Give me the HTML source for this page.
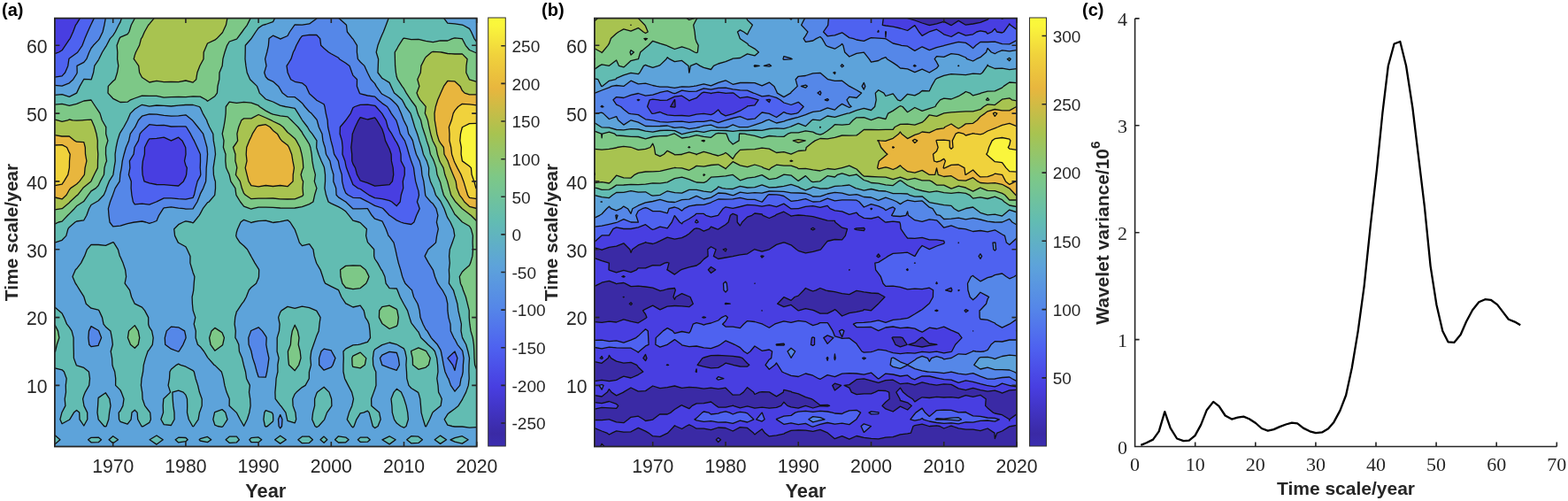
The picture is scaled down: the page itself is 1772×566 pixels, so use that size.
<!DOCTYPE html>
<html><head><meta charset="utf-8"><title>Wavelet analysis</title><style>
html,body{margin:0;padding:0;background:#fff;width:1772px;height:566px;overflow:hidden;}
svg{display:block;}
</style></head><body>
<svg width="1772" height="566" viewBox="0 0 1772 566">
<defs><linearGradient id="par" x1="0" y1="0" x2="0" y2="1"><stop offset="0.000" stop-color="#fafa3a"/><stop offset="0.020" stop-color="#faf53c"/><stop offset="0.087" stop-color="#f0d23c"/><stop offset="0.165" stop-color="#e8b63e"/><stop offset="0.270" stop-color="#a8c350"/><stop offset="0.372" stop-color="#7dc887"/><stop offset="0.475" stop-color="#62bcb2"/><stop offset="0.579" stop-color="#5da3da"/><stop offset="0.676" stop-color="#5587e8"/><stop offset="0.769" stop-color="#4e62f0"/><stop offset="0.862" stop-color="#483ee1"/><stop offset="0.971" stop-color="#3a2aa5"/><stop offset="1.000" stop-color="#3b2db0"/></linearGradient><clipPath id="ca"><rect x="61.9" y="20.6" width="476.8" height="483.9"/></clipPath><clipPath id="cb"><rect x="671.9" y="20.6" width="477.1" height="483.9"/></clipPath></defs>
<rect width="1772" height="566" fill="#fff"/>
<g clip-path="url(#ca)"><rect x="61.9" y="20.6" width="476.8" height="483.9" fill="#3a2aa5"/>
<path fill="#483ee1" fill-rule="evenodd" d="M61.9,20.6 70.1,20.6 78.3,20.6 86.6,20.6 94.8,20.6 103.0,20.6 111.2,20.6 119.4,20.6 127.7,20.6 135.9,20.6 144.1,20.6 152.3,20.6 160.5,20.6 168.8,20.6 177.0,20.6 185.2,20.6 193.4,20.6 201.7,20.6 209.9,20.6 218.1,20.6 226.3,20.6 234.5,20.6 242.8,20.6 251.0,20.6 259.2,20.6 267.4,20.6 275.6,20.6 283.9,20.6 292.1,20.6 300.3,20.6 308.5,20.6 316.7,20.6 325.0,20.6 333.2,20.6 341.4,20.6 349.6,20.6 357.8,20.6 366.1,20.6 374.3,20.6 382.5,20.6 390.7,20.6 398.9,20.6 407.2,20.6 415.4,20.6 423.6,20.6 431.8,20.6 440.1,20.6 448.3,20.6 456.5,20.6 464.7,20.6 472.9,20.6 481.2,20.6 489.4,20.6 497.6,20.6 505.8,20.6 514.0,20.6 522.3,20.6 530.5,20.6 538.7,20.6 538.7,28.3 538.7,36.0 538.7,43.6 538.7,51.3 538.7,59.0 538.7,66.7 538.7,74.4 538.7,82.0 538.7,89.7 538.7,97.4 538.7,105.1 538.7,112.8 538.7,120.5 538.7,128.1 538.7,135.8 538.7,143.5 538.7,151.2 538.7,158.9 538.7,166.5 538.7,174.2 538.7,181.9 538.7,189.6 538.7,197.3 538.7,204.9 538.7,212.6 538.7,220.3 538.7,228.0 538.7,235.7 538.7,243.3 538.7,251.0 538.7,258.7 538.7,266.4 538.7,274.1 538.7,281.8 538.7,289.4 538.7,297.1 538.7,304.8 538.7,312.5 538.7,320.2 538.7,327.8 538.7,335.5 538.7,343.2 538.7,350.9 538.7,358.6 538.7,366.2 538.7,373.9 538.7,381.6 538.7,389.3 538.7,397.0 538.7,404.6 538.7,412.3 538.7,420.0 538.7,427.7 538.7,435.4 538.7,443.1 538.7,450.7 538.7,458.4 538.7,466.1 538.7,473.8 538.7,481.5 538.7,489.1 538.7,496.8 538.7,504.5 530.5,504.5 522.3,504.5 514.0,504.5 505.8,504.5 497.6,504.5 489.4,504.5 481.2,504.5 472.9,504.5 464.7,504.5 456.5,504.5 448.3,504.5 440.1,504.5 431.8,504.5 423.6,504.5 415.4,504.5 407.2,504.5 398.9,504.5 390.7,504.5 382.5,504.5 374.3,504.5 366.1,504.5 357.8,504.5 349.6,504.5 341.4,504.5 333.2,504.5 325.0,504.5 316.7,504.5 308.5,504.5 300.3,504.5 292.1,504.5 283.9,504.5 275.6,504.5 267.4,504.5 259.2,504.5 251.0,504.5 242.8,504.5 234.5,504.5 226.3,504.5 218.1,504.5 209.9,504.5 201.7,504.5 193.4,504.5 185.2,504.5 177.0,504.5 168.8,504.5 160.5,504.5 152.3,504.5 144.1,504.5 135.9,504.5 127.7,504.5 119.4,504.5 111.2,504.5 103.0,504.5 94.8,504.5 86.6,504.5 78.3,504.5 70.1,504.5 61.9,504.5 61.9,496.8 61.9,489.1 61.9,481.5 61.9,473.8 61.9,466.1 61.9,458.4 61.9,450.7 61.9,443.1 61.9,435.4 61.9,427.7 61.9,420.0 61.9,412.3 61.9,404.6 61.9,397.0 61.9,389.3 61.9,381.6 61.9,373.9 61.9,366.2 61.9,358.6 61.9,350.9 61.9,343.2 61.9,335.5 61.9,327.8 61.9,320.2 61.9,312.5 61.9,304.8 61.9,297.1 61.9,289.4 61.9,281.8 61.9,274.1 61.9,266.4 61.9,258.7 61.9,251.0 61.9,243.3 61.9,235.7 61.9,228.0 61.9,220.3 61.9,212.6 61.9,204.9 61.9,197.3 61.9,189.6 61.9,181.9 61.9,174.2 61.9,166.5 61.9,158.9 61.9,151.2 61.9,143.5 61.9,135.8 61.9,128.1 61.9,120.5 61.9,112.8 61.9,105.1 61.9,97.4 61.9,89.7 61.9,82.0 61.9,74.4 61.9,66.7 61.9,59.0 61.9,51.3 61.9,43.6 61.9,36.0 61.9,28.3ZM407.2,132.6 405.1,135.8 401.4,143.5 398.9,149.8 398.3,151.2 397.7,158.9 396.8,166.5 397.7,174.2 397.8,181.9 398.9,185.1 401.5,189.6 403.5,197.3 407.2,204.0 409.8,204.9 415.4,206.7 423.6,210.2 431.8,209.4 440.1,208.6 443.4,204.9 444.7,197.3 444.2,189.6 442.4,181.9 442.1,174.2 440.1,168.3 439.2,166.5 435.5,158.9 433.7,151.2 431.8,145.8 430.5,143.5 425.9,135.8 423.6,132.9 415.4,135.0Z"/>
<path fill="#4e62f0" fill-rule="evenodd" d="M85.5,28.3 86.6,26.8 90.4,20.6 94.8,20.6 103.0,20.6 111.2,20.6 119.4,20.6 127.7,20.6 135.9,20.6 144.1,20.6 152.3,20.6 160.5,20.6 168.8,20.6 177.0,20.6 185.2,20.6 193.4,20.6 201.7,20.6 209.9,20.6 218.1,20.6 226.3,20.6 234.5,20.6 242.8,20.6 251.0,20.6 259.2,20.6 267.4,20.6 275.6,20.6 283.9,20.6 292.1,20.6 300.3,20.6 308.5,20.6 316.7,20.6 325.0,20.6 333.2,20.6 341.4,20.6 349.6,20.6 357.8,20.6 366.1,20.6 374.3,20.6 382.5,20.6 390.7,20.6 398.9,20.6 407.2,20.6 415.4,20.6 423.6,20.6 431.8,20.6 440.1,20.6 448.3,20.6 456.5,20.6 464.7,20.6 472.9,20.6 481.2,20.6 489.4,20.6 497.6,20.6 505.8,20.6 514.0,20.6 522.3,20.6 530.5,20.6 538.7,20.6 538.7,28.3 538.7,36.0 538.7,43.6 538.7,51.3 538.7,59.0 538.7,66.7 538.7,74.4 538.7,82.0 538.7,89.7 538.7,97.4 538.7,105.1 538.7,112.8 538.7,120.5 538.7,128.1 538.7,135.8 538.7,143.5 538.7,151.2 538.7,158.9 538.7,166.5 538.7,174.2 538.7,181.9 538.7,189.6 538.7,197.3 538.7,204.9 538.7,212.6 538.7,220.3 538.7,228.0 538.7,235.7 538.7,243.3 538.7,251.0 538.7,258.7 538.7,266.4 538.7,274.1 538.7,281.8 538.7,289.4 538.7,297.1 538.7,304.8 538.7,312.5 538.7,320.2 538.7,327.8 538.7,335.5 538.7,343.2 538.7,350.9 538.7,358.6 538.7,366.2 538.7,373.9 538.7,381.6 538.7,389.3 538.7,397.0 538.7,404.6 538.7,412.3 538.7,420.0 538.7,427.7 538.7,435.4 538.7,443.1 538.7,450.7 538.7,458.4 538.7,466.1 538.7,473.8 538.7,481.5 538.7,489.1 538.7,496.8 538.7,504.5 530.5,504.5 522.3,504.5 514.0,504.5 505.8,504.5 497.6,504.5 489.4,504.5 481.2,504.5 472.9,504.5 464.7,504.5 456.5,504.5 448.3,504.5 440.1,504.5 431.8,504.5 423.6,504.5 415.4,504.5 407.2,504.5 398.9,504.5 390.7,504.5 382.5,504.5 374.3,504.5 366.1,504.5 357.8,504.5 349.6,504.5 341.4,504.5 333.2,504.5 325.0,504.5 316.7,504.5 308.5,504.5 300.3,504.5 292.1,504.5 283.9,504.5 275.6,504.5 267.4,504.5 259.2,504.5 251.0,504.5 242.8,504.5 234.5,504.5 226.3,504.5 218.1,504.5 209.9,504.5 201.7,504.5 193.4,504.5 185.2,504.5 177.0,504.5 168.8,504.5 160.5,504.5 152.3,504.5 144.1,504.5 135.9,504.5 127.7,504.5 119.4,504.5 111.2,504.5 103.0,504.5 94.8,504.5 86.6,504.5 78.3,504.5 70.1,504.5 61.9,504.5 61.9,496.8 61.9,489.1 61.9,481.5 61.9,473.8 61.9,466.1 61.9,458.4 61.9,450.7 61.9,443.1 61.9,435.4 61.9,427.7 61.9,420.0 61.9,412.3 61.9,404.6 61.9,397.0 61.9,389.3 61.9,381.6 61.9,373.9 61.9,366.2 61.9,358.6 61.9,350.9 61.9,343.2 61.9,335.5 61.9,327.8 61.9,320.2 61.9,312.5 61.9,304.8 61.9,297.1 61.9,289.4 61.9,281.8 61.9,274.1 61.9,266.4 61.9,258.7 61.9,251.0 61.9,243.3 61.9,235.7 61.9,228.0 61.9,220.3 61.9,212.6 61.9,204.9 61.9,197.3 61.9,189.6 61.9,181.9 61.9,174.2 61.9,166.5 61.9,158.9 61.9,151.2 61.9,143.5 61.9,135.8 61.9,128.1 61.9,120.5 61.9,112.8 61.9,105.1 61.9,97.4 61.9,89.7 61.9,82.0 61.9,74.4 61.9,66.7 61.9,60.6 66.5,59.0 70.1,56.8 73.8,51.3 78.3,44.6 79.2,43.6 82.6,36.0ZM168.8,156.9 167.3,158.9 163.5,166.5 163.4,174.2 161.4,181.9 160.7,189.6 161.1,197.3 163.0,204.9 168.8,206.9 177.0,208.5 185.2,208.7 193.4,209.3 201.7,210.0 207.3,204.9 209.9,199.6 210.6,197.3 211.3,189.6 209.9,186.8 208.5,181.9 209.9,174.8 210.0,174.2 209.9,170.0 209.7,166.5 205.9,158.9 201.7,155.2 193.6,158.9 193.4,159.0 193.3,158.9 185.2,155.2 177.0,156.4ZM407.2,118.4 400.9,120.5 398.9,121.7 396.3,128.1 390.8,135.8 390.7,136.0 384.4,143.5 384.1,151.2 386.4,158.9 387.2,166.5 387.0,174.2 389.9,181.9 390.7,186.3 391.5,189.6 394.4,197.3 397.5,204.9 398.9,208.4 404.3,212.6 407.2,213.5 415.4,219.3 416.9,220.3 423.6,223.6 431.8,224.7 440.1,226.6 442.8,228.0 448.3,232.7 452.2,228.0 453.3,220.3 455.7,212.6 455.3,204.9 456.5,200.2 457.3,197.3 457.2,189.6 456.5,188.3 453.2,181.9 453.0,174.2 451.0,166.5 448.3,160.9 446.9,158.9 442.7,151.2 440.1,147.4 438.2,143.5 436.2,135.8 431.8,128.4 431.6,128.1 424.9,120.5 423.6,119.3 415.4,118.2Z"/>
<path fill="#5587e8" fill-rule="evenodd" d="M102.6,28.3 103.0,27.5 106.3,20.6 111.2,20.6 119.4,20.6 127.7,20.6 135.9,20.6 144.1,20.6 152.3,20.6 160.5,20.6 168.8,20.6 177.0,20.6 185.2,20.6 193.4,20.6 201.7,20.6 209.9,20.6 218.1,20.6 226.3,20.6 234.5,20.6 242.8,20.6 251.0,20.6 259.2,20.6 267.4,20.6 275.6,20.6 283.9,20.6 292.1,20.6 300.3,20.6 308.5,20.6 316.7,20.6 325.0,20.6 333.2,20.6 341.4,20.6 349.6,20.6 357.8,20.6 366.1,20.6 374.3,20.6 382.5,20.6 390.7,20.6 398.9,20.6 407.2,20.6 415.4,20.6 423.6,20.6 431.8,20.6 440.1,20.6 448.3,20.6 456.5,20.6 464.7,20.6 472.9,20.6 481.2,20.6 489.4,20.6 497.6,20.6 505.8,20.6 514.0,20.6 522.3,20.6 530.5,20.6 538.7,20.6 538.7,28.3 538.7,36.0 538.7,43.6 538.7,51.3 538.7,59.0 538.7,66.7 538.7,74.4 538.7,82.0 538.7,89.7 538.7,97.4 538.7,105.1 538.7,112.8 538.7,120.5 538.7,128.1 538.7,135.8 538.7,143.5 538.7,151.2 538.7,158.9 538.7,166.5 538.7,174.2 538.7,181.9 538.7,189.6 538.7,197.3 538.7,204.9 538.7,212.6 538.7,220.3 538.7,228.0 538.7,235.7 538.7,243.3 538.7,251.0 538.7,258.7 538.7,266.4 538.7,274.1 538.7,281.8 538.7,289.4 538.7,297.1 538.7,304.8 538.7,312.5 538.7,320.2 538.7,327.8 538.7,335.5 538.7,343.2 538.7,350.9 538.7,358.6 538.7,366.2 538.7,373.9 538.7,381.6 538.7,389.3 538.7,397.0 538.7,404.6 538.7,412.3 538.7,420.0 538.7,427.7 538.7,435.4 538.7,443.1 538.7,450.7 538.7,458.4 538.7,466.1 538.7,473.8 538.7,481.5 538.7,489.1 538.7,496.8 538.7,504.5 530.5,504.5 522.3,504.5 514.0,504.5 505.8,504.5 497.6,504.5 489.4,504.5 481.2,504.5 472.9,504.5 464.7,504.5 456.5,504.5 448.3,504.5 440.1,504.5 431.8,504.5 423.6,504.5 415.4,504.5 407.2,504.5 398.9,504.5 390.7,504.5 382.5,504.5 374.3,504.5 366.1,504.5 357.8,504.5 349.6,504.5 341.4,504.5 333.2,504.5 325.0,504.5 316.7,504.5 308.5,504.5 300.3,504.5 292.1,504.5 283.9,504.5 275.6,504.5 267.4,504.5 259.2,504.5 251.0,504.5 242.8,504.5 234.5,504.5 226.3,504.5 218.1,504.5 209.9,504.5 201.7,504.5 193.4,504.5 185.2,504.5 177.0,504.5 168.8,504.5 160.5,504.5 152.3,504.5 144.1,504.5 135.9,504.5 127.7,504.5 119.4,504.5 111.2,504.5 103.0,504.5 94.8,504.5 86.6,504.5 78.3,504.5 70.1,504.5 61.9,504.5 61.9,496.8 61.9,489.1 61.9,481.5 61.9,473.8 61.9,466.1 61.9,458.4 61.9,450.7 61.9,443.1 61.9,435.4 61.9,427.7 61.9,420.0 61.9,412.3 61.9,404.6 61.9,397.0 61.9,389.3 61.9,381.6 61.9,373.9 61.9,366.2 61.9,358.6 61.9,350.9 61.9,343.2 61.9,335.5 61.9,327.8 61.9,320.2 61.9,312.5 61.9,304.8 61.9,297.1 61.9,289.4 61.9,281.8 61.9,274.1 61.9,266.4 61.9,258.7 61.9,251.0 61.9,243.3 61.9,235.7 61.9,228.0 61.9,220.3 61.9,212.6 61.9,204.9 61.9,197.3 61.9,189.6 61.9,181.9 61.9,174.2 61.9,166.5 61.9,158.9 61.9,151.2 61.9,143.5 61.9,135.8 61.9,128.1 61.9,120.5 61.9,112.8 61.9,105.1 61.9,97.4 61.9,89.7 61.9,87.2 70.1,85.9 73.6,82.0 76.8,74.4 77.9,66.7 78.3,66.1 86.6,60.0 87.8,59.0 93.0,51.3 94.8,46.6 95.9,43.6 99.1,36.0ZM168.8,140.7 165.7,143.5 160.5,148.4 158.2,151.2 156.4,158.9 152.3,166.0 152.0,166.5 151.1,174.2 146.4,181.9 146.9,189.6 145.4,197.3 148.3,204.9 148.1,212.6 148.9,220.3 150.4,228.0 152.3,230.8 160.5,230.1 168.8,231.1 176.7,228.0 177.0,227.8 185.2,223.9 193.4,223.8 201.7,224.6 209.9,225.2 218.1,223.3 219.4,220.3 221.1,212.6 223.1,204.9 226.3,198.9 226.8,197.3 226.3,190.3 226.2,189.6 226.3,187.1 226.5,181.9 226.4,174.2 226.3,174.0 222.9,166.5 219.4,158.9 218.1,156.6 215.3,151.2 210.6,143.5 209.9,142.9 201.7,142.8 193.4,143.0 185.2,141.3 177.0,141.6ZM341.4,40.7 339.1,43.6 334.9,51.3 333.2,55.6 331.4,59.0 328.9,66.7 325.0,73.0 324.0,74.4 325.0,81.4 325.1,82.0 328.6,89.7 333.2,92.3 341.4,93.8 345.9,97.4 349.3,105.1 349.6,105.8 357.4,112.8 357.8,113.2 366.1,117.7 367.0,120.5 368.3,128.1 370.1,135.8 370.6,143.5 372.4,151.2 374.0,158.9 374.3,159.9 376.1,166.5 377.6,174.2 382.3,181.9 382.5,182.9 383.8,189.6 386.3,197.3 386.7,204.9 388.5,212.6 390.7,217.9 393.3,220.3 398.9,223.3 407.2,223.6 415.4,227.8 415.8,228.0 423.6,232.4 431.8,235.0 433.0,235.7 440.1,243.3 440.2,243.3 448.3,248.9 453.0,251.0 456.5,252.2 464.7,253.5 467.9,251.0 470.7,243.3 472.9,238.6 474.2,235.7 472.9,231.8 471.4,228.0 472.9,223.1 473.5,220.3 472.9,215.6 471.9,212.6 469.7,204.9 468.5,197.3 467.5,189.6 464.7,182.0 464.6,181.9 462.2,174.2 460.0,166.5 457.4,158.9 456.5,157.6 452.3,151.2 450.2,143.5 448.3,137.4 447.7,135.8 442.2,128.1 440.1,124.4 437.6,120.5 431.8,116.6 427.3,112.8 423.6,109.1 415.4,108.0 407.2,105.9 406.3,105.1 403.4,97.4 403.5,89.7 398.9,85.1 397.7,82.0 395.0,74.4 390.7,71.2 383.5,66.7 382.5,65.2 374.3,60.7 371.4,59.0 366.1,54.4 362.7,51.3 361.7,43.6 357.8,39.5 349.6,39.3ZM514.0,397.0 505.9,404.6 511.6,412.3 514.0,418.5 515.2,412.3 516.9,404.6Z"/>
<path fill="#5da3da" fill-rule="evenodd" d="M119.3,20.6 119.4,20.6 127.7,20.6 135.9,20.6 144.1,20.6 152.3,20.6 160.5,20.6 168.8,20.6 177.0,20.6 185.2,20.6 193.4,20.6 201.7,20.6 209.9,20.6 218.1,20.6 226.3,20.6 234.5,20.6 242.8,20.6 251.0,20.6 259.2,20.6 267.4,20.6 275.6,20.6 283.9,20.6 292.1,20.6 300.3,20.6 308.5,20.6 316.7,20.6 325.0,20.6 333.2,20.6 341.4,20.6 349.6,20.6 357.8,20.6 358.0,20.6 357.8,20.9 349.6,26.9 341.4,28.2 333.2,27.9 332.8,28.3 327.4,36.0 325.0,40.5 317.8,43.6 316.7,44.1 316.2,43.6 308.5,40.2 304.0,43.6 303.4,51.3 301.7,59.0 300.3,64.1 299.6,66.7 300.3,70.4 301.0,74.4 300.3,76.6 298.7,82.0 300.3,86.7 303.0,89.7 308.5,92.1 314.6,97.4 316.7,100.8 319.2,105.1 325.0,109.4 333.2,109.7 337.1,112.8 341.4,116.4 344.5,120.5 349.6,126.3 352.0,128.1 357.8,135.0 358.3,135.8 360.3,143.5 364.0,151.2 364.9,158.9 366.1,163.0 367.3,166.5 368.5,174.2 372.9,181.9 374.3,188.5 374.5,189.6 376.9,197.3 376.8,204.9 379.7,212.6 380.1,220.3 382.5,222.9 390.6,228.0 390.7,228.0 398.7,235.7 398.9,235.9 407.2,235.9 414.6,235.7 415.4,235.7 415.4,235.7 420.2,243.3 423.6,247.2 431.8,249.9 432.5,251.0 436.2,258.7 439.0,266.4 440.1,267.3 445.0,274.1 446.9,281.8 448.3,288.3 448.5,289.4 450.3,297.1 452.7,304.8 454.7,312.5 456.5,317.1 458.0,320.2 464.7,327.1 465.5,327.8 467.6,335.5 472.0,343.2 472.9,346.3 474.1,350.9 475.0,358.6 478.1,366.2 481.2,372.2 482.8,373.9 487.3,381.6 489.4,384.0 494.3,389.3 497.6,394.8 498.4,397.0 499.9,404.6 501.3,412.3 503.0,420.0 505.8,426.3 506.8,427.7 509.4,435.4 514.0,442.2 519.7,435.4 521.0,427.7 522.3,424.5 523.2,420.0 523.4,412.3 524.1,404.6 522.8,397.0 522.3,395.9 517.0,389.3 514.0,383.3 512.8,381.6 509.3,373.9 509.0,366.2 506.9,358.6 505.9,350.9 505.8,343.2 505.8,343.1 504.1,335.5 500.0,327.8 497.6,324.7 494.6,320.2 491.5,312.5 489.4,305.0 489.3,304.8 484.4,297.1 481.2,291.4 480.1,289.4 481.2,287.1 483.9,281.8 489.4,277.0 492.5,274.1 493.6,266.4 495.3,258.7 493.4,251.0 494.9,243.3 492.9,235.7 489.4,230.3 486.7,228.0 481.2,221.6 480.7,220.3 479.8,212.6 478.8,204.9 476.9,197.3 476.2,189.6 474.2,181.9 472.9,179.4 470.4,174.2 468.2,166.5 466.4,158.9 464.7,155.6 461.7,151.2 460.1,143.5 456.5,136.4 456.2,135.8 453.3,128.1 449.9,120.5 448.3,118.3 442.6,112.8 440.1,110.7 431.8,106.2 430.7,105.1 425.2,97.4 423.6,94.4 419.2,89.7 415.4,82.3 415.3,82.0 411.9,74.4 407.2,70.0 404.4,66.7 403.4,59.0 403.5,51.3 398.9,44.0 398.4,43.6 392.4,36.0 391.5,28.3 390.7,27.6 382.9,20.6 390.7,20.6 398.9,20.6 407.2,20.6 415.4,20.6 423.6,20.6 431.8,20.6 440.1,20.6 448.3,20.6 456.5,20.6 464.7,20.6 472.9,20.6 481.2,20.6 489.4,20.6 497.6,20.6 505.8,20.6 514.0,20.6 522.3,20.6 530.5,20.6 538.7,20.6 538.7,28.3 538.7,36.0 538.7,43.6 538.7,51.3 538.7,59.0 538.7,66.7 538.7,74.4 538.7,82.0 538.7,89.7 538.7,97.4 538.7,105.1 538.7,112.8 538.7,120.5 538.7,128.1 538.7,135.8 538.7,143.5 538.7,151.2 538.7,158.9 538.7,166.5 538.7,174.2 538.7,181.9 538.7,189.6 538.7,197.3 538.7,204.9 538.7,212.6 538.7,220.3 538.7,228.0 538.7,235.7 538.7,243.3 538.7,251.0 538.7,258.7 538.7,266.4 538.7,274.1 538.7,281.8 538.7,289.4 538.7,297.1 538.7,304.8 538.7,312.5 538.7,320.2 538.7,327.8 538.7,335.5 538.7,343.2 538.7,350.9 538.7,358.6 538.7,366.2 538.7,373.9 538.7,381.6 538.7,389.3 538.7,397.0 538.7,404.6 538.7,412.3 538.7,420.0 538.7,427.7 538.7,435.4 538.7,443.1 538.7,450.7 538.7,458.4 538.7,466.1 538.7,473.8 538.7,481.5 538.7,489.1 538.7,496.8 538.7,504.5 530.5,504.5 522.3,504.5 514.0,504.5 505.8,504.5 497.6,504.5 489.4,504.5 481.2,504.5 472.9,504.5 464.7,504.5 456.5,504.5 448.3,504.5 440.1,504.5 431.8,504.5 423.6,504.5 415.4,504.5 407.2,504.5 398.9,504.5 390.7,504.5 382.5,504.5 374.3,504.5 366.1,504.5 357.8,504.5 349.6,504.5 341.4,504.5 333.2,504.5 325.0,504.5 316.7,504.5 308.5,504.5 300.3,504.5 292.1,504.5 283.9,504.5 275.6,504.5 267.4,504.5 259.2,504.5 251.0,504.5 242.8,504.5 234.5,504.5 226.3,504.5 218.1,504.5 209.9,504.5 201.7,504.5 193.4,504.5 185.2,504.5 177.0,504.5 168.8,504.5 160.5,504.5 152.3,504.5 144.1,504.5 135.9,504.5 127.7,504.5 119.4,504.5 111.2,504.5 103.0,504.5 94.8,504.5 86.6,504.5 78.3,504.5 70.1,504.5 61.9,504.5 61.9,496.8 61.9,489.1 61.9,481.5 61.9,473.8 61.9,466.1 61.9,458.4 61.9,450.7 61.9,443.1 61.9,435.4 61.9,427.7 61.9,420.0 61.9,412.3 61.9,404.6 61.9,397.0 61.9,389.3 61.9,381.6 61.9,373.9 61.9,366.2 61.9,358.6 61.9,350.9 61.9,343.2 61.9,335.5 61.9,327.8 61.9,320.2 61.9,312.5 61.9,304.8 61.9,297.1 61.9,289.4 61.9,281.8 61.9,274.1 61.9,266.4 61.9,258.7 61.9,251.0 61.9,243.3 61.9,235.7 61.9,228.0 61.9,220.3 61.9,212.6 61.9,204.9 61.9,197.3 61.9,189.6 61.9,181.9 61.9,174.2 61.9,166.5 61.9,158.9 61.9,151.2 61.9,143.5 61.9,135.8 61.9,128.1 61.9,120.5 61.9,112.8 61.9,105.1 61.9,97.4 61.9,96.3 70.1,97.2 78.3,93.8 82.7,89.7 86.6,83.5 87.2,82.0 87.0,74.4 94.8,70.3 97.8,66.7 100.8,59.0 103.0,54.5 105.5,51.3 111.2,45.4 112.4,43.6 116.1,36.0 117.9,28.3ZM160.5,131.2 156.4,135.8 152.7,143.5 152.3,144.0 147.3,151.2 145.6,158.9 144.1,162.6 142.4,166.5 140.2,174.2 138.3,181.9 137.3,189.6 135.9,196.7 135.8,197.3 135.2,204.9 130.2,212.6 127.7,219.6 127.5,220.3 124.5,228.0 122.4,235.7 123.0,243.3 124.0,251.0 127.7,255.9 135.9,255.2 144.1,252.7 151.9,251.0 152.3,251.0 160.5,250.0 164.8,251.0 168.8,252.4 173.2,251.0 177.0,249.5 179.6,243.3 184.5,235.7 185.2,234.9 193.4,233.8 201.7,235.1 207.7,235.7 209.9,236.1 218.1,235.8 218.2,235.7 222.9,228.0 226.0,220.3 226.3,219.1 229.7,212.6 232.6,204.9 233.0,197.3 233.2,189.6 234.0,181.9 234.5,174.8 234.6,174.2 234.5,173.5 233.9,166.5 231.8,158.9 229.6,151.2 226.3,146.9 223.6,143.5 218.1,136.6 217.3,135.8 209.9,129.8 201.7,130.9 193.4,131.2 185.2,130.4 177.0,129.2 168.8,128.8ZM283.9,373.5 283.6,373.9 280.8,381.6 281.1,389.3 283.9,396.6 284.0,397.0 285.6,404.6 288.2,412.3 290.2,420.0 292.1,425.8 300.3,426.1 301.7,420.0 302.9,412.3 303.9,404.6 302.2,397.0 300.8,389.3 301.2,381.6 300.3,379.6 296.4,373.9 292.1,369.8ZM316.7,468.6 314.5,473.8 315.1,481.5 316.7,483.9 318.5,481.5 319.0,473.8ZM366.1,394.1 363.0,397.0 360.6,404.6 360.7,412.3 366.1,418.2 374.3,414.9 376.1,412.3 379.0,404.6 374.8,397.0 374.3,395.8ZM431.8,401.1 429.4,404.6 431.8,412.3 431.8,412.4 440.1,415.6 448.3,418.3 451.4,412.3 450.3,404.6 448.3,398.5 440.1,397.4ZM103.0,368.6 100.5,373.9 99.9,381.6 100.8,389.3 103.0,391.6 111.2,390.3 111.4,389.3 114.6,381.6 111.7,373.9 111.2,373.3ZM193.4,369.1 188.3,373.9 186.3,381.6 186.7,389.3 193.4,394.2 200.9,397.0 201.7,397.2 202.2,397.0 206.9,389.3 209.9,382.2 210.1,381.6 209.9,379.7 208.6,373.9 201.7,369.8Z"/>
<path fill="#62bcb2" fill-rule="evenodd" d="M134.1,28.3 135.9,25.1 137.4,20.6 144.1,20.6 152.3,20.6 160.5,20.6 168.8,20.6 177.0,20.6 185.2,20.6 193.4,20.6 201.7,20.6 209.9,20.6 218.1,20.6 226.3,20.6 234.5,20.6 242.8,20.6 251.0,20.6 259.2,20.6 267.4,20.6 275.6,20.6 283.9,20.6 292.1,20.6 300.3,20.6 308.5,20.6 310.5,20.6 308.5,24.7 300.3,27.5 297.1,28.3 292.1,31.6 289.0,36.0 284.0,43.6 283.9,43.7 277.3,51.3 277.2,59.0 277.0,66.7 277.9,74.4 279.2,82.0 282.6,89.7 283.9,91.0 290.5,97.4 292.1,101.5 293.3,105.1 300.3,112.0 302.5,112.8 308.5,115.0 316.7,119.1 322.5,120.5 325.0,120.8 333.2,122.4 336.9,128.1 341.4,135.5 341.6,135.8 347.5,143.5 349.6,147.3 352.8,151.2 357.8,158.6 358.0,158.9 357.8,162.6 357.7,166.5 357.8,167.0 360.0,174.2 363.2,181.9 366.1,188.2 366.5,189.6 367.5,197.3 367.5,204.9 366.9,212.6 368.5,220.3 371.1,228.0 374.3,229.9 382.5,233.6 386.3,235.7 390.7,238.8 394.4,243.3 398.9,249.1 405.8,251.0 407.2,251.6 414.4,258.7 413.6,266.4 415.4,273.3 415.9,274.1 422.7,281.8 422.7,289.4 423.6,292.5 426.8,297.1 430.9,304.8 431.8,305.8 434.9,312.5 436.1,320.2 440.1,325.7 448.3,326.0 449.1,327.8 452.1,335.5 456.2,343.2 456.5,343.8 460.5,350.9 462.8,358.6 464.7,364.5 465.8,366.2 471.8,373.9 472.9,375.0 475.7,381.6 481.2,386.7 483.6,389.3 489.4,394.5 491.4,397.0 493.7,404.6 494.6,412.3 495.0,420.0 493.8,427.7 495.0,435.4 495.6,443.1 497.6,447.0 499.3,450.7 498.1,458.4 497.6,458.8 489.4,465.6 488.9,466.1 485.6,473.8 481.7,481.5 481.2,481.9 480.6,481.5 478.2,473.8 476.1,466.1 475.5,458.4 474.8,450.7 472.9,443.8 472.3,443.1 464.7,438.5 461.9,435.4 459.8,427.7 459.5,420.0 458.9,412.3 459.4,404.6 457.8,397.0 456.5,393.9 448.6,389.3 448.3,389.1 440.1,387.0 432.8,389.3 431.8,389.6 423.6,394.8 422.4,397.0 421.4,404.6 421.7,412.3 423.6,417.7 424.8,420.0 424.9,427.7 425.0,435.4 423.6,439.8 422.4,443.1 419.6,450.7 419.8,458.4 423.6,461.8 428.6,466.1 430.2,473.8 427.1,481.5 423.6,483.6 421.3,481.5 419.3,473.8 417.2,466.1 415.4,464.2 410.9,466.1 407.2,466.9 402.9,473.8 400.1,481.5 398.9,482.9 397.2,481.5 392.3,473.8 394.5,466.1 397.8,458.4 398.9,453.5 399.5,450.7 398.9,448.4 397.6,443.1 393.5,435.4 390.7,429.9 389.6,427.7 388.0,420.0 388.0,412.3 388.3,404.6 388.0,397.0 390.7,394.1 398.9,389.9 405.1,389.3 407.2,388.9 415.4,386.4 418.5,381.6 418.0,373.9 417.0,366.2 415.4,362.3 412.9,358.6 411.2,350.9 407.2,345.2 398.9,347.0 391.4,343.2 390.7,342.9 385.9,335.5 382.6,327.8 382.5,327.7 374.3,323.6 367.6,320.2 366.1,317.1 364.7,312.5 362.1,304.8 357.8,297.5 357.6,297.1 355.2,289.4 354.0,281.8 349.6,275.7 341.4,277.6 338.4,274.1 335.8,266.4 333.2,259.2 332.8,258.7 327.9,251.0 325.0,248.6 316.7,250.4 311.7,251.0 308.5,251.5 307.2,251.0 300.3,249.1 292.1,249.7 285.4,251.0 283.9,251.6 282.8,251.0 275.6,248.3 272.0,251.0 268.5,258.7 267.4,262.2 266.7,266.4 267.4,268.3 271.2,274.1 275.6,277.8 279.5,281.8 283.7,289.4 283.9,289.8 288.0,297.1 292.1,303.6 292.7,304.8 292.5,312.5 292.1,314.3 289.5,320.2 283.9,324.8 281.3,327.8 278.3,335.5 275.6,340.4 273.4,343.2 268.3,350.9 267.4,352.0 265.7,358.6 265.1,366.2 266.3,373.9 265.9,381.6 267.4,384.0 269.8,389.3 270.4,397.0 273.6,404.6 275.4,412.3 275.6,413.3 277.5,420.0 278.6,427.7 282.4,435.4 281.5,443.1 282.7,450.7 283.1,458.4 281.8,466.1 279.4,473.8 275.6,481.3 271.3,473.8 267.4,466.3 267.2,466.1 259.2,458.5 259.1,458.4 259.2,454.0 259.3,450.7 259.2,450.6 256.1,443.1 253.9,435.4 252.5,427.7 251.0,422.1 250.3,420.0 242.8,412.6 242.0,412.3 235.3,404.6 234.5,403.6 230.5,397.0 226.3,391.7 223.4,389.3 221.1,381.6 221.3,373.9 219.2,366.2 220.8,358.6 218.2,350.9 218.1,350.2 217.4,343.2 217.1,335.5 218.1,331.1 218.7,327.8 219.2,320.2 219.9,312.5 218.1,307.9 217.2,304.8 214.9,297.1 215.0,289.4 211.5,281.8 209.9,278.8 201.7,274.2 201.4,274.1 197.6,266.4 196.7,258.7 201.7,253.7 207.0,251.0 209.9,249.8 216.1,251.0 218.1,251.8 219.0,251.0 225.1,243.3 226.3,241.4 229.3,235.7 234.5,228.9 236.2,228.0 242.7,220.3 242.8,219.4 243.5,212.6 243.4,204.9 242.8,203.6 241.4,197.3 241.1,189.6 242.3,181.9 242.8,178.5 243.5,174.2 242.8,167.2 242.7,166.5 241.3,158.9 240.8,151.2 236.7,143.5 234.5,138.5 233.6,135.8 229.2,128.1 226.3,121.4 225.1,120.5 218.1,118.5 209.9,118.5 201.7,119.1 193.4,120.0 185.2,119.3 177.0,119.0 168.8,120.2 160.5,118.3 156.6,120.5 152.3,123.3 147.4,128.1 144.1,135.8 144.1,135.8 139.9,143.5 135.9,149.8 135.2,151.2 132.8,158.9 131.2,166.5 130.1,174.2 130.3,181.9 129.0,189.6 127.9,197.3 127.7,197.8 123.3,204.9 120.3,212.6 119.4,215.6 117.3,220.3 111.2,226.8 109.1,228.0 103.0,231.5 100.6,235.7 97.9,243.3 94.8,248.8 86.6,250.0 84.9,251.0 78.3,256.7 76.9,258.7 74.8,266.4 70.1,271.3 61.9,274.1 61.9,266.4 61.9,258.7 61.9,251.0 61.9,243.3 61.9,235.7 61.9,228.0 61.9,220.3 61.9,212.6 61.9,204.9 61.9,197.3 61.9,189.6 61.9,181.9 61.9,174.2 61.9,166.5 61.9,158.9 61.9,151.2 61.9,143.5 61.9,135.8 61.9,128.1 61.9,120.5 61.9,112.8 61.9,107.4 70.1,106.7 78.3,109.3 86.6,105.2 86.6,105.1 90.2,97.4 94.6,89.7 94.8,89.3 100.1,89.7 103.0,89.9 103.2,89.7 105.6,82.0 106.8,74.4 111.2,67.8 111.8,66.7 115.6,59.0 119.4,52.9 120.4,51.3 124.4,43.6 127.7,40.1 130.3,36.0ZM439.2,20.6 440.1,20.6 448.3,20.6 456.5,20.6 464.7,20.6 472.9,20.6 481.2,20.6 489.4,20.6 497.6,20.6 501.7,20.6 505.8,26.2 514.0,26.9 522.3,28.1 523.0,28.3 530.5,32.4 532.6,36.0 535.9,43.6 538.7,47.3 538.7,51.3 538.7,59.0 538.7,66.7 538.7,74.4 538.7,82.0 538.7,89.7 538.7,97.4 538.7,105.1 538.7,112.8 538.7,120.5 538.7,128.1 538.7,135.8 538.7,143.5 538.7,151.2 538.7,158.9 538.7,166.5 538.7,174.2 538.7,181.9 538.7,189.6 538.7,197.3 538.7,204.9 538.7,212.6 538.7,220.3 538.7,228.0 538.7,235.7 538.7,243.3 538.7,251.0 538.7,258.7 538.7,266.4 538.7,274.1 538.7,281.8 538.7,289.4 538.7,297.1 538.7,304.8 538.7,312.5 538.7,320.2 538.7,327.8 538.7,335.5 538.7,343.2 538.7,350.9 538.7,358.6 538.7,366.2 538.7,373.9 538.7,381.6 538.7,389.3 538.7,397.0 538.7,404.6 538.7,412.3 538.7,420.0 538.7,427.7 538.7,435.4 538.7,443.1 538.7,450.7 538.7,458.4 538.7,466.1 538.7,473.8 538.7,481.5 538.7,482.7 530.5,483.2 522.3,482.0 514.0,482.0 510.9,481.5 505.8,480.1 502.2,473.8 505.8,468.1 508.0,466.1 514.0,461.8 518.0,458.4 522.3,451.7 522.7,450.7 526.6,443.1 529.3,435.4 530.2,427.7 529.9,420.0 530.0,412.3 530.5,404.6 528.9,397.0 526.7,389.3 522.6,381.6 522.3,380.4 521.0,373.9 521.4,366.2 519.7,358.6 517.9,350.9 516.9,343.2 514.7,335.5 514.0,333.4 512.4,327.8 507.4,320.2 507.8,312.5 507.4,304.8 508.3,297.1 507.6,289.4 508.3,281.8 511.2,274.1 513.8,266.4 512.5,258.7 509.0,251.0 505.8,245.9 504.7,243.3 502.0,235.7 498.2,228.0 497.6,227.0 492.4,220.3 490.0,212.6 489.4,211.5 486.4,204.9 484.5,197.3 484.7,189.6 482.3,181.9 481.2,179.8 478.4,174.2 476.5,166.5 473.9,158.9 472.9,155.4 471.6,151.2 468.7,143.5 466.4,135.8 464.7,130.2 464.0,128.1 458.4,120.5 456.5,116.6 454.4,112.8 448.3,107.3 445.5,105.1 442.0,97.4 440.1,93.4 434.2,89.7 431.8,88.4 427.0,82.0 427.3,74.4 427.6,66.7 425.2,59.0 427.0,51.3 430.0,43.6 431.8,39.3 433.3,36.0 436.3,28.3ZM126.7,274.1 127.7,273.6 128.6,274.1 133.4,281.8 135.4,289.4 135.9,290.1 139.0,297.1 141.6,304.8 142.6,312.5 141.1,320.2 144.1,324.3 146.6,327.8 148.6,335.5 152.3,343.2 152.3,343.2 160.5,347.1 163.6,350.9 167.7,358.6 167.7,366.2 168.8,369.7 171.6,373.9 173.2,381.6 172.3,389.3 168.8,394.6 167.0,397.0 164.4,404.6 162.3,412.3 161.6,420.0 160.5,425.3 160.0,427.7 159.4,435.4 160.5,442.1 160.7,443.1 161.1,450.7 163.7,458.4 168.8,465.0 169.7,466.1 170.4,473.8 168.8,477.4 162.1,481.5 160.5,481.9 160.0,481.5 155.7,473.8 155.1,466.1 152.3,463.3 149.0,466.1 148.1,473.8 144.1,479.1 135.9,476.3 134.5,473.8 134.2,466.1 135.9,464.2 138.9,458.4 140.0,450.7 137.1,443.1 135.9,440.6 130.6,435.4 130.7,427.7 129.7,420.0 127.7,414.7 127.0,412.3 126.6,404.6 125.2,397.0 127.4,389.3 126.4,381.6 124.9,373.9 119.4,369.2 117.0,366.2 115.5,358.6 111.9,350.9 111.2,350.1 103.0,348.2 97.3,343.2 94.9,335.5 94.8,335.2 90.2,327.8 86.6,322.0 85.3,320.2 82.0,312.5 85.3,304.8 86.6,303.6 91.6,297.1 94.8,290.6 95.5,289.4 98.4,281.8 103.0,276.3 111.2,276.5 119.4,277.3ZM61.9,350.9 61.9,347.0 66.6,350.9 70.1,354.0 72.4,358.6 75.5,366.2 78.3,369.6 81.1,373.9 83.1,381.6 83.1,389.3 83.3,397.0 83.4,404.6 86.2,412.3 86.6,412.8 94.8,415.4 100.4,420.0 101.5,427.7 100.7,435.4 96.3,443.1 94.8,446.8 93.6,450.7 94.8,457.5 94.9,458.4 98.7,466.1 98.8,473.8 94.8,481.0 90.0,473.8 89.7,466.1 86.6,463.4 83.5,466.1 78.8,473.8 78.3,474.3 70.1,478.8 67.9,473.8 69.9,466.1 70.1,465.7 73.9,458.4 73.2,450.7 74.5,443.1 74.3,435.4 75.2,427.7 72.4,420.0 70.1,417.8 61.9,415.8 61.9,412.3 61.9,404.6 61.9,397.0 61.9,389.3 61.9,381.6 61.9,373.9 61.9,366.2 61.9,358.6ZM318.1,350.9 325.0,346.4 333.2,348.4 341.4,346.1 349.6,347.6 357.3,350.9 357.8,351.2 362.1,358.6 361.0,366.2 360.2,373.9 357.8,379.5 357.1,381.6 354.4,389.3 351.7,397.0 350.8,404.6 351.5,412.3 349.6,419.5 349.4,420.0 349.3,427.7 345.1,435.4 341.4,437.6 335.0,443.1 333.2,445.1 330.7,450.7 331.1,458.4 333.2,464.3 333.9,466.1 334.7,473.8 333.2,477.9 325.0,475.4 324.6,473.8 322.9,466.1 317.3,458.4 316.7,457.9 311.2,450.7 310.9,443.1 311.6,435.4 312.1,427.7 313.9,420.0 313.8,412.3 315.1,404.6 313.1,397.0 313.2,389.3 313.2,381.6 315.5,373.9 316.1,366.2 314.6,358.6 316.7,352.9ZM199.4,412.3 201.7,411.2 204.1,412.3 209.9,414.2 218.1,418.6 219.3,420.0 221.1,427.7 223.6,435.4 225.4,443.1 226.3,445.5 228.2,450.7 228.2,458.4 226.3,463.8 225.4,466.1 224.1,473.8 218.9,481.5 218.1,481.8 217.6,481.5 213.3,473.8 211.5,466.1 211.7,458.4 211.5,450.7 209.9,446.1 207.1,443.1 201.7,441.1 194.9,443.1 195.2,450.7 195.8,458.4 197.0,466.1 197.1,473.8 193.4,480.5 185.2,479.6 181.9,473.8 184.5,466.1 184.2,458.4 184.8,450.7 185.2,450.2 192.6,443.1 190.1,435.4 191.5,427.7 191.9,420.0 193.4,417.2ZM358.6,443.1 366.1,437.2 372.0,443.1 374.3,449.7 374.6,450.7 374.9,458.4 374.3,459.4 369.5,466.1 366.7,473.8 366.1,474.6 360.0,481.5 357.8,482.6 356.1,481.5 352.7,473.8 353.6,466.1 355.6,458.4 355.6,450.7 357.8,444.4ZM445.1,443.1 448.3,439.3 453.4,443.1 456.5,449.9 456.7,450.7 459.1,458.4 460.7,466.1 461.4,473.8 459.0,481.5 456.5,483.2 452.8,481.5 448.3,478.1 445.5,473.8 443.3,466.1 442.9,458.4 442.0,450.7ZM111.0,450.7 111.2,449.4 119.4,443.8 123.8,450.7 125.0,458.4 123.6,466.1 122.8,473.8 120.1,481.5 119.4,481.9 117.7,481.5 111.2,473.9 111.2,473.8 110.0,466.1 110.6,458.4ZM242.5,466.1 242.8,465.7 251.0,462.6 254.8,466.1 257.0,473.8 252.1,481.5 251.0,482.3 245.9,481.5 242.8,480.1 240.8,473.8ZM298.8,466.1 300.3,463.7 307.3,466.1 308.5,468.1 308.8,473.8 308.5,476.0 302.3,481.5 300.3,482.0 299.5,481.5 297.9,473.8ZM61.9,496.8 61.9,491.6 67.9,496.8 61.9,501.9ZM99.6,496.8 103.0,494.3 111.2,494.1 114.5,496.8 111.2,499.7 103.0,499.8ZM123.1,496.8 127.7,492.7 133.5,496.8 127.7,500.8ZM169.1,496.8 177.0,492.0 184.2,496.8 177.0,502.1ZM198.2,496.8 201.7,494.2 209.9,494.5 212.2,496.8 209.9,498.7 201.7,499.9ZM225.2,496.8 226.3,495.7 234.5,493.4 238.7,496.8 234.5,499.6 226.3,498.0ZM255.1,496.8 259.2,493.2 267.4,493.2 270.4,496.8 267.4,499.8 259.2,500.3ZM281.9,496.8 283.9,494.6 292.1,493.9 295.7,496.8 292.1,499.7 283.9,499.5ZM310.6,496.8 316.7,492.2 323.3,496.8 316.7,501.1ZM336.8,496.8 341.4,493.2 349.6,493.2 353.4,496.8 349.6,500.3 341.4,500.7ZM362.0,496.8 366.1,493.1 369.8,496.8 366.1,500.3ZM378.5,496.8 382.5,492.8 390.7,494.1 394.1,496.8 390.7,499.8 382.5,500.0ZM404.4,496.8 407.2,494.1 415.4,494.2 418.2,496.8 415.4,499.2 407.2,499.3ZM431.9,496.8 440.1,492.8 447.1,496.8 440.1,501.9ZM459.7,496.8 464.7,492.7 472.9,493.2 477.4,496.8 472.9,500.4 464.7,500.8ZM491.2,496.8 497.6,492.1 504.5,496.8 497.6,501.4ZM509.0,496.8 514.0,494.7 522.3,492.7 529.1,496.8 522.3,501.1 514.0,499.2Z"/>
<path fill="#7dc887" fill-rule="evenodd" d="M148.3,28.3 152.3,20.8 152.5,20.6 160.5,20.6 168.8,20.6 177.0,20.6 185.2,20.6 193.4,20.6 201.7,20.6 209.9,20.6 218.1,20.6 226.3,20.6 234.5,20.6 242.8,20.6 251.0,20.6 259.2,20.6 267.4,20.6 275.6,20.6 283.1,20.6 279.3,28.3 275.6,33.2 273.6,36.0 267.9,43.6 267.4,44.2 259.2,47.0 256.6,51.3 254.0,59.0 251.9,66.7 251.2,74.4 251.0,74.7 248.0,82.0 247.8,89.7 246.0,97.4 245.4,105.1 242.8,108.7 236.9,112.8 234.5,114.3 232.9,112.8 226.3,109.1 218.1,108.9 209.9,109.7 201.7,109.3 193.4,109.6 185.2,110.2 177.0,108.4 168.8,108.3 160.5,108.2 152.3,111.0 147.5,112.8 144.1,115.2 135.9,115.5 130.7,112.8 127.7,111.3 122.0,105.1 122.3,97.4 127.7,91.8 130.1,89.7 132.5,82.0 133.8,74.4 132.6,66.7 132.8,59.0 132.1,51.3 135.0,43.6 135.9,42.1 144.1,38.6 145.9,36.0ZM455.6,43.6 456.5,43.1 459.6,43.6 464.7,44.7 472.9,44.3 481.2,46.3 489.4,47.7 497.6,45.8 505.8,46.0 511.3,43.6 514.0,42.9 521.3,43.6 522.3,43.7 526.2,51.3 530.5,56.5 536.3,59.0 538.7,59.8 538.7,66.7 538.7,74.4 538.7,82.0 538.7,89.7 538.7,97.4 538.7,105.1 538.7,112.8 538.7,120.5 538.7,128.1 538.7,135.8 538.7,143.5 538.7,151.2 538.7,158.9 538.7,166.5 538.7,174.2 538.7,181.9 538.7,189.6 538.7,197.3 538.7,204.9 538.7,212.6 538.7,220.3 538.7,228.0 538.7,235.7 538.7,243.3 538.7,251.0 538.7,258.7 538.7,266.4 538.7,274.1 538.7,281.8 538.7,289.4 538.7,297.1 538.7,304.8 538.7,312.5 538.7,320.2 538.7,327.8 538.7,335.5 538.7,343.2 538.7,350.9 538.7,358.6 538.7,366.2 538.7,373.9 538.7,381.6 538.7,389.3 538.7,397.0 538.7,404.6 538.7,412.3 538.7,417.4 536.6,412.3 536.0,404.6 535.8,397.0 535.4,389.3 534.3,381.6 532.0,373.9 530.9,366.2 530.5,362.6 530.2,358.6 530.2,350.9 528.3,343.2 526.4,335.5 523.4,327.8 522.3,324.1 520.4,320.2 519.3,312.5 522.3,307.2 524.8,304.8 530.5,299.8 531.7,297.1 533.9,289.4 534.5,281.8 534.1,274.1 534.4,266.4 532.4,258.7 530.5,255.5 522.7,251.0 522.3,250.7 515.2,243.3 514.0,242.2 510.6,235.7 506.3,228.0 505.8,227.2 501.4,220.3 499.2,212.6 497.6,205.9 497.2,204.9 494.0,197.3 492.9,189.6 490.3,181.9 489.4,179.7 486.4,174.2 484.8,166.5 482.2,158.9 481.2,155.1 479.9,151.2 477.3,143.5 475.6,135.8 472.9,130.1 472.1,128.1 470.0,120.5 464.7,113.5 464.3,112.8 459.2,105.1 456.5,100.2 454.4,97.4 449.4,89.7 448.3,86.8 447.4,82.0 446.6,74.4 446.4,66.7 446.2,59.0 448.3,55.7 450.6,51.3ZM61.9,120.5 61.9,118.1 70.1,117.3 78.3,119.4 86.6,117.3 94.8,114.0 103.0,113.0 107.9,120.5 111.2,125.4 113.0,128.1 115.3,135.8 119.4,143.0 119.8,143.5 119.7,151.2 121.9,158.9 119.6,166.5 119.5,174.2 120.5,181.9 119.4,184.5 118.0,189.6 117.5,197.3 113.3,204.9 111.2,209.5 108.3,212.6 103.0,215.9 99.7,220.3 94.8,227.4 93.9,228.0 86.6,232.8 84.1,235.7 78.3,241.6 76.6,243.3 70.1,250.1 66.1,251.0 61.9,253.1 61.9,251.0 61.9,243.3 61.9,235.7 61.9,228.0 61.9,220.3 61.9,212.6 61.9,204.9 61.9,197.3 61.9,189.6 61.9,181.9 61.9,174.2 61.9,166.5 61.9,158.9 61.9,151.2 61.9,143.5 61.9,135.8 61.9,128.1ZM255.3,120.5 259.2,115.2 267.4,116.3 275.6,115.4 283.9,116.1 292.1,119.1 293.3,120.5 300.3,125.1 306.0,128.1 308.5,129.2 316.7,130.9 325.0,131.9 329.1,135.8 333.2,139.9 336.8,143.5 341.4,149.5 342.1,151.2 347.1,158.9 349.6,163.0 350.8,166.5 352.2,174.2 352.9,181.9 354.3,189.6 356.4,197.3 355.3,204.9 357.8,212.4 357.9,212.6 357.8,213.0 355.6,220.3 353.9,228.0 349.6,230.6 341.4,233.7 333.2,235.0 325.0,235.1 316.7,235.0 308.5,234.3 300.3,234.2 292.1,234.2 285.4,235.7 283.9,236.1 282.4,235.7 275.6,233.1 271.6,228.0 267.4,221.2 266.9,220.3 265.9,212.6 260.8,204.9 259.2,197.5 259.1,197.3 255.6,189.6 254.8,181.9 255.0,174.2 252.4,166.5 253.0,158.9 251.2,151.2 252.9,143.5 254.2,135.8 255.1,128.1ZM384.6,304.8 390.7,300.4 398.9,299.9 407.2,300.1 413.1,304.8 415.4,309.1 417.0,312.5 415.4,316.8 413.7,320.2 407.2,325.6 398.9,326.6 390.7,325.0 386.9,320.2 385.0,312.5ZM428.7,350.9 431.8,346.6 440.1,345.1 448.3,349.4 448.9,350.9 450.3,358.6 449.4,366.2 448.3,368.3 440.1,371.5 432.8,366.2 431.8,365.4 428.4,358.6ZM61.9,373.9 61.9,366.8 65.5,373.9 66.9,381.6 64.3,389.3 62.5,397.0 61.9,397.7 61.9,397.0 61.9,389.3 61.9,381.6ZM145.6,373.9 152.3,367.6 156.2,373.9 157.7,381.6 156.2,389.3 152.3,393.3 147.5,389.3 144.4,381.6ZM239.0,373.9 242.8,370.4 248.2,373.9 251.0,375.8 253.4,381.6 251.7,389.3 251.0,390.3 242.8,396.2 238.0,389.3 236.6,381.6ZM330.3,373.9 333.2,367.2 336.4,373.9 338.0,381.6 337.2,389.3 339.2,397.0 340.0,404.6 337.7,412.3 333.2,418.7 326.5,412.3 325.7,404.6 325.4,397.0 328.4,389.3 329.0,381.6ZM464.6,397.0 464.7,396.5 472.9,392.8 481.2,396.4 481.8,397.0 486.3,404.6 484.4,412.3 481.2,415.1 472.9,417.3 466.5,412.3 466.3,404.6 464.7,398.0ZM397.8,404.6 398.9,402.1 407.2,398.1 413.8,404.6 412.3,412.3 407.2,415.9 398.9,414.4 398.1,412.3Z"/>
<path fill="#a8c350" fill-rule="evenodd" d="M167.7,28.3 168.8,27.2 174.1,20.6 177.0,20.6 185.2,20.6 193.4,20.6 201.7,20.6 209.9,20.6 218.1,20.6 226.3,20.6 234.5,20.6 242.8,20.6 251.0,20.6 256.9,20.6 255.4,28.3 251.8,36.0 251.0,37.3 244.9,43.6 242.8,45.2 234.5,49.0 233.5,51.3 230.2,59.0 230.0,66.7 226.3,73.5 225.8,74.4 222.9,82.0 221.7,89.7 218.1,93.1 209.9,91.0 201.7,92.7 193.4,92.3 185.2,92.6 177.0,91.4 168.8,93.0 164.0,89.7 160.5,87.5 157.6,82.0 156.7,74.4 152.3,68.0 151.2,66.7 152.3,62.4 153.5,59.0 157.5,51.3 159.5,43.6 160.5,42.4 163.3,36.0ZM487.6,59.0 489.4,58.4 497.6,58.8 498.8,59.0 505.8,60.5 514.0,61.0 522.3,60.9 528.1,66.7 527.0,74.4 526.8,82.0 530.4,89.7 530.5,89.9 538.7,92.4 538.7,97.4 538.7,105.1 538.7,112.8 538.7,120.5 538.7,128.1 538.7,135.8 538.7,143.5 538.7,151.2 538.7,158.9 538.7,166.5 538.7,174.2 538.7,181.9 538.7,189.6 538.7,197.3 538.7,204.9 538.7,212.6 538.7,220.3 538.7,228.0 538.7,235.7 538.7,243.3 538.7,249.7 532.2,243.3 530.5,242.1 522.3,235.7 522.3,235.7 514.8,228.0 514.0,226.9 509.7,220.3 507.6,212.6 505.8,205.7 505.6,204.9 502.8,197.3 501.1,189.6 497.6,183.5 496.8,181.9 494.3,174.2 492.8,166.5 489.4,159.8 489.0,158.9 486.7,151.2 484.9,143.5 483.4,135.8 481.2,130.1 480.3,128.1 481.2,120.5 481.2,120.5 481.2,120.4 474.8,112.8 472.9,109.7 471.0,105.1 472.9,100.0 473.9,97.4 472.9,93.6 471.8,89.7 472.9,87.3 475.3,82.0 475.9,74.4 479.8,66.7 481.2,64.5ZM61.9,135.8 61.9,135.1 65.1,135.8 70.1,137.3 76.6,135.8 78.3,135.0 82.1,135.8 86.6,136.2 93.1,135.8 94.8,135.7 103.0,135.1 103.5,135.8 106.8,143.5 109.0,151.2 110.3,158.9 110.2,166.5 110.8,174.2 110.5,181.9 110.4,189.6 106.5,197.3 103.0,204.6 102.8,204.9 94.8,211.6 93.7,212.6 87.7,220.3 86.6,221.1 79.1,228.0 78.3,228.9 70.2,235.7 70.1,235.7 61.9,236.8 61.9,235.7 61.9,228.0 61.9,220.3 61.9,212.6 61.9,204.9 61.9,197.3 61.9,189.6 61.9,181.9 61.9,174.2 61.9,166.5 61.9,158.9 61.9,151.2 61.9,143.5ZM272.9,135.8 275.6,133.9 283.9,133.9 292.1,129.5 300.3,133.0 306.5,135.8 308.5,137.0 316.7,140.9 320.0,143.5 325.0,149.5 327.2,151.2 333.2,156.4 334.9,158.9 339.0,166.5 341.0,174.2 341.4,176.4 342.3,181.9 342.8,189.6 341.4,192.7 340.1,197.3 341.4,202.7 342.6,204.9 342.0,212.6 342.7,220.3 341.4,221.7 333.2,224.8 325.0,225.0 316.7,224.9 308.5,224.0 300.3,224.1 292.1,224.2 283.9,224.7 277.3,220.3 275.6,218.4 273.3,212.6 271.3,204.9 267.4,199.0 266.4,197.3 267.4,191.5 267.8,189.6 267.4,187.4 265.9,181.9 266.0,174.2 263.5,166.5 267.4,161.0 268.6,158.9 267.9,151.2 269.7,143.5Z"/>
<path fill="#e8b63e" fill-rule="evenodd" d="M501.5,97.4 505.8,91.5 514.0,91.9 520.0,97.4 522.3,102.3 525.1,105.1 530.5,106.9 538.7,106.9 538.7,112.8 538.7,120.5 538.7,128.1 538.7,135.8 538.7,143.5 538.7,151.2 538.7,158.9 538.7,166.5 538.7,174.2 538.7,181.9 538.7,189.6 538.7,197.3 538.7,204.9 538.7,212.6 538.7,220.3 538.7,228.0 538.7,235.5 530.5,233.3 524.8,228.0 522.3,224.2 519.3,220.3 516.3,212.6 515.2,204.9 514.0,201.9 512.0,197.3 508.8,189.6 506.1,181.9 505.8,181.3 502.0,174.2 501.4,166.5 497.6,161.4 496.1,158.9 493.8,151.2 492.6,143.5 491.3,135.8 491.0,128.1 492.3,120.5 494.7,112.8 497.6,106.2 498.1,105.1ZM290.1,143.5 292.1,142.0 300.3,140.7 305.1,143.5 308.5,147.4 313.4,151.2 316.7,156.9 318.4,158.9 325.0,163.9 326.6,166.5 329.6,174.2 330.9,181.9 332.4,189.6 331.2,197.3 331.1,204.9 325.0,210.7 316.7,209.5 308.5,210.5 300.3,209.5 292.1,210.8 283.9,209.6 281.0,204.9 279.1,197.3 277.2,189.6 279.0,181.9 278.2,174.2 278.7,166.5 281.7,158.9 283.9,154.5 285.3,151.2ZM61.9,158.9 61.9,152.6 70.1,154.0 78.3,153.9 84.3,158.9 86.6,160.2 94.8,160.7 96.3,166.5 96.5,174.2 97.9,181.9 96.1,189.6 95.4,197.3 94.8,198.1 89.8,204.9 86.6,208.0 79.8,212.6 78.3,214.5 75.1,220.3 70.1,224.9 61.9,223.0 61.9,220.3 61.9,212.6 61.9,204.9 61.9,197.3 61.9,189.6 61.9,181.9 61.9,174.2 61.9,166.5Z"/>
<path fill="#f0d23c" fill-rule="evenodd" d="M517.7,120.5 522.3,117.4 530.5,117.9 538.7,118.8 538.7,120.5 538.7,128.1 538.7,135.8 538.7,143.5 538.7,151.2 538.7,158.9 538.7,166.5 538.7,174.2 538.7,181.9 538.7,189.6 538.7,197.3 538.7,204.9 538.7,212.6 538.7,220.3 538.7,224.7 530.5,223.3 528.5,220.3 526.2,212.6 523.9,204.9 522.3,200.7 521.0,197.3 516.9,189.6 514.0,183.7 513.2,181.9 510.6,174.2 509.7,166.5 507.9,158.9 508.0,151.2 507.4,143.5 510.3,135.8 512.2,128.1 514.0,124.9ZM61.9,166.5 61.9,164.0 70.1,163.6 75.6,166.5 78.3,172.4 79.2,174.2 78.5,181.9 78.4,189.6 78.3,189.9 76.8,197.3 72.3,204.9 70.1,208.2 61.9,209.6 61.9,204.9 61.9,197.3 61.9,189.6 61.9,181.9 61.9,174.2Z"/>
<path fill="#faf53c" fill-rule="evenodd" d="M522.8,143.5 530.5,139.7 538.7,139.3 538.7,143.5 538.7,151.2 538.7,158.9 538.7,166.5 538.7,174.2 538.7,181.9 538.7,189.6 538.7,197.3 538.7,204.9 538.7,212.6 538.7,213.3 537.9,212.6 535.8,204.9 533.1,197.3 532.4,189.6 530.5,187.7 522.4,181.9 522.3,181.2 521.1,174.2 521.3,166.5 519.8,158.9 520.5,151.2 522.3,144.0Z"/>
<path fill="none" stroke="#111" stroke-width="1.30" stroke-linejoin="round" d="M407.2,132.6 405.1,135.8 401.4,143.5 398.9,149.8 398.3,151.2 397.7,158.9 396.8,166.5 397.7,174.2 397.8,181.9 398.9,185.1 401.5,189.6 403.5,197.3 407.2,204.0 409.8,204.9 415.4,206.7 423.6,210.2 431.8,209.4 440.1,208.6 443.4,204.9 444.7,197.3 444.2,189.6 442.4,181.9 442.1,174.2 440.1,168.3 439.2,166.5 435.5,158.9 433.7,151.2 431.8,145.8 430.5,143.5 425.9,135.8 423.6,132.9 415.4,135.0ZM61.9,60.6 66.5,59.0 70.1,56.8 73.8,51.3 78.3,44.6 79.2,43.6 82.6,36.0 85.5,28.3 86.6,26.8 90.4,20.6M407.2,118.4 400.9,120.5 398.9,121.7 396.3,128.1 390.8,135.8 390.7,136.0 384.4,143.5 384.1,151.2 386.4,158.9 387.2,166.5 387.0,174.2 389.9,181.9 390.7,186.3 391.5,189.6 394.4,197.3 397.5,204.9 398.9,208.4 404.3,212.6 407.2,213.5 415.4,219.3 416.9,220.3 423.6,223.6 431.8,224.7 440.1,226.6 442.8,228.0 448.3,232.7 452.2,228.0 453.3,220.3 455.7,212.6 455.3,204.9 456.5,200.2 457.3,197.3 457.2,189.6 456.5,188.3 453.2,181.9 453.0,174.2 451.0,166.5 448.3,160.9 446.9,158.9 442.7,151.2 440.1,147.4 438.2,143.5 436.2,135.8 431.8,128.4 431.6,128.1 424.9,120.5 423.6,119.3 415.4,118.2ZM168.8,156.9 167.3,158.9 163.5,166.5 163.4,174.2 161.4,181.9 160.7,189.6 161.1,197.3 163.0,204.9 168.8,206.9 177.0,208.5 185.2,208.7 193.4,209.3 201.7,210.0 207.3,204.9 209.9,199.6 210.6,197.3 211.3,189.6 209.9,186.8 208.5,181.9 209.9,174.8 210.0,174.2 209.9,170.0 209.7,166.5 205.9,158.9 201.7,155.2 193.6,158.9 193.4,159.0 193.3,158.9 185.2,155.2 177.0,156.4ZM341.4,40.7 339.1,43.6 334.9,51.3 333.2,55.6 331.4,59.0 328.9,66.7 325.0,73.0 324.0,74.4 325.0,81.4 325.1,82.0 328.6,89.7 333.2,92.3 341.4,93.8 345.9,97.4 349.3,105.1 349.6,105.8 357.4,112.8 357.8,113.2 366.1,117.7 367.0,120.5 368.3,128.1 370.1,135.8 370.6,143.5 372.4,151.2 374.0,158.9 374.3,159.9 376.1,166.5 377.6,174.2 382.3,181.9 382.5,182.9 383.8,189.6 386.3,197.3 386.7,204.9 388.5,212.6 390.7,217.9 393.3,220.3 398.9,223.3 407.2,223.6 415.4,227.8 415.8,228.0 423.6,232.4 431.8,235.0 433.0,235.7 440.1,243.3 440.2,243.3 448.3,248.9 453.0,251.0 456.5,252.2 464.7,253.5 467.9,251.0 470.7,243.3 472.9,238.6 474.2,235.7 472.9,231.8 471.4,228.0 472.9,223.1 473.5,220.3 472.9,215.6 471.9,212.6 469.7,204.9 468.5,197.3 467.5,189.6 464.7,182.0 464.6,181.9 462.2,174.2 460.0,166.5 457.4,158.9 456.5,157.6 452.3,151.2 450.2,143.5 448.3,137.4 447.7,135.8 442.2,128.1 440.1,124.4 437.6,120.5 431.8,116.6 427.3,112.8 423.6,109.1 415.4,108.0 407.2,105.9 406.3,105.1 403.4,97.4 403.5,89.7 398.9,85.1 397.7,82.0 395.0,74.4 390.7,71.2 383.5,66.7 382.5,65.2 374.3,60.7 371.4,59.0 366.1,54.4 362.7,51.3 361.7,43.6 357.8,39.5 349.6,39.3ZM61.9,87.2 70.1,85.9 73.6,82.0 76.8,74.4 77.9,66.7 78.3,66.1 86.6,60.0 87.8,59.0 93.0,51.3 94.8,46.6 95.9,43.6 99.1,36.0 102.6,28.3 103.0,27.5 106.3,20.6M168.8,140.7 165.7,143.5 160.5,148.4 158.2,151.2 156.4,158.9 152.3,166.0 152.0,166.5 151.1,174.2 146.4,181.9 146.9,189.6 145.4,197.3 148.3,204.9 148.1,212.6 148.9,220.3 150.4,228.0 152.3,230.8 160.5,230.1 168.8,231.1 176.7,228.0 177.0,227.8 185.2,223.9 193.4,223.8 201.7,224.6 209.9,225.2 218.1,223.3 219.4,220.3 221.1,212.6 223.1,204.9 226.3,198.9 226.8,197.3 226.3,190.3 226.2,189.6 226.3,187.1 226.5,181.9 226.4,174.2 226.3,174.0 222.9,166.5 219.4,158.9 218.1,156.6 215.3,151.2 210.6,143.5 209.9,142.9 201.7,142.8 193.4,143.0 185.2,141.3 177.0,141.6ZM514.0,397.0 505.9,404.6 511.6,412.3 514.0,418.5 515.2,412.3 516.9,404.6ZM358.0,20.6 357.8,20.9 349.6,26.9 341.4,28.2 333.2,27.9 332.8,28.3 327.4,36.0 325.0,40.5 317.8,43.6 316.7,44.1 316.2,43.6 308.5,40.2 304.0,43.6 303.4,51.3 301.7,59.0 300.3,64.1 299.6,66.7 300.3,70.4 301.0,74.4 300.3,76.6 298.7,82.0 300.3,86.7 303.0,89.7 308.5,92.1 314.6,97.4 316.7,100.8 319.2,105.1 325.0,109.4 333.2,109.7 337.1,112.8 341.4,116.4 344.5,120.5 349.6,126.3 352.0,128.1 357.8,135.0 358.3,135.8 360.3,143.5 364.0,151.2 364.9,158.9 366.1,163.0 367.3,166.5 368.5,174.2 372.9,181.9 374.3,188.5 374.5,189.6 376.9,197.3 376.8,204.9 379.7,212.6 380.1,220.3 382.5,222.9 390.6,228.0 390.7,228.0 398.7,235.7 398.9,235.9 407.2,235.9 414.6,235.7 415.4,235.7 415.4,235.7 420.2,243.3 423.6,247.2 431.8,249.9 432.5,251.0 436.2,258.7 439.0,266.4 440.1,267.3 445.0,274.1 446.9,281.8 448.3,288.3 448.5,289.4 450.3,297.1 452.7,304.8 454.7,312.5 456.5,317.1 458.0,320.2 464.7,327.1 465.5,327.8 467.6,335.5 472.0,343.2 472.9,346.3 474.1,350.9 475.0,358.6 478.1,366.2 481.2,372.2 482.8,373.9 487.3,381.6 489.4,384.0 494.3,389.3 497.6,394.8 498.4,397.0 499.9,404.6 501.3,412.3 503.0,420.0 505.8,426.3 506.8,427.7 509.4,435.4 514.0,442.2 519.7,435.4 521.0,427.7 522.3,424.5 523.2,420.0 523.4,412.3 524.1,404.6 522.8,397.0 522.3,395.9 517.0,389.3 514.0,383.3 512.8,381.6 509.3,373.9 509.0,366.2 506.9,358.6 505.9,350.9 505.8,343.2 505.8,343.1 504.1,335.5 500.0,327.8 497.6,324.7 494.6,320.2 491.5,312.5 489.4,305.0 489.3,304.8 484.4,297.1 481.2,291.4 480.1,289.4 481.2,287.1 483.9,281.8 489.4,277.0 492.5,274.1 493.6,266.4 495.3,258.7 493.4,251.0 494.9,243.3 492.9,235.7 489.4,230.3 486.7,228.0 481.2,221.6 480.7,220.3 479.8,212.6 478.8,204.9 476.9,197.3 476.2,189.6 474.2,181.9 472.9,179.4 470.4,174.2 468.2,166.5 466.4,158.9 464.7,155.6 461.7,151.2 460.1,143.5 456.5,136.4 456.2,135.8 453.3,128.1 449.9,120.5 448.3,118.3 442.6,112.8 440.1,110.7 431.8,106.2 430.7,105.1 425.2,97.4 423.6,94.4 419.2,89.7 415.4,82.3 415.3,82.0 411.9,74.4 407.2,70.0 404.4,66.7 403.4,59.0 403.5,51.3 398.9,44.0 398.4,43.6 392.4,36.0 391.5,28.3 390.7,27.6 382.9,20.6M61.9,96.3 70.1,97.2 78.3,93.8 82.7,89.7 86.6,83.5 87.2,82.0 87.0,74.4 94.8,70.3 97.8,66.7 100.8,59.0 103.0,54.5 105.5,51.3 111.2,45.4 112.4,43.6 116.1,36.0 117.9,28.3 119.3,20.6M160.5,131.2 156.4,135.8 152.7,143.5 152.3,144.0 147.3,151.2 145.6,158.9 144.1,162.6 142.4,166.5 140.2,174.2 138.3,181.9 137.3,189.6 135.9,196.7 135.8,197.3 135.2,204.9 130.2,212.6 127.7,219.6 127.5,220.3 124.5,228.0 122.4,235.7 123.0,243.3 124.0,251.0 127.7,255.9 135.9,255.2 144.1,252.7 151.9,251.0 152.3,251.0 160.5,250.0 164.8,251.0 168.8,252.4 173.2,251.0 177.0,249.5 179.6,243.3 184.5,235.7 185.2,234.9 193.4,233.8 201.7,235.1 207.7,235.7 209.9,236.1 218.1,235.8 218.2,235.7 222.9,228.0 226.0,220.3 226.3,219.1 229.7,212.6 232.6,204.9 233.0,197.3 233.2,189.6 234.0,181.9 234.5,174.8 234.6,174.2 234.5,173.5 233.9,166.5 231.8,158.9 229.6,151.2 226.3,146.9 223.6,143.5 218.1,136.6 217.3,135.8 209.9,129.8 201.7,130.9 193.4,131.2 185.2,130.4 177.0,129.2 168.8,128.8ZM103.0,368.6 100.5,373.9 99.9,381.6 100.8,389.3 103.0,391.6 111.2,390.3 111.4,389.3 114.6,381.6 111.7,373.9 111.2,373.3ZM193.4,369.1 188.3,373.9 186.3,381.6 186.7,389.3 193.4,394.2 200.9,397.0 201.7,397.2 202.2,397.0 206.9,389.3 209.9,382.2 210.1,381.6 209.9,379.7 208.6,373.9 201.7,369.8ZM283.9,373.5 283.6,373.9 280.8,381.6 281.1,389.3 283.9,396.6 284.0,397.0 285.6,404.6 288.2,412.3 290.2,420.0 292.1,425.8 300.3,426.1 301.7,420.0 302.9,412.3 303.9,404.6 302.2,397.0 300.8,389.3 301.2,381.6 300.3,379.6 296.4,373.9 292.1,369.8ZM366.1,394.1 363.0,397.0 360.6,404.6 360.7,412.3 366.1,418.2 374.3,414.9 376.1,412.3 379.0,404.6 374.8,397.0 374.3,395.8ZM431.8,401.1 429.4,404.6 431.8,412.3 431.8,412.4 440.1,415.6 448.3,418.3 451.4,412.3 450.3,404.6 448.3,398.5 440.1,397.4ZM316.7,468.6 314.5,473.8 315.1,481.5 316.7,483.9 318.5,481.5 319.0,473.8ZM310.5,20.6 308.5,24.7 300.3,27.5 297.1,28.3 292.1,31.6 289.0,36.0 284.0,43.6 283.9,43.7 277.3,51.3 277.2,59.0 277.0,66.7 277.9,74.4 279.2,82.0 282.6,89.7 283.9,91.0 290.5,97.4 292.1,101.5 293.3,105.1 300.3,112.0 302.5,112.8 308.5,115.0 316.7,119.1 322.5,120.5 325.0,120.8 333.2,122.4 336.9,128.1 341.4,135.5 341.6,135.8 347.5,143.5 349.6,147.3 352.8,151.2 357.8,158.6 358.0,158.9 357.8,162.6 357.7,166.5 357.8,167.0 360.0,174.2 363.2,181.9 366.1,188.2 366.5,189.6 367.5,197.3 367.5,204.9 366.9,212.6 368.5,220.3 371.1,228.0 374.3,229.9 382.5,233.6 386.3,235.7 390.7,238.8 394.4,243.3 398.9,249.1 405.8,251.0 407.2,251.6 414.4,258.7 413.6,266.4 415.4,273.3 415.9,274.1 422.7,281.8 422.7,289.4 423.6,292.5 426.8,297.1 430.9,304.8 431.8,305.8 434.9,312.5 436.1,320.2 440.1,325.7 448.3,326.0 449.1,327.8 452.1,335.5 456.2,343.2 456.5,343.8 460.5,350.9 462.8,358.6 464.7,364.5 465.8,366.2 471.8,373.9 472.9,375.0 475.7,381.6 481.2,386.7 483.6,389.3 489.4,394.5 491.4,397.0 493.7,404.6 494.6,412.3 495.0,420.0 493.8,427.7 495.0,435.4 495.6,443.1 497.6,447.0 499.3,450.7 498.1,458.4 497.6,458.8 489.4,465.6 488.9,466.1 485.6,473.8 481.7,481.5 481.2,481.9 480.6,481.5 478.2,473.8 476.1,466.1 475.5,458.4 474.8,450.7 472.9,443.8 472.3,443.1 464.7,438.5 461.9,435.4 459.8,427.7 459.5,420.0 458.9,412.3 459.4,404.6 457.8,397.0 456.5,393.9 448.6,389.3 448.3,389.1 440.1,387.0 432.8,389.3 431.8,389.6 423.6,394.8 422.4,397.0 421.4,404.6 421.7,412.3 423.6,417.7 424.8,420.0 424.9,427.7 425.0,435.4 423.6,439.8 422.4,443.1 419.6,450.7 419.8,458.4 423.6,461.8 428.6,466.1 430.2,473.8 427.1,481.5 423.6,483.6 421.3,481.5 419.3,473.8 417.2,466.1 415.4,464.2 410.9,466.1 407.2,466.9 402.9,473.8 400.1,481.5 398.9,482.9 397.2,481.5 392.3,473.8 394.5,466.1 397.8,458.4 398.9,453.5 399.5,450.7 398.9,448.4 397.6,443.1 393.5,435.4 390.7,429.9 389.6,427.7 388.0,420.0 388.0,412.3 388.3,404.6 388.0,397.0 390.7,394.1 398.9,389.9 405.1,389.3 407.2,388.9 415.4,386.4 418.5,381.6 418.0,373.9 417.0,366.2 415.4,362.3 412.9,358.6 411.2,350.9 407.2,345.2 398.9,347.0 391.4,343.2 390.7,342.9 385.9,335.5 382.6,327.8 382.5,327.7 374.3,323.6 367.6,320.2 366.1,317.1 364.7,312.5 362.1,304.8 357.8,297.5 357.6,297.1 355.2,289.4 354.0,281.8 349.6,275.7 341.4,277.6 338.4,274.1 335.8,266.4 333.2,259.2 332.8,258.7 327.9,251.0 325.0,248.6 316.7,250.4 311.7,251.0 308.5,251.5 307.2,251.0 300.3,249.1 292.1,249.7 285.4,251.0 283.9,251.6 282.8,251.0 275.6,248.3 272.0,251.0 268.5,258.7 267.4,262.2 266.7,266.4 267.4,268.3 271.2,274.1 275.6,277.8 279.5,281.8 283.7,289.4 283.9,289.8 288.0,297.1 292.1,303.6 292.7,304.8 292.5,312.5 292.1,314.3 289.5,320.2 283.9,324.8 281.3,327.8 278.3,335.5 275.6,340.4 273.4,343.2 268.3,350.9 267.4,352.0 265.7,358.6 265.1,366.2 266.3,373.9 265.9,381.6 267.4,384.0 269.8,389.3 270.4,397.0 273.6,404.6 275.4,412.3 275.6,413.3 277.5,420.0 278.6,427.7 282.4,435.4 281.5,443.1 282.7,450.7 283.1,458.4 281.8,466.1 279.4,473.8 275.6,481.3 271.3,473.8 267.4,466.3 267.2,466.1 259.2,458.5 259.1,458.4 259.2,454.0 259.3,450.7 259.2,450.6 256.1,443.1 253.9,435.4 252.5,427.7 251.0,422.1 250.3,420.0 242.8,412.6 242.0,412.3 235.3,404.6 234.5,403.6 230.5,397.0 226.3,391.7 223.4,389.3 221.1,381.6 221.3,373.9 219.2,366.2 220.8,358.6 218.2,350.9 218.1,350.2 217.4,343.2 217.1,335.5 218.1,331.1 218.7,327.8 219.2,320.2 219.9,312.5 218.1,307.9 217.2,304.8 214.9,297.1 215.0,289.4 211.5,281.8 209.9,278.8 201.7,274.2 201.4,274.1 197.6,266.4 196.7,258.7 201.7,253.7 207.0,251.0 209.9,249.8 216.1,251.0 218.1,251.8 219.0,251.0 225.1,243.3 226.3,241.4 229.3,235.7 234.5,228.9 236.2,228.0 242.7,220.3 242.8,219.4 243.5,212.6 243.4,204.9 242.8,203.6 241.4,197.3 241.1,189.6 242.3,181.9 242.8,178.5 243.5,174.2 242.8,167.2 242.7,166.5 241.3,158.9 240.8,151.2 236.7,143.5 234.5,138.5 233.6,135.8 229.2,128.1 226.3,121.4 225.1,120.5 218.1,118.5 209.9,118.5 201.7,119.1 193.4,120.0 185.2,119.3 177.0,119.0 168.8,120.2 160.5,118.3 156.6,120.5 152.3,123.3 147.4,128.1 144.1,135.8 144.1,135.8 139.9,143.5 135.9,149.8 135.2,151.2 132.8,158.9 131.2,166.5 130.1,174.2 130.3,181.9 129.0,189.6 127.9,197.3 127.7,197.8 123.3,204.9 120.3,212.6 119.4,215.6 117.3,220.3 111.2,226.8 109.1,228.0 103.0,231.5 100.6,235.7 97.9,243.3 94.8,248.8 86.6,250.0 84.9,251.0 78.3,256.7 76.9,258.7 74.8,266.4 70.1,271.3 61.9,274.1M501.7,20.6 505.8,26.2 514.0,26.9 522.3,28.1 523.0,28.3 530.5,32.4 532.6,36.0 535.9,43.6 538.7,47.3M61.9,107.4 70.1,106.7 78.3,109.3 86.6,105.2 86.6,105.1 90.2,97.4 94.6,89.7 94.8,89.3 100.1,89.7 103.0,89.9 103.2,89.7 105.6,82.0 106.8,74.4 111.2,67.8 111.8,66.7 115.6,59.0 119.4,52.9 120.4,51.3 124.4,43.6 127.7,40.1 130.3,36.0 134.1,28.3 135.9,25.1 137.4,20.6M126.7,274.1 127.7,273.6 128.6,274.1 133.4,281.8 135.4,289.4 135.9,290.1 139.0,297.1 141.6,304.8 142.6,312.5 141.1,320.2 144.1,324.3 146.6,327.8 148.6,335.5 152.3,343.2 152.3,343.2 160.5,347.1 163.6,350.9 167.7,358.6 167.7,366.2 168.8,369.7 171.6,373.9 173.2,381.6 172.3,389.3 168.8,394.6 167.0,397.0 164.4,404.6 162.3,412.3 161.6,420.0 160.5,425.3 160.0,427.7 159.4,435.4 160.5,442.1 160.7,443.1 161.1,450.7 163.7,458.4 168.8,465.0 169.7,466.1 170.4,473.8 168.8,477.4 162.1,481.5 160.5,481.9 160.0,481.5 155.7,473.8 155.1,466.1 152.3,463.3 149.0,466.1 148.1,473.8 144.1,479.1 135.9,476.3 134.5,473.8 134.2,466.1 135.9,464.2 138.9,458.4 140.0,450.7 137.1,443.1 135.9,440.6 130.6,435.4 130.7,427.7 129.7,420.0 127.7,414.7 127.0,412.3 126.6,404.6 125.2,397.0 127.4,389.3 126.4,381.6 124.9,373.9 119.4,369.2 117.0,366.2 115.5,358.6 111.9,350.9 111.2,350.1 103.0,348.2 97.3,343.2 94.9,335.5 94.8,335.2 90.2,327.8 86.6,322.0 85.3,320.2 82.0,312.5 85.3,304.8 86.6,303.6 91.6,297.1 94.8,290.6 95.5,289.4 98.4,281.8 103.0,276.3 111.2,276.5 119.4,277.3ZM61.9,347.0 66.6,350.9 70.1,354.0 72.4,358.6 75.5,366.2 78.3,369.6 81.1,373.9 83.1,381.6 83.1,389.3 83.3,397.0 83.4,404.6 86.2,412.3 86.6,412.8 94.8,415.4 100.4,420.0 101.5,427.7 100.7,435.4 96.3,443.1 94.8,446.8 93.6,450.7 94.8,457.5 94.9,458.4 98.7,466.1 98.8,473.8 94.8,481.0 90.0,473.8 89.7,466.1 86.6,463.4 83.5,466.1 78.8,473.8 78.3,474.3 70.1,478.8 67.9,473.8 69.9,466.1 70.1,465.7 73.9,458.4 73.2,450.7 74.5,443.1 74.3,435.4 75.2,427.7 72.4,420.0 70.1,417.8 61.9,415.8M318.1,350.9 325.0,346.4 333.2,348.4 341.4,346.1 349.6,347.6 357.3,350.9 357.8,351.2 362.1,358.6 361.0,366.2 360.2,373.9 357.8,379.5 357.1,381.6 354.4,389.3 351.7,397.0 350.8,404.6 351.5,412.3 349.6,419.5 349.4,420.0 349.3,427.7 345.1,435.4 341.4,437.6 335.0,443.1 333.2,445.1 330.7,450.7 331.1,458.4 333.2,464.3 333.9,466.1 334.7,473.8 333.2,477.9 325.0,475.4 324.6,473.8 322.9,466.1 317.3,458.4 316.7,457.9 311.2,450.7 310.9,443.1 311.6,435.4 312.1,427.7 313.9,420.0 313.8,412.3 315.1,404.6 313.1,397.0 313.2,389.3 313.2,381.6 315.5,373.9 316.1,366.2 314.6,358.6 316.7,352.9ZM199.4,412.3 201.7,411.2 204.1,412.3 209.9,414.2 218.1,418.6 219.3,420.0 221.1,427.7 223.6,435.4 225.4,443.1 226.3,445.5 228.2,450.7 228.2,458.4 226.3,463.8 225.4,466.1 224.1,473.8 218.9,481.5 218.1,481.8 217.6,481.5 213.3,473.8 211.5,466.1 211.7,458.4 211.5,450.7 209.9,446.1 207.1,443.1 201.7,441.1 194.9,443.1 195.2,450.7 195.8,458.4 197.0,466.1 197.1,473.8 193.4,480.5 185.2,479.6 181.9,473.8 184.5,466.1 184.2,458.4 184.8,450.7 185.2,450.2 192.6,443.1 190.1,435.4 191.5,427.7 191.9,420.0 193.4,417.2ZM358.6,443.1 366.1,437.2 372.0,443.1 374.3,449.7 374.6,450.7 374.9,458.4 374.3,459.4 369.5,466.1 366.7,473.8 366.1,474.6 360.0,481.5 357.8,482.6 356.1,481.5 352.7,473.8 353.6,466.1 355.6,458.4 355.6,450.7 357.8,444.4ZM445.1,443.1 448.3,439.3 453.4,443.1 456.5,449.9 456.7,450.7 459.1,458.4 460.7,466.1 461.4,473.8 459.0,481.5 456.5,483.2 452.8,481.5 448.3,478.1 445.5,473.8 443.3,466.1 442.9,458.4 442.0,450.7ZM111.0,450.7 111.2,449.4 119.4,443.8 123.8,450.7 125.0,458.4 123.6,466.1 122.8,473.8 120.1,481.5 119.4,481.9 117.7,481.5 111.2,473.9 111.2,473.8 110.0,466.1 110.6,458.4ZM242.5,466.1 242.8,465.7 251.0,462.6 254.8,466.1 257.0,473.8 252.1,481.5 251.0,482.3 245.9,481.5 242.8,480.1 240.8,473.8ZM298.8,466.1 300.3,463.7 307.3,466.1 308.5,468.1 308.8,473.8 308.5,476.0 302.3,481.5 300.3,482.0 299.5,481.5 297.9,473.8ZM538.7,482.7 530.5,483.2 522.3,482.0 514.0,482.0 510.9,481.5 505.8,480.1 502.2,473.8 505.8,468.1 508.0,466.1 514.0,461.8 518.0,458.4 522.3,451.7 522.7,450.7 526.6,443.1 529.3,435.4 530.2,427.7 529.9,420.0 530.0,412.3 530.5,404.6 528.9,397.0 526.7,389.3 522.6,381.6 522.3,380.4 521.0,373.9 521.4,366.2 519.7,358.6 517.9,350.9 516.9,343.2 514.7,335.5 514.0,333.4 512.4,327.8 507.4,320.2 507.8,312.5 507.4,304.8 508.3,297.1 507.6,289.4 508.3,281.8 511.2,274.1 513.8,266.4 512.5,258.7 509.0,251.0 505.8,245.9 504.7,243.3 502.0,235.7 498.2,228.0 497.6,227.0 492.4,220.3 490.0,212.6 489.4,211.5 486.4,204.9 484.5,197.3 484.7,189.6 482.3,181.9 481.2,179.8 478.4,174.2 476.5,166.5 473.9,158.9 472.9,155.4 471.6,151.2 468.7,143.5 466.4,135.8 464.7,130.2 464.0,128.1 458.4,120.5 456.5,116.6 454.4,112.8 448.3,107.3 445.5,105.1 442.0,97.4 440.1,93.4 434.2,89.7 431.8,88.4 427.0,82.0 427.3,74.4 427.6,66.7 425.2,59.0 427.0,51.3 430.0,43.6 431.8,39.3 433.3,36.0 436.3,28.3 439.2,20.6M61.9,491.6 67.9,496.8 61.9,501.9M99.6,496.8 103.0,494.3 111.2,494.1 114.5,496.8 111.2,499.7 103.0,499.8ZM123.1,496.8 127.7,492.7 133.5,496.8 127.7,500.8ZM169.1,496.8 177.0,492.0 184.2,496.8 177.0,502.1ZM198.2,496.8 201.7,494.2 209.9,494.5 212.2,496.8 209.9,498.7 201.7,499.9ZM225.2,496.8 226.3,495.7 234.5,493.4 238.7,496.8 234.5,499.6 226.3,498.0ZM255.1,496.8 259.2,493.2 267.4,493.2 270.4,496.8 267.4,499.8 259.2,500.3ZM281.9,496.8 283.9,494.6 292.1,493.9 295.7,496.8 292.1,499.7 283.9,499.5ZM310.6,496.8 316.7,492.2 323.3,496.8 316.7,501.1ZM336.8,496.8 341.4,493.2 349.6,493.2 353.4,496.8 349.6,500.3 341.4,500.7ZM362.0,496.8 366.1,493.1 369.8,496.8 366.1,500.3ZM378.5,496.8 382.5,492.8 390.7,494.1 394.1,496.8 390.7,499.8 382.5,500.0ZM404.4,496.8 407.2,494.1 415.4,494.2 418.2,496.8 415.4,499.2 407.2,499.3ZM431.9,496.8 440.1,492.8 447.1,496.8 440.1,501.9ZM459.7,496.8 464.7,492.7 472.9,493.2 477.4,496.8 472.9,500.4 464.7,500.8ZM491.2,496.8 497.6,492.1 504.5,496.8 497.6,501.4ZM509.0,496.8 514.0,494.7 522.3,492.7 529.1,496.8 522.3,501.1 514.0,499.2ZM283.1,20.6 279.3,28.3 275.6,33.2 273.6,36.0 267.9,43.6 267.4,44.2 259.2,47.0 256.6,51.3 254.0,59.0 251.9,66.7 251.2,74.4 251.0,74.7 248.0,82.0 247.8,89.7 246.0,97.4 245.4,105.1 242.8,108.7 236.9,112.8 234.5,114.3 232.9,112.8 226.3,109.1 218.1,108.9 209.9,109.7 201.7,109.3 193.4,109.6 185.2,110.2 177.0,108.4 168.8,108.3 160.5,108.2 152.3,111.0 147.5,112.8 144.1,115.2 135.9,115.5 130.7,112.8 127.7,111.3 122.0,105.1 122.3,97.4 127.7,91.8 130.1,89.7 132.5,82.0 133.8,74.4 132.6,66.7 132.8,59.0 132.1,51.3 135.0,43.6 135.9,42.1 144.1,38.6 145.9,36.0 148.3,28.3 152.3,20.8 152.5,20.6M61.9,118.1 70.1,117.3 78.3,119.4 86.6,117.3 94.8,114.0 103.0,113.0 107.9,120.5 111.2,125.4 113.0,128.1 115.3,135.8 119.4,143.0 119.8,143.5 119.7,151.2 121.9,158.9 119.6,166.5 119.5,174.2 120.5,181.9 119.4,184.5 118.0,189.6 117.5,197.3 113.3,204.9 111.2,209.5 108.3,212.6 103.0,215.9 99.7,220.3 94.8,227.4 93.9,228.0 86.6,232.8 84.1,235.7 78.3,241.6 76.6,243.3 70.1,250.1 66.1,251.0 61.9,253.1M255.3,120.5 259.2,115.2 267.4,116.3 275.6,115.4 283.9,116.1 292.1,119.1 293.3,120.5 300.3,125.1 306.0,128.1 308.5,129.2 316.7,130.9 325.0,131.9 329.1,135.8 333.2,139.9 336.8,143.5 341.4,149.5 342.1,151.2 347.1,158.9 349.6,163.0 350.8,166.5 352.2,174.2 352.9,181.9 354.3,189.6 356.4,197.3 355.3,204.9 357.8,212.4 357.9,212.6 357.8,213.0 355.6,220.3 353.9,228.0 349.6,230.6 341.4,233.7 333.2,235.0 325.0,235.1 316.7,235.0 308.5,234.3 300.3,234.2 292.1,234.2 285.4,235.7 283.9,236.1 282.4,235.7 275.6,233.1 271.6,228.0 267.4,221.2 266.9,220.3 265.9,212.6 260.8,204.9 259.2,197.5 259.1,197.3 255.6,189.6 254.8,181.9 255.0,174.2 252.4,166.5 253.0,158.9 251.2,151.2 252.9,143.5 254.2,135.8 255.1,128.1ZM384.6,304.8 390.7,300.4 398.9,299.9 407.2,300.1 413.1,304.8 415.4,309.1 417.0,312.5 415.4,316.8 413.7,320.2 407.2,325.6 398.9,326.6 390.7,325.0 386.9,320.2 385.0,312.5ZM428.7,350.9 431.8,346.6 440.1,345.1 448.3,349.4 448.9,350.9 450.3,358.6 449.4,366.2 448.3,368.3 440.1,371.5 432.8,366.2 431.8,365.4 428.4,358.6ZM61.9,366.8 65.5,373.9 66.9,381.6 64.3,389.3 62.5,397.0 61.9,397.7M145.6,373.9 152.3,367.6 156.2,373.9 157.7,381.6 156.2,389.3 152.3,393.3 147.5,389.3 144.4,381.6ZM239.0,373.9 242.8,370.4 248.2,373.9 251.0,375.8 253.4,381.6 251.7,389.3 251.0,390.3 242.8,396.2 238.0,389.3 236.6,381.6ZM330.3,373.9 333.2,367.2 336.4,373.9 338.0,381.6 337.2,389.3 339.2,397.0 340.0,404.6 337.7,412.3 333.2,418.7 326.5,412.3 325.7,404.6 325.4,397.0 328.4,389.3 329.0,381.6ZM464.6,397.0 464.7,396.5 472.9,392.8 481.2,396.4 481.8,397.0 486.3,404.6 484.4,412.3 481.2,415.1 472.9,417.3 466.5,412.3 466.3,404.6 464.7,398.0ZM397.8,404.6 398.9,402.1 407.2,398.1 413.8,404.6 412.3,412.3 407.2,415.9 398.9,414.4 398.1,412.3ZM538.7,417.4 536.6,412.3 536.0,404.6 535.8,397.0 535.4,389.3 534.3,381.6 532.0,373.9 530.9,366.2 530.5,362.6 530.2,358.6 530.2,350.9 528.3,343.2 526.4,335.5 523.4,327.8 522.3,324.1 520.4,320.2 519.3,312.5 522.3,307.2 524.8,304.8 530.5,299.8 531.7,297.1 533.9,289.4 534.5,281.8 534.1,274.1 534.4,266.4 532.4,258.7 530.5,255.5 522.7,251.0 522.3,250.7 515.2,243.3 514.0,242.2 510.6,235.7 506.3,228.0 505.8,227.2 501.4,220.3 499.2,212.6 497.6,205.9 497.2,204.9 494.0,197.3 492.9,189.6 490.3,181.9 489.4,179.7 486.4,174.2 484.8,166.5 482.2,158.9 481.2,155.1 479.9,151.2 477.3,143.5 475.6,135.8 472.9,130.1 472.1,128.1 470.0,120.5 464.7,113.5 464.3,112.8 459.2,105.1 456.5,100.2 454.4,97.4 449.4,89.7 448.3,86.8 447.4,82.0 446.6,74.4 446.4,66.7 446.2,59.0 448.3,55.7 450.6,51.3 455.6,43.6 456.5,43.1 459.6,43.6 464.7,44.7 472.9,44.3 481.2,46.3 489.4,47.7 497.6,45.8 505.8,46.0 511.3,43.6 514.0,42.9 521.3,43.6 522.3,43.7 526.2,51.3 530.5,56.5 536.3,59.0 538.7,59.8M256.9,20.6 255.4,28.3 251.8,36.0 251.0,37.3 244.9,43.6 242.8,45.2 234.5,49.0 233.5,51.3 230.2,59.0 230.0,66.7 226.3,73.5 225.8,74.4 222.9,82.0 221.7,89.7 218.1,93.1 209.9,91.0 201.7,92.7 193.4,92.3 185.2,92.6 177.0,91.4 168.8,93.0 164.0,89.7 160.5,87.5 157.6,82.0 156.7,74.4 152.3,68.0 151.2,66.7 152.3,62.4 153.5,59.0 157.5,51.3 159.5,43.6 160.5,42.4 163.3,36.0 167.7,28.3 168.8,27.2 174.1,20.6M61.9,135.1 65.1,135.8 70.1,137.3 76.6,135.8 78.3,135.0 82.1,135.8 86.6,136.2 93.1,135.8 94.8,135.7 103.0,135.1 103.5,135.8 106.8,143.5 109.0,151.2 110.3,158.9 110.2,166.5 110.8,174.2 110.5,181.9 110.4,189.6 106.5,197.3 103.0,204.6 102.8,204.9 94.8,211.6 93.7,212.6 87.7,220.3 86.6,221.1 79.1,228.0 78.3,228.9 70.2,235.7 70.1,235.7 61.9,236.8M272.9,135.8 275.6,133.9 283.9,133.9 292.1,129.5 300.3,133.0 306.5,135.8 308.5,137.0 316.7,140.9 320.0,143.5 325.0,149.5 327.2,151.2 333.2,156.4 334.9,158.9 339.0,166.5 341.0,174.2 341.4,176.4 342.3,181.9 342.8,189.6 341.4,192.7 340.1,197.3 341.4,202.7 342.6,204.9 342.0,212.6 342.7,220.3 341.4,221.7 333.2,224.8 325.0,225.0 316.7,224.9 308.5,224.0 300.3,224.1 292.1,224.2 283.9,224.7 277.3,220.3 275.6,218.4 273.3,212.6 271.3,204.9 267.4,199.0 266.4,197.3 267.4,191.5 267.8,189.6 267.4,187.4 265.9,181.9 266.0,174.2 263.5,166.5 267.4,161.0 268.6,158.9 267.9,151.2 269.7,143.5ZM538.7,249.7 532.2,243.3 530.5,242.1 522.3,235.7 522.3,235.7 514.8,228.0 514.0,226.9 509.7,220.3 507.6,212.6 505.8,205.7 505.6,204.9 502.8,197.3 501.1,189.6 497.6,183.5 496.8,181.9 494.3,174.2 492.8,166.5 489.4,159.8 489.0,158.9 486.7,151.2 484.9,143.5 483.4,135.8 481.2,130.1 480.3,128.1 481.2,120.5 481.2,120.5 481.2,120.4 474.8,112.8 472.9,109.7 471.0,105.1 472.9,100.0 473.9,97.4 472.9,93.6 471.8,89.7 472.9,87.3 475.3,82.0 475.9,74.4 479.8,66.7 481.2,64.5 487.6,59.0 489.4,58.4 497.6,58.8 498.8,59.0 505.8,60.5 514.0,61.0 522.3,60.9 528.1,66.7 527.0,74.4 526.8,82.0 530.4,89.7 530.5,89.9 538.7,92.4M290.1,143.5 292.1,142.0 300.3,140.7 305.1,143.5 308.5,147.4 313.4,151.2 316.7,156.9 318.4,158.9 325.0,163.9 326.6,166.5 329.6,174.2 330.9,181.9 332.4,189.6 331.2,197.3 331.1,204.9 325.0,210.7 316.7,209.5 308.5,210.5 300.3,209.5 292.1,210.8 283.9,209.6 281.0,204.9 279.1,197.3 277.2,189.6 279.0,181.9 278.2,174.2 278.7,166.5 281.7,158.9 283.9,154.5 285.3,151.2ZM61.9,152.6 70.1,154.0 78.3,153.9 84.3,158.9 86.6,160.2 94.8,160.7 96.3,166.5 96.5,174.2 97.9,181.9 96.1,189.6 95.4,197.3 94.8,198.1 89.8,204.9 86.6,208.0 79.8,212.6 78.3,214.5 75.1,220.3 70.1,224.9 61.9,223.0M538.7,235.5 530.5,233.3 524.8,228.0 522.3,224.2 519.3,220.3 516.3,212.6 515.2,204.9 514.0,201.9 512.0,197.3 508.8,189.6 506.1,181.9 505.8,181.3 502.0,174.2 501.4,166.5 497.6,161.4 496.1,158.9 493.8,151.2 492.6,143.5 491.3,135.8 491.0,128.1 492.3,120.5 494.7,112.8 497.6,106.2 498.1,105.1 501.5,97.4 505.8,91.5 514.0,91.9 520.0,97.4 522.3,102.3 525.1,105.1 530.5,106.9 538.7,106.9M61.9,164.0 70.1,163.6 75.6,166.5 78.3,172.4 79.2,174.2 78.5,181.9 78.4,189.6 78.3,189.9 76.8,197.3 72.3,204.9 70.1,208.2 61.9,209.6M538.7,224.7 530.5,223.3 528.5,220.3 526.2,212.6 523.9,204.9 522.3,200.7 521.0,197.3 516.9,189.6 514.0,183.7 513.2,181.9 510.6,174.2 509.7,166.5 507.9,158.9 508.0,151.2 507.4,143.5 510.3,135.8 512.2,128.1 514.0,124.9 517.7,120.5 522.3,117.4 530.5,117.9 538.7,118.8M538.7,213.3 537.9,212.6 535.8,204.9 533.1,197.3 532.4,189.6 530.5,187.7 522.4,181.9 522.3,181.2 521.1,174.2 521.3,166.5 519.8,158.9 520.5,151.2 522.3,144.0 522.8,143.5 530.5,139.7 538.7,139.3"/></g>
<g clip-path="url(#cb)"><rect x="671.9" y="20.6" width="477.1" height="483.9" fill="#3a2aa5"/>
<path fill="#483ee1" fill-rule="evenodd" d="M671.9,20.6 680.1,20.6 688.4,20.6 696.6,20.6 704.8,20.6 713.0,20.6 721.3,20.6 729.5,20.6 737.7,20.6 745.9,20.6 754.2,20.6 762.4,20.6 770.6,20.6 778.8,20.6 787.1,20.6 795.3,20.6 803.5,20.6 811.7,20.6 820.0,20.6 828.2,20.6 836.4,20.6 844.6,20.6 852.9,20.6 861.1,20.6 869.3,20.6 877.5,20.6 885.8,20.6 894.0,20.6 902.2,20.6 910.4,20.6 918.7,20.6 926.9,20.6 935.1,20.6 943.4,20.6 951.6,20.6 959.8,20.6 968.0,20.6 976.3,20.6 984.5,20.6 992.7,20.6 1000.9,20.6 1009.2,20.6 1017.4,20.6 1025.6,20.6 1025.6,20.6 1033.8,23.0 1042.1,26.0 1049.7,28.3 1050.3,28.5 1051.3,28.3 1058.5,26.8 1066.7,24.4 1074.4,28.3 1075.0,28.7 1075.7,28.3 1083.2,23.4 1091.4,28.2 1099.6,27.0 1107.9,25.3 1116.1,22.2 1117.7,20.6 1124.3,20.6 1132.5,20.6 1140.8,20.6 1149.0,20.6 1149.0,28.3 1149.0,36.0 1149.0,43.6 1149.0,51.3 1149.0,59.0 1149.0,66.7 1149.0,74.4 1149.0,82.0 1149.0,89.7 1149.0,97.4 1149.0,105.1 1149.0,112.8 1149.0,120.5 1149.0,128.1 1149.0,135.8 1149.0,143.5 1149.0,151.2 1149.0,158.9 1149.0,166.5 1149.0,174.2 1149.0,181.9 1149.0,189.6 1149.0,197.3 1149.0,204.9 1149.0,212.6 1149.0,220.3 1149.0,228.0 1149.0,235.7 1149.0,243.3 1149.0,251.0 1149.0,258.7 1149.0,266.4 1149.0,274.1 1149.0,281.8 1149.0,289.4 1149.0,297.1 1149.0,304.8 1149.0,312.5 1149.0,320.2 1149.0,327.8 1149.0,335.5 1149.0,343.2 1149.0,350.9 1149.0,358.6 1149.0,366.2 1149.0,373.9 1149.0,381.6 1149.0,389.3 1149.0,397.0 1149.0,404.6 1149.0,412.3 1149.0,420.0 1149.0,427.7 1149.0,435.4 1149.0,440.3 1140.8,440.9 1135.0,443.1 1132.5,444.2 1130.4,443.1 1124.3,441.1 1116.1,442.2 1107.9,440.7 1099.6,438.3 1091.4,440.6 1083.2,438.9 1077.0,435.4 1075.0,434.4 1066.7,433.9 1058.5,435.2 1050.3,433.9 1042.1,431.9 1033.8,434.8 1025.6,432.9 1017.4,433.7 1009.2,429.2 1000.9,429.6 992.7,432.3 984.5,430.1 976.3,427.9 968.0,428.7 959.8,434.6 954.1,435.4 959.8,438.1 962.3,443.1 968.0,445.7 976.3,444.8 984.5,444.9 988.8,443.1 992.7,441.1 1000.9,441.5 1004.7,443.1 1005.2,450.7 1000.9,454.2 997.0,458.4 1000.9,461.9 1009.2,465.0 1017.4,459.1 1025.6,463.0 1030.3,458.4 1025.6,454.8 1017.4,452.5 1017.0,450.7 1012.8,443.1 1017.4,438.2 1020.6,443.1 1025.6,447.3 1031.3,450.7 1033.8,453.9 1038.6,450.7 1042.1,448.8 1050.3,449.5 1058.5,448.3 1066.7,449.0 1075.0,448.7 1083.2,449.7 1091.4,446.7 1099.6,448.3 1107.9,446.3 1114.2,450.7 1113.6,458.4 1116.1,460.9 1122.2,466.1 1124.3,467.0 1132.5,468.7 1140.7,473.8 1140.8,475.3 1140.9,473.8 1149.0,467.9 1149.0,473.8 1149.0,480.3 1142.9,481.5 1140.8,481.9 1132.5,487.0 1126.8,489.1 1124.3,495.5 1123.9,489.1 1116.1,484.0 1107.9,486.7 1099.6,485.1 1091.4,485.2 1083.2,483.9 1076.3,481.5 1075.0,481.2 1073.4,481.5 1066.7,484.0 1062.0,481.5 1058.5,480.8 1050.9,481.5 1050.3,481.7 1050.0,481.5 1042.1,479.1 1033.8,480.7 1032.0,481.5 1029.4,489.1 1025.6,489.8 1017.4,490.8 1009.2,493.7 1000.9,494.1 992.7,495.8 984.5,495.3 976.3,494.3 968.0,492.5 959.8,496.1 951.6,492.7 943.4,495.7 935.2,489.1 935.1,488.8 926.9,485.4 918.7,487.3 910.4,486.1 902.2,485.8 894.0,486.4 887.4,489.1 885.8,490.1 877.5,491.9 869.3,492.9 864.3,489.1 861.1,484.7 855.2,489.1 852.9,490.9 851.4,489.1 844.6,483.4 836.4,482.6 828.2,487.0 820.0,483.5 811.7,483.0 803.5,485.6 795.3,484.1 787.1,484.2 782.5,481.5 778.8,479.8 775.4,481.5 770.6,484.5 763.8,481.5 762.4,480.7 761.9,481.5 754.7,489.1 754.2,489.4 745.9,493.4 737.7,492.7 732.9,489.1 729.5,487.1 721.3,483.4 713.0,487.8 704.8,488.1 696.6,486.9 691.8,489.1 688.4,491.0 685.8,489.1 680.1,487.0 671.9,483.7 671.9,481.5 671.9,474.5 680.1,474.6 687.5,473.8 688.4,473.7 688.6,473.8 696.6,476.8 704.8,477.7 710.0,473.8 713.0,471.3 721.3,470.2 727.2,473.8 729.5,475.5 737.7,474.2 738.0,473.8 745.9,467.8 754.2,468.0 758.1,466.1 762.4,462.5 769.1,458.4 770.6,457.7 771.6,458.4 778.8,461.7 782.2,458.4 787.1,455.9 795.3,455.6 803.5,454.0 809.4,458.4 811.7,460.0 820.0,460.1 827.8,458.4 828.2,458.0 828.5,458.4 836.4,460.9 844.6,458.9 852.9,461.2 861.1,460.1 869.3,461.2 877.5,460.4 882.7,458.4 885.8,454.3 889.9,458.4 894.0,459.9 902.2,461.2 910.4,458.4 918.7,461.0 926.9,458.6 935.1,459.1 937.5,458.4 935.1,457.4 926.9,457.7 918.7,451.5 917.0,450.7 910.4,448.6 902.2,444.8 895.1,443.1 894.0,442.3 885.8,440.3 885.2,443.1 877.5,447.9 869.7,443.1 869.3,442.9 861.1,442.7 858.0,443.1 852.9,445.5 851.6,443.1 844.6,437.7 840.1,443.1 836.4,445.8 828.2,446.2 825.0,443.1 820.0,438.2 811.7,439.4 803.5,438.2 795.3,439.2 787.1,437.9 778.8,437.3 770.6,438.3 762.4,436.0 754.2,437.6 745.9,438.6 737.7,436.0 729.5,441.6 721.3,442.2 713.0,438.0 704.8,442.9 704.7,443.1 696.6,446.9 691.1,443.1 688.4,439.7 686.3,443.1 680.1,448.0 671.9,446.6 671.9,443.1 671.9,435.4 671.9,430.6 680.1,429.3 688.4,430.6 696.6,429.4 699.6,427.7 704.8,425.1 713.0,427.0 721.3,423.3 726.8,420.0 721.3,414.7 719.6,412.3 713.0,409.3 704.8,410.2 696.6,408.1 690.5,404.6 688.4,401.4 687.3,404.6 680.1,410.3 671.9,408.6 671.9,404.6 671.9,397.0 671.9,389.3 671.9,381.6 671.9,373.9 671.9,366.2 671.9,363.6 680.1,364.4 688.4,363.1 696.6,364.0 704.8,360.9 713.0,363.2 721.3,364.8 729.5,359.7 730.9,358.6 729.5,355.0 726.5,350.9 729.5,349.1 737.7,345.1 745.9,349.9 754.2,346.2 762.4,345.5 770.6,345.9 778.8,346.7 783.3,343.2 780.0,335.5 778.8,335.0 770.6,331.6 763.7,335.5 762.4,338.3 760.9,335.5 762.4,330.7 763.3,327.8 762.4,325.5 754.2,326.5 749.7,327.8 745.9,328.6 744.4,327.8 737.7,325.2 729.5,324.0 721.3,323.2 713.0,323.7 706.3,320.2 704.8,319.5 699.2,320.2 696.6,320.7 695.8,320.2 688.4,317.4 680.1,319.2 678.5,320.2 671.9,323.4 671.9,320.2 671.9,312.5 671.9,304.8 671.9,297.1 671.9,291.7 680.1,294.7 688.3,297.1 688.0,304.8 688.4,305.1 696.6,307.8 704.8,305.3 713.0,307.6 719.4,304.8 721.3,302.8 729.5,302.8 737.7,299.6 745.9,299.9 751.3,297.1 754.2,296.5 756.0,297.1 754.2,303.9 753.8,304.8 754.2,304.9 762.4,310.1 769.6,304.8 770.6,304.4 778.8,301.9 787.1,300.0 791.4,297.1 795.3,292.9 800.1,289.4 799.8,281.8 803.5,278.7 809.1,281.8 806.4,289.4 811.7,292.5 820.0,291.0 828.2,289.6 829.1,289.4 836.4,287.8 844.6,286.8 852.5,281.8 852.9,281.5 853.2,281.8 861.1,284.1 869.3,281.8 869.4,281.8 877.5,276.4 884.8,274.1 885.8,273.9 887.0,274.1 894.0,276.8 900.0,281.8 902.2,283.3 910.4,285.9 918.7,284.4 926.9,282.1 927.5,281.8 933.7,274.1 935.1,272.5 943.4,270.5 951.6,270.8 955.3,266.4 957.5,258.7 951.6,257.2 943.8,251.0 943.4,249.3 935.1,249.2 926.9,246.8 918.7,244.7 910.4,243.7 908.3,243.3 902.2,243.0 898.2,243.3 894.0,244.1 892.8,243.3 885.8,239.2 877.5,242.3 876.4,243.3 869.3,246.5 862.1,243.3 861.1,242.0 852.9,241.0 849.7,243.3 844.6,245.1 838.7,251.0 836.4,255.0 833.2,251.0 833.1,243.3 828.2,241.4 825.4,243.3 823.1,251.0 820.0,253.7 812.0,258.7 811.7,259.0 809.8,258.7 803.5,256.1 801.5,258.7 795.3,261.1 791.0,258.7 787.1,257.9 784.4,258.7 778.8,264.0 775.2,266.4 770.6,268.6 762.4,270.2 754.2,268.1 745.9,272.2 741.7,274.1 737.7,275.5 730.7,274.1 729.5,273.5 728.9,274.1 721.3,276.9 714.6,281.8 713.0,285.4 711.8,281.8 704.8,274.8 696.6,278.1 688.4,279.3 681.1,281.8 680.1,282.6 679.1,281.8 671.9,279.9 671.9,274.1 671.9,266.4 671.9,258.7 671.9,251.0 671.9,243.3 671.9,235.7 671.9,228.0 671.9,220.3 671.9,212.6 671.9,204.9 671.9,197.3 671.9,189.6 671.9,181.9 671.9,174.2 671.9,166.5 671.9,158.9 671.9,151.2 671.9,143.5 671.9,135.8 671.9,128.1 671.9,120.5 671.9,112.8 671.9,105.1 671.9,97.4 671.9,89.7 671.9,82.0 671.9,74.4 671.9,66.7 671.9,59.0 671.9,51.3 671.9,43.6 671.9,36.0 671.9,28.3ZM762.4,112.7 762.2,112.8 757.7,120.5 762.4,121.2 763.1,120.5 762.7,112.8ZM968.0,257.8 965.7,258.7 968.0,259.7 976.3,260.7 977.3,258.7 976.3,257.4ZM992.7,287.0 990.9,289.4 992.7,290.8 994.5,289.4ZM1009.2,380.9 1008.1,381.6 1009.2,383.6 1011.9,389.3 1017.4,391.8 1025.1,389.3 1020.0,381.6 1017.4,380.9ZM1042.1,381.2 1040.9,381.6 1033.8,387.2 1026.8,389.3 1033.8,390.7 1042.1,392.0 1050.3,390.3 1058.5,389.4 1059.0,389.3 1058.5,389.2 1050.3,388.0 1042.9,381.6ZM729.5,400.4 726.8,404.6 729.5,407.6 731.0,404.6ZM787.1,416.8 786.2,420.0 787.1,420.5 787.3,420.0ZM795.3,357.9 793.8,358.6 795.3,359.1 797.5,358.6ZM803.5,301.5 800.4,304.8 803.5,308.5 808.7,304.8ZM852.9,320.1 852.8,320.2 852.9,320.2 853.2,320.2ZM861.1,350.8 860.9,350.9 861.1,351.0 861.2,350.9ZM910.4,325.5 908.4,327.8 902.2,334.1 898.1,335.5 894.0,339.4 885.8,335.7 878.6,343.2 885.8,346.7 894.0,344.4 902.2,350.9 902.2,350.9 902.5,350.9 910.4,348.7 918.7,350.3 920.1,350.9 926.9,354.1 935.1,354.2 941.7,350.9 943.4,349.6 945.3,350.9 951.6,357.0 959.8,353.6 968.0,352.4 975.0,350.9 976.3,349.7 984.5,350.8 992.6,343.2 992.7,343.1 999.9,335.5 992.7,331.5 984.5,331.0 976.3,329.9 968.0,328.4 959.8,332.6 951.6,331.6 943.4,329.7 935.1,328.5 932.9,327.8 926.9,325.5 922.2,327.8 918.7,329.0 915.6,327.8ZM795.3,404.0 793.9,404.6 788.1,412.3 795.3,414.2 803.5,415.8 811.7,415.4 817.2,412.3 820.0,410.2 828.2,412.2 828.4,412.3 836.4,414.0 844.6,414.1 846.8,412.3 844.6,410.5 839.1,404.6 836.4,403.5 828.2,402.4 820.0,401.9 811.7,401.3 803.5,401.7ZM943.4,433.2 940.7,435.4 943.4,441.0 950.6,435.4ZM916.4,258.7 918.7,257.3 920.9,258.7 918.7,259.8ZM817.2,281.8 820.0,280.8 821.0,281.8 820.0,283.9ZM704.2,335.5 704.8,335.3 705.2,335.5 704.8,335.9ZM711.3,343.2 713.0,341.6 714.3,343.2 713.0,344.6ZM671.9,350.9 671.9,350.8 672.0,350.9 671.9,351.0ZM671.9,458.4 671.9,454.7 680.1,455.7 688.4,453.5 696.6,456.4 698.8,458.4 696.6,461.3 688.4,460.8 680.1,460.4 671.9,462.2ZM809.3,496.8 811.7,494.6 814.5,496.8 811.7,499.5ZM678.6,504.5 680.1,501.4 683.0,504.5 680.1,504.5Z"/>
<path fill="#4e62f0" fill-rule="evenodd" d="M671.9,20.6 680.1,20.6 688.4,20.6 696.6,20.6 704.8,20.6 713.0,20.6 721.3,20.6 729.5,20.6 737.7,20.6 745.9,20.6 754.2,20.6 762.4,20.6 770.6,20.6 778.8,20.6 787.1,20.6 795.3,20.6 803.5,20.6 811.7,20.6 820.0,20.6 828.2,20.6 836.4,20.6 844.6,20.6 852.9,20.6 861.1,20.6 869.3,20.6 877.5,20.6 885.8,20.6 894.0,20.6 902.2,20.6 910.4,20.6 918.7,20.6 926.9,20.6 935.1,20.6 943.4,20.6 951.6,20.6 959.8,20.6 968.0,20.6 976.3,20.6 984.5,20.6 992.7,20.6 998.3,20.6 997.3,28.3 1000.9,29.0 1009.2,30.2 1017.4,32.0 1025.6,34.5 1033.8,28.6 1038.5,36.0 1042.1,40.4 1050.0,36.0 1050.3,35.9 1058.5,33.2 1062.8,36.0 1066.7,38.8 1075.0,41.5 1083.2,36.6 1091.4,40.1 1099.6,38.8 1103.8,36.0 1107.9,34.9 1114.1,36.0 1116.1,38.2 1120.9,36.0 1124.3,32.4 1126.5,36.0 1132.5,37.0 1134.4,36.0 1139.9,28.3 1140.8,26.9 1141.8,28.3 1149.0,33.4 1149.0,36.0 1149.0,43.6 1149.0,51.3 1149.0,59.0 1149.0,66.7 1149.0,74.4 1149.0,82.0 1149.0,89.7 1149.0,97.4 1149.0,105.1 1149.0,112.8 1149.0,120.5 1149.0,128.1 1149.0,135.8 1149.0,143.5 1149.0,151.2 1149.0,158.9 1149.0,166.5 1149.0,174.2 1149.0,181.9 1149.0,189.6 1149.0,197.3 1149.0,204.9 1149.0,212.6 1149.0,220.3 1149.0,228.0 1149.0,235.7 1149.0,243.3 1149.0,251.0 1149.0,258.7 1149.0,266.4 1149.0,274.1 1149.0,281.8 1149.0,289.4 1149.0,297.1 1149.0,304.8 1149.0,312.5 1149.0,320.2 1149.0,327.8 1149.0,335.5 1149.0,343.2 1149.0,350.9 1149.0,358.6 1149.0,366.2 1149.0,373.5 1148.5,373.9 1149.0,374.1 1149.0,381.6 1149.0,389.3 1149.0,397.0 1149.0,404.6 1149.0,412.3 1149.0,420.0 1149.0,427.7 1149.0,435.4 1149.0,436.8 1140.8,435.5 1140.4,435.4 1132.5,433.1 1128.4,435.4 1124.3,436.9 1116.1,435.6 1114.9,435.4 1107.9,433.7 1099.6,431.4 1091.4,429.9 1083.2,432.4 1075.0,429.2 1066.7,428.6 1061.8,427.7 1058.5,427.0 1050.3,425.0 1042.1,424.8 1035.9,427.7 1033.8,428.8 1030.5,427.7 1025.6,423.9 1017.4,425.0 1009.2,423.0 1000.9,422.1 993.3,427.7 992.7,427.9 992.2,427.7 984.5,421.1 976.3,423.1 968.0,422.0 959.8,421.6 951.6,422.2 943.4,425.7 935.1,423.6 928.0,427.7 926.9,428.4 925.0,427.7 918.7,424.2 910.4,422.0 902.2,425.5 894.0,424.3 885.8,421.0 883.8,420.0 879.0,412.3 877.5,410.0 875.7,412.3 869.3,417.2 865.0,412.3 869.3,406.2 871.6,404.6 872.6,397.0 869.3,395.0 861.1,396.3 852.9,391.0 847.9,397.0 844.6,399.5 840.7,397.0 836.4,392.6 830.2,389.3 828.2,388.3 820.0,384.9 814.1,389.3 811.7,390.6 803.5,393.6 795.3,392.9 787.1,391.0 778.8,391.7 770.6,389.8 770.2,389.3 762.4,383.6 754.2,389.3 754.2,389.4 745.9,392.1 740.8,389.3 741.2,381.6 745.9,377.2 749.4,373.9 754.2,370.6 760.2,373.9 762.4,376.6 770.6,374.5 778.8,376.2 780.4,373.9 783.2,366.2 787.1,364.7 792.9,366.2 795.3,367.2 797.9,366.2 803.5,365.0 811.7,362.0 815.7,358.6 820.0,356.5 822.3,358.6 820.0,362.8 816.6,366.2 820.0,369.1 828.2,369.1 836.4,370.6 840.4,366.2 844.6,362.6 852.9,363.5 861.1,365.9 861.8,366.2 869.3,370.2 875.4,366.2 877.5,365.4 885.8,362.9 894.0,364.4 902.2,362.4 910.4,363.3 915.8,366.2 918.7,367.6 923.9,366.2 926.9,364.7 935.1,364.7 936.3,366.2 941.1,373.9 943.4,379.8 949.8,381.6 951.6,382.4 959.8,381.9 968.0,388.3 968.6,389.3 974.0,397.0 976.3,398.1 984.5,397.7 986.8,397.0 992.7,394.9 1000.9,395.8 1003.9,397.0 1009.2,398.6 1017.4,399.6 1025.6,398.7 1033.8,399.1 1042.1,397.3 1050.3,398.2 1058.5,397.1 1066.7,398.9 1075.0,397.3 1075.6,397.0 1079.7,389.3 1083.2,385.6 1087.0,381.6 1083.2,376.6 1077.0,373.9 1075.0,373.2 1066.7,369.1 1058.5,371.5 1050.3,370.2 1044.4,373.9 1042.1,375.2 1039.1,373.9 1033.8,371.1 1025.6,370.0 1017.4,370.7 1009.2,369.0 1000.9,370.0 992.7,373.7 984.5,369.5 976.3,369.6 968.0,369.5 964.4,366.2 968.0,364.7 976.3,364.3 984.5,363.7 992.7,361.8 1000.9,364.3 1009.2,361.4 1017.4,360.7 1025.6,359.3 1027.3,358.6 1033.8,354.8 1040.1,350.9 1042.1,349.8 1049.7,343.2 1050.3,342.8 1054.4,335.5 1054.6,327.8 1050.3,325.2 1042.1,326.7 1033.8,326.1 1025.6,326.9 1017.4,324.3 1009.2,323.1 1000.9,323.4 998.0,320.2 995.3,312.5 992.7,308.9 989.6,304.8 988.8,297.1 992.7,296.4 1000.9,291.3 1003.6,289.4 1009.2,286.4 1017.4,285.8 1025.6,285.2 1033.5,289.4 1033.8,289.5 1034.0,289.4 1038.4,281.8 1042.1,277.5 1050.3,281.7 1058.5,278.0 1066.7,275.2 1067.3,274.1 1066.7,272.2 1058.5,270.9 1050.3,270.9 1042.1,268.3 1033.8,269.3 1025.6,269.0 1023.4,266.4 1018.1,258.7 1017.4,252.8 1016.7,251.0 1009.2,250.1 1001.5,251.0 1000.9,251.2 1000.4,251.0 992.7,244.9 984.5,247.0 976.3,246.4 970.7,243.3 968.0,240.2 959.8,242.4 951.6,238.8 943.4,237.8 938.0,235.7 935.1,232.3 926.9,234.4 918.7,232.7 910.4,233.3 902.4,235.7 902.2,235.7 894.0,235.8 893.8,235.7 885.8,230.1 877.5,233.6 869.3,231.7 861.1,233.1 852.9,231.9 844.6,231.4 836.4,233.5 828.2,235.4 820.0,233.8 817.2,235.7 811.7,243.1 811.3,243.3 803.5,245.1 797.7,243.3 795.3,241.4 787.1,241.3 784.9,243.3 778.8,247.3 771.8,251.0 770.6,252.8 768.1,251.0 762.4,243.6 759.3,251.0 754.2,257.9 745.9,256.2 740.2,258.7 737.7,259.5 736.1,258.7 729.5,253.7 721.3,256.8 713.0,258.5 704.8,258.5 696.6,256.8 692.9,258.7 688.4,265.8 680.1,265.9 679.5,266.4 671.9,273.2 671.9,266.4 671.9,258.7 671.9,251.0 671.9,243.3 671.9,235.7 671.9,228.0 671.9,220.3 671.9,212.6 671.9,204.9 671.9,197.3 671.9,189.6 671.9,181.9 671.9,174.2 671.9,166.5 671.9,158.9 671.9,151.2 671.9,143.5 671.9,135.8 671.9,128.1 671.9,120.5 671.9,112.8 671.9,105.1 671.9,97.4 671.9,89.7 671.9,82.0 671.9,74.4 671.9,66.7 671.9,59.0 671.9,51.3 671.9,43.6 671.9,36.0 671.9,28.3ZM721.3,112.5 720.2,112.8 721.3,113.6 722.8,112.8ZM795.3,104.1 793.1,105.1 787.1,110.7 780.8,112.8 778.8,113.8 777.6,112.8 770.6,108.2 762.4,109.2 754.5,112.8 754.2,113.1 745.9,113.4 744.3,112.8 737.7,112.2 734.2,112.8 731.6,120.5 736.6,128.1 737.7,128.3 739.6,128.1 745.9,126.5 749.3,128.1 754.2,129.8 762.4,130.7 770.6,130.5 778.8,131.1 787.1,129.1 795.3,128.3 803.5,129.6 806.9,128.1 811.7,124.0 814.9,128.1 820.0,130.9 828.2,128.6 829.5,128.1 836.4,125.2 844.3,120.5 844.6,119.9 852.9,118.8 857.1,112.8 852.9,111.6 844.6,109.4 836.4,110.7 828.8,105.1 828.2,104.9 823.2,105.1 820.0,105.3 818.9,105.1 811.7,104.2 804.9,105.1 803.5,105.6 802.4,105.1ZM869.3,112.3 866.0,112.8 869.3,115.5 870.7,112.8ZM984.5,235.3 983.9,235.7 984.5,236.8 985.5,235.7ZM992.7,34.5 991.8,36.0 992.7,36.2 993.0,36.0ZM1075.0,325.2 1068.6,327.8 1075.0,329.5 1075.9,327.8ZM1083.2,274.0 1083.1,274.1 1083.2,274.5 1083.3,274.1ZM1091.4,349.7 1090.0,350.9 1091.4,352.7 1094.1,350.9ZM1099.6,373.9 1099.6,373.9 1099.6,373.9 1099.7,373.9ZM877.5,388.9 877.1,389.3 877.5,390.0 885.8,390.0 886.5,389.3 885.8,388.2ZM918.7,380.9 917.4,381.6 916.4,389.3 918.7,390.4 920.5,389.3 920.5,381.6ZM935.1,378.9 930.8,381.6 935.1,388.4 941.9,381.6ZM935.1,403.5 934.1,404.6 935.1,407.4 935.9,404.6ZM1131.5,20.6 1132.5,20.6 1134.0,20.6 1132.5,21.4ZM785.6,251.0 787.1,248.2 789.1,251.0 787.1,251.8ZM859.8,289.4 861.1,288.9 863.0,289.4 861.1,291.0ZM959.7,304.8 959.8,304.6 960.1,304.8 959.8,305.2ZM702.8,312.5 704.8,311.7 706.1,312.5 704.8,313.2ZM817.5,320.2 820.0,318.1 821.3,320.2 822.1,327.8 820.0,330.1 817.9,327.8ZM819.4,343.2 820.0,342.5 825.2,343.2 820.0,343.7ZM727.2,373.9 729.5,371.8 732.3,373.9 732.7,381.6 733.1,389.3 729.5,390.9 722.3,397.0 721.3,398.2 719.8,397.0 713.0,393.2 704.8,393.1 696.6,392.8 688.4,392.2 680.1,393.8 671.9,392.5 671.9,389.3 671.9,384.4 680.1,384.2 688.4,385.7 696.6,384.8 704.8,387.1 713.0,384.2 718.8,381.6 721.3,379.6ZM948.4,373.9 951.6,372.3 953.9,373.9 951.6,380.7ZM678.2,404.6 680.1,402.5 681.2,404.6 680.1,405.5ZM753.4,412.3 754.2,411.9 755.6,412.3 754.2,412.6ZM809.8,427.7 811.7,425.7 817.8,427.7 811.7,429.2ZM677.1,435.4 680.1,434.5 682.0,435.4 680.1,440.2ZM793.6,466.1 795.3,465.0 800.9,466.1 803.5,468.0 811.7,467.1 814.1,466.1 820.0,464.9 824.4,466.1 828.2,468.0 833.0,466.1 836.4,465.4 842.1,466.1 844.6,466.9 851.8,473.8 844.6,477.0 836.4,475.2 828.2,478.3 820.0,476.8 811.7,477.2 803.5,475.7 795.3,476.3 787.1,474.8 784.9,473.8 787.1,472.4ZM861.0,466.1 861.1,466.1 861.2,466.1 864.1,473.8 861.1,476.1 854.7,473.8ZM898.7,466.1 902.2,465.2 910.4,464.3 918.7,465.4 926.9,464.3 935.1,465.0 940.7,466.1 943.4,467.0 951.6,467.5 953.9,466.1 959.8,463.9 968.0,463.3 972.6,466.1 968.0,473.4 967.8,473.8 959.8,479.6 951.6,478.2 943.4,479.1 935.1,477.5 926.9,479.3 920.5,481.5 918.7,482.1 916.6,481.5 910.4,478.4 902.2,479.6 894.0,477.8 885.8,479.3 877.5,473.9 877.4,473.8 877.5,473.3 885.8,470.2 894.0,469.4ZM982.0,466.1 984.5,464.9 992.7,465.8 993.1,466.1 992.7,467.7 984.5,467.9ZM1035.0,466.1 1042.1,461.1 1045.4,466.1 1050.3,470.4 1055.6,466.1 1058.5,463.6 1066.7,463.1 1075.0,463.4 1083.2,465.9 1091.4,465.5 1092.1,466.1 1099.6,469.9 1107.9,470.4 1116.1,472.0 1124.3,472.3 1129.3,473.8 1124.3,476.2 1116.1,475.0 1107.9,475.4 1099.6,477.2 1091.4,476.9 1083.2,478.9 1075.0,477.8 1066.7,478.3 1058.5,477.5 1050.3,476.0 1043.4,473.8 1042.1,472.4 1040.2,473.8 1033.8,475.2 1028.8,473.8 1033.8,467.5ZM973.1,481.5 976.3,478.8 984.4,481.5 976.3,488.4Z"/>
<path fill="#5587e8" fill-rule="evenodd" d="M671.9,20.6 680.1,20.6 688.4,20.6 696.6,20.6 704.8,20.6 713.0,20.6 721.3,20.6 729.5,20.6 737.7,20.6 745.9,20.6 754.2,20.6 762.4,20.6 770.6,20.6 778.8,20.6 787.1,20.6 795.3,20.6 803.5,20.6 811.7,20.6 820.0,20.6 828.2,20.6 836.4,20.6 844.6,20.6 852.9,20.6 861.1,20.6 869.3,20.6 877.5,20.6 885.8,20.6 894.0,20.6 902.2,20.6 910.4,20.6 918.7,20.6 926.9,20.6 935.1,20.6 936.4,20.6 935.7,28.3 935.1,29.3 930.5,36.0 935.1,40.8 943.4,39.8 951.6,36.8 959.8,42.6 964.6,43.6 968.0,45.0 976.3,46.3 982.1,43.6 984.5,42.6 992.7,43.2 999.8,43.6 1000.9,43.8 1009.2,49.0 1017.4,50.8 1018.6,51.3 1025.6,52.2 1033.8,57.4 1042.1,52.8 1050.3,56.6 1058.5,53.6 1066.7,51.6 1067.1,51.3 1075.0,49.4 1083.2,47.4 1091.4,48.4 1095.7,51.3 1099.6,54.6 1102.8,51.3 1107.9,47.4 1116.1,47.5 1124.3,47.2 1132.5,49.6 1140.8,49.8 1149.0,45.6 1149.0,51.3 1149.0,59.0 1149.0,66.7 1149.0,74.4 1149.0,82.0 1149.0,89.7 1149.0,97.4 1149.0,105.1 1149.0,112.8 1149.0,120.5 1149.0,128.1 1149.0,135.8 1149.0,143.5 1149.0,151.2 1149.0,158.9 1149.0,166.5 1149.0,174.2 1149.0,181.9 1149.0,189.6 1149.0,197.3 1149.0,204.9 1149.0,212.6 1149.0,220.3 1149.0,228.0 1149.0,235.7 1149.0,243.3 1149.0,251.0 1149.0,258.7 1149.0,266.4 1149.0,269.0 1143.5,274.1 1140.8,276.6 1137.4,274.1 1135.5,266.4 1132.5,264.7 1124.3,259.8 1116.1,261.9 1107.9,260.5 1099.6,261.5 1091.4,258.8 1090.2,258.7 1083.2,258.0 1075.0,254.8 1066.7,257.2 1060.9,251.0 1058.5,248.8 1050.3,247.8 1042.1,250.3 1033.8,248.7 1026.4,243.3 1025.6,238.9 1023.9,243.3 1017.4,244.5 1009.2,244.0 1007.6,243.3 1009.2,240.7 1011.6,235.7 1009.2,233.9 1004.5,235.7 1000.9,237.6 998.9,235.7 992.7,232.9 984.5,230.7 976.3,234.0 971.0,228.0 968.0,226.2 959.8,225.9 951.6,225.8 943.4,226.9 935.1,224.2 926.9,227.7 919.4,228.0 918.7,228.0 918.6,228.0 910.4,224.6 902.2,226.4 894.0,227.3 885.8,221.5 881.4,220.3 877.5,219.8 869.3,219.6 867.7,220.3 861.4,228.0 861.1,228.1 860.5,228.0 852.9,225.4 844.6,225.3 836.4,223.3 828.2,224.9 820.0,225.1 811.7,225.0 804.9,228.0 803.5,228.8 795.3,231.4 787.1,231.5 778.8,232.8 773.1,235.7 770.6,238.1 767.1,235.7 762.4,234.0 756.0,235.7 754.2,240.9 745.9,238.6 737.7,238.6 732.7,235.7 729.5,234.7 725.9,235.7 721.3,238.3 718.8,243.3 721.3,250.8 721.4,251.0 721.3,251.1 713.0,251.0 713.0,251.0 704.8,247.6 697.8,251.0 696.6,251.4 688.4,253.3 680.1,255.2 671.9,256.2 671.9,251.0 671.9,243.3 671.9,235.7 671.9,228.0 671.9,220.3 671.9,212.6 671.9,204.9 671.9,197.3 671.9,189.6 671.9,181.9 671.9,174.2 671.9,166.5 671.9,158.9 671.9,151.2 671.9,143.5 671.9,135.8 671.9,128.1 671.9,120.5 671.9,112.8 671.9,105.1 671.9,97.4 671.9,89.7 671.9,82.0 671.9,74.4 671.9,66.7 671.9,59.0 671.9,51.3 671.9,43.6 671.9,36.0 671.9,28.3ZM680.1,119.4 679.1,120.5 680.1,121.0 682.0,120.5ZM745.9,104.3 743.9,105.1 737.7,107.2 729.5,108.1 721.3,105.5 713.0,107.3 704.8,110.5 696.6,109.6 693.0,112.8 696.6,118.2 701.6,120.5 704.8,123.4 710.5,128.1 713.0,128.7 721.3,129.6 729.5,134.8 737.7,135.8 737.7,135.8 745.9,137.6 754.2,138.1 762.4,137.4 770.6,137.1 778.8,138.4 787.1,137.3 795.3,137.3 803.4,135.8 803.5,135.8 803.6,135.8 811.7,138.6 819.9,135.8 820.0,135.8 828.2,133.5 836.4,131.6 844.6,135.0 852.9,134.2 860.0,128.1 861.1,127.0 867.6,128.1 869.3,128.4 877.5,132.5 883.8,128.1 885.8,126.6 889.2,128.1 894.0,129.2 899.9,128.1 902.2,127.1 908.1,120.5 902.2,115.3 894.0,118.5 885.8,116.0 881.7,112.8 877.5,110.4 869.3,108.0 861.1,108.8 852.9,105.5 851.5,105.1 844.6,102.2 836.4,101.9 828.2,100.8 820.0,99.1 811.7,99.3 803.5,101.2 795.3,99.8 787.1,103.1 778.8,103.3 770.6,102.1 764.1,105.1 762.4,105.7 760.2,105.1 754.2,102.7ZM926.9,102.9 924.0,105.1 926.9,107.3 927.9,105.1ZM935.1,111.6 932.2,112.8 935.1,113.8 936.4,112.8ZM1033.8,73.4 1032.4,74.4 1033.8,75.1 1035.1,74.4ZM696.6,242.9 695.8,243.3 696.6,247.9 698.0,243.3ZM1000.6,36.0 1000.9,35.7 1001.5,36.0 1000.9,42.0ZM1122.0,274.1 1124.3,273.9 1124.9,274.1 1125.6,281.8 1124.3,283.0 1122.8,281.8ZM1106.1,289.4 1107.9,286.8 1109.6,289.4 1107.9,292.3ZM1033.5,297.1 1033.8,297.0 1034.2,297.1 1033.8,297.3ZM1024.4,304.8 1025.6,303.7 1026.2,304.8 1025.6,305.5ZM1097.4,312.5 1099.6,311.4 1100.6,312.5 1107.9,317.8 1116.1,313.7 1120.9,312.5 1124.3,310.6 1132.5,309.0 1137.2,312.5 1140.8,314.8 1146.3,312.5 1149.0,310.5 1149.0,312.5 1149.0,320.2 1149.0,327.8 1149.0,335.5 1149.0,343.0 1149.0,343.2 1149.0,343.2 1149.0,350.9 1149.0,358.6 1149.0,360.6 1140.8,366.2 1140.7,366.2 1132.5,370.1 1125.5,366.2 1124.3,365.0 1116.1,361.3 1107.9,360.5 1107.1,358.6 1107.0,350.9 1107.9,350.3 1114.5,343.2 1116.1,337.8 1117.6,335.5 1116.1,334.6 1107.9,330.2 1103.4,335.5 1099.6,338.8 1096.2,335.5 1093.9,327.8 1093.5,320.2ZM1057.8,320.2 1058.5,318.8 1059.3,320.2 1058.5,320.6ZM1083.1,327.8 1083.2,327.6 1084.2,327.8 1083.2,328.6ZM1056.7,350.9 1058.5,350.2 1059.9,350.9 1058.5,351.7ZM1120.0,389.3 1124.3,385.7 1132.5,386.0 1140.8,384.0 1149.0,384.0 1149.0,389.3 1149.0,397.0 1149.0,404.6 1149.0,412.3 1149.0,420.0 1149.0,427.7 1149.0,430.6 1143.6,427.7 1140.8,426.0 1132.5,426.5 1125.6,427.7 1124.3,428.0 1116.1,428.1 1114.7,427.7 1107.9,425.2 1099.6,421.6 1091.4,423.1 1083.2,422.1 1075.0,420.1 1066.7,421.6 1058.5,420.7 1050.3,420.2 1048.2,420.0 1042.1,418.8 1033.8,416.6 1025.6,412.4 1017.4,416.3 1009.2,414.4 1006.1,412.3 1007.4,404.6 1009.2,404.0 1010.6,404.6 1017.4,408.8 1025.6,412.0 1033.8,406.8 1036.6,404.6 1042.1,402.3 1048.4,404.6 1050.3,408.3 1052.6,404.6 1058.5,402.6 1065.2,404.6 1066.7,405.9 1073.8,404.6 1075.0,404.5 1083.2,399.8 1091.4,400.4 1099.3,397.0 1099.6,396.4 1102.9,397.0 1107.9,397.3 1112.1,397.0 1116.1,395.4ZM890.0,397.0 894.0,393.2 898.7,397.0 894.0,404.3ZM942.9,404.6 943.4,400.0 944.2,404.6 943.4,406.7ZM974.6,404.6 976.3,403.9 978.3,404.6 976.3,405.9ZM913.8,473.8 918.7,470.6 926.9,471.7 932.0,473.8 926.9,474.9 918.7,476.9ZM1057.2,473.8 1058.5,472.7 1066.7,473.2 1075.0,472.1 1083.2,471.7 1086.4,473.8 1083.2,475.1 1075.0,474.4 1066.7,474.0 1058.5,474.2Z"/>
<path fill="#5da3da" fill-rule="evenodd" d="M671.9,20.6 680.1,20.6 688.4,20.6 696.6,20.6 704.8,20.6 713.0,20.6 721.3,20.6 729.5,20.6 737.7,20.6 745.9,20.6 754.2,20.6 762.4,20.6 770.6,20.6 778.8,20.6 787.1,20.6 795.3,20.6 803.5,20.6 811.7,20.6 820.0,20.6 828.2,20.6 836.4,20.6 844.6,20.6 852.9,20.6 861.1,20.6 869.3,20.6 877.5,20.6 885.8,20.6 892.3,20.6 894.0,22.0 895.1,20.6 902.2,20.6 909.5,20.6 905.6,28.3 910.4,33.4 912.9,36.0 910.4,40.4 908.1,43.6 910.5,47.4 918.7,46.0 922.4,43.6 926.9,41.5 929.1,43.6 933.4,51.3 935.1,52.3 943.4,55.2 949.8,51.3 951.6,49.5 952.9,51.3 954.7,59.0 959.8,64.0 968.0,60.4 976.3,59.2 982.2,66.7 984.5,70.2 992.7,68.5 995.8,66.7 1000.9,64.7 1002.5,66.7 1009.2,70.9 1014.4,74.4 1017.4,77.0 1025.6,77.9 1033.8,81.6 1042.1,78.2 1050.3,82.0 1058.5,77.0 1060.7,74.4 1058.5,70.2 1056.2,66.7 1058.5,63.7 1066.7,64.3 1075.0,60.6 1083.2,61.7 1091.4,65.0 1092.9,66.7 1099.6,69.0 1103.5,66.7 1107.9,64.7 1114.5,59.0 1116.1,54.5 1120.3,59.0 1124.3,60.7 1127.2,59.0 1132.5,56.8 1140.8,57.8 1149.0,56.6 1149.0,59.0 1149.0,66.7 1149.0,74.4 1149.0,82.0 1149.0,89.7 1149.0,97.4 1149.0,105.1 1149.0,112.8 1149.0,120.5 1149.0,128.1 1149.0,135.8 1149.0,143.5 1149.0,151.2 1149.0,158.9 1149.0,166.5 1149.0,174.2 1149.0,181.9 1149.0,189.6 1149.0,197.3 1149.0,204.9 1149.0,212.6 1149.0,220.3 1149.0,228.0 1149.0,235.7 1149.0,243.3 1149.0,251.0 1149.0,253.9 1143.9,251.0 1140.8,247.3 1132.6,251.0 1132.5,251.0 1124.3,251.1 1123.7,251.0 1116.1,250.1 1107.9,248.0 1099.6,246.3 1091.4,247.9 1083.2,246.1 1075.0,247.1 1066.7,247.5 1062.2,243.3 1058.5,242.6 1054.0,235.7 1050.3,234.2 1043.4,228.0 1042.1,226.9 1033.8,227.7 1025.6,226.2 1021.4,228.0 1017.4,230.6 1013.6,228.0 1009.2,226.0 1000.9,223.2 992.7,226.4 984.5,223.0 976.3,222.5 970.7,220.3 968.0,219.6 960.6,220.3 959.8,220.4 959.5,220.3 951.6,218.1 943.4,217.3 935.1,219.0 931.5,220.3 926.9,221.9 918.7,222.0 915.7,220.3 910.4,218.5 902.2,218.0 894.0,217.9 885.8,216.4 877.5,216.1 869.3,216.0 861.1,218.2 852.9,217.7 844.6,218.4 836.4,217.1 829.5,220.3 828.2,220.7 826.6,220.3 820.0,218.5 811.7,218.0 808.3,220.3 803.5,223.1 795.3,225.0 787.1,221.3 778.8,225.2 770.6,225.7 764.1,228.0 762.4,228.5 755.4,228.0 754.2,227.8 745.9,225.4 737.7,227.5 734.7,228.0 729.5,228.8 721.3,232.2 714.8,235.7 713.0,241.4 709.4,235.7 704.8,233.1 701.7,235.7 696.6,237.9 690.8,235.7 688.4,233.3 685.6,235.7 680.1,241.8 677.6,243.3 671.9,246.1 671.9,243.3 671.9,235.7 671.9,228.0 671.9,220.3 671.9,212.6 671.9,204.9 671.9,197.3 671.9,189.6 671.9,181.9 671.9,174.2 671.9,166.5 671.9,158.9 671.9,151.2 671.9,143.5 671.9,135.8 671.9,128.4 673.1,128.1 680.1,127.2 681.7,128.1 688.4,134.5 696.6,131.6 698.6,135.8 704.8,141.1 713.0,135.8 713.0,135.8 713.2,135.8 721.3,138.2 729.5,142.5 737.7,142.6 745.9,142.5 754.2,142.0 759.1,143.5 762.4,144.3 770.6,143.7 778.8,145.6 787.1,144.4 790.8,143.5 795.3,142.1 803.5,141.2 809.1,143.5 811.7,144.1 820.0,144.0 822.9,143.5 828.2,140.9 834.9,143.5 836.4,143.7 844.6,143.7 845.6,143.5 852.9,141.1 861.1,138.3 866.3,135.8 869.3,135.2 870.4,135.8 877.5,139.0 885.8,137.1 888.9,135.8 894.0,134.5 902.2,132.3 910.4,129.7 914.0,128.1 918.7,126.4 926.9,125.3 935.1,121.8 943.4,124.1 947.2,120.5 951.6,117.4 957.7,120.5 959.8,121.4 962.1,120.5 959.8,118.1 957.0,112.8 959.8,109.4 968.0,110.5 973.6,105.1 968.0,101.7 959.9,97.4 959.8,97.4 951.6,91.2 943.4,91.3 935.7,89.7 935.1,89.2 926.9,82.3 918.7,82.8 910.4,85.5 902.2,86.3 899.1,89.7 901.2,97.4 894.0,104.3 893.5,105.1 885.8,109.6 878.3,105.1 877.5,103.0 874.8,97.4 869.3,93.1 861.1,96.9 852.9,93.7 844.6,93.4 836.4,93.5 828.2,95.3 820.0,90.8 811.7,93.3 803.5,96.8 795.3,94.9 787.1,96.8 784.1,97.4 778.8,98.1 770.6,97.8 762.4,99.3 754.2,98.1 745.9,98.1 741.8,97.4 737.7,96.5 729.5,94.1 721.3,94.8 713.0,91.2 704.8,97.4 696.6,96.5 691.3,97.4 688.4,98.8 680.1,102.0 672.3,105.1 671.9,105.6 671.9,105.1 671.9,97.4 671.9,89.7 671.9,82.0 671.9,74.4 671.9,66.7 671.9,59.0 671.9,51.3 671.9,43.6 671.9,36.0 671.9,28.3ZM852.9,73.7 852.2,74.4 852.9,75.3 858.1,74.4ZM869.3,72.6 863.3,74.4 869.3,75.2 871.6,74.4ZM885.8,63.7 885.0,66.7 885.8,67.4 894.0,66.9 895.2,66.7 894.0,66.0ZM943.4,81.4 941.8,82.0 943.4,83.5 944.1,82.0ZM951.6,72.6 950.2,74.4 951.6,75.8 953.4,74.4ZM976.3,93.4 974.1,97.4 976.3,101.1 977.8,97.4ZM1083.2,73.9 1082.8,74.4 1083.2,74.7 1083.6,74.4ZM680.1,227.9 679.1,228.0 680.1,228.2 680.4,228.0ZM905.4,97.4 910.4,96.1 912.3,97.4 910.4,99.2ZM1106.3,404.6 1107.9,403.7 1116.1,403.3 1122.0,404.6 1124.3,405.6 1126.4,404.6 1132.5,402.5 1140.8,401.2 1149.0,401.9 1149.0,404.6 1149.0,412.3 1149.0,420.0 1149.0,421.8 1145.9,420.0 1140.8,418.0 1132.5,417.6 1124.3,417.6 1116.1,415.2 1107.9,417.0 1100.7,412.3Z"/>
<path fill="#62bcb2" fill-rule="evenodd" d="M671.9,20.6 680.1,20.6 688.4,20.6 696.6,20.6 704.8,20.6 713.0,20.6 721.3,20.6 729.5,20.6 737.7,20.6 745.9,20.6 754.2,20.6 762.4,20.6 770.6,20.6 778.8,20.6 787.1,20.6 795.3,20.6 803.5,20.6 811.7,20.6 820.0,20.6 828.2,20.6 836.4,20.6 843.7,20.6 844.6,22.6 850.4,28.3 846.0,36.0 844.6,39.0 840.4,36.0 836.4,33.9 833.5,36.0 836.3,43.6 836.4,43.8 844.6,49.2 846.1,51.3 852.9,55.1 857.4,59.0 852.9,62.9 844.6,60.9 836.4,65.5 828.2,66.1 827.4,66.7 820.0,69.7 811.7,72.0 806.5,74.4 803.5,78.5 795.3,76.4 791.1,74.4 787.1,71.7 780.4,74.4 778.9,82.0 778.8,82.1 778.7,82.0 778.1,74.4 770.6,68.4 762.4,69.6 756.6,66.7 754.2,64.8 753.0,66.7 745.9,73.6 743.9,74.4 737.7,76.4 731.7,74.4 729.5,73.3 727.4,74.4 723.0,82.0 721.3,83.7 713.0,82.3 704.8,84.9 696.6,88.3 695.8,89.7 688.4,91.3 680.6,97.4 680.1,97.6 679.6,97.4 675.8,89.7 671.9,88.8 671.9,82.0 671.9,74.4 671.9,66.7 671.9,59.0 671.9,51.3 671.9,43.6 671.9,36.0 671.9,28.3ZM1138.4,66.7 1140.8,65.4 1142.2,66.7 1140.8,68.7ZM1115.7,74.4 1116.1,73.1 1116.7,74.4 1124.3,77.5 1132.5,77.1 1140.8,78.6 1149.0,77.7 1149.0,82.0 1149.0,89.7 1149.0,97.4 1149.0,105.1 1149.0,112.8 1149.0,120.5 1149.0,128.1 1149.0,135.8 1149.0,143.5 1149.0,151.2 1149.0,158.9 1149.0,166.5 1149.0,174.2 1149.0,181.9 1149.0,189.6 1149.0,197.3 1149.0,204.9 1149.0,212.6 1149.0,220.3 1149.0,228.0 1149.0,235.7 1149.0,239.8 1140.8,237.1 1133.4,243.3 1132.5,244.0 1129.3,243.3 1124.3,242.1 1116.1,242.9 1107.9,240.3 1101.9,235.7 1099.6,234.0 1091.4,235.5 1091.3,235.7 1083.2,238.6 1078.3,235.7 1075.0,232.4 1066.7,231.7 1058.5,230.2 1050.3,228.6 1049.6,228.0 1042.1,221.8 1033.8,222.1 1027.6,220.3 1025.6,219.0 1017.4,218.7 1009.2,218.7 1000.9,216.0 992.7,215.5 984.5,213.5 976.3,215.1 968.0,212.9 967.0,212.6 959.8,209.0 951.6,209.9 943.4,210.3 936.5,212.6 935.1,213.0 926.9,213.2 925.5,212.6 918.7,211.2 916.2,212.6 910.4,214.8 904.7,212.6 902.2,211.1 894.0,208.4 885.8,210.3 877.5,211.5 869.3,211.9 861.1,208.9 852.9,211.7 844.6,212.0 836.4,210.4 830.2,212.6 828.2,213.5 820.0,213.2 816.2,212.6 811.7,210.8 810.5,212.6 803.5,217.2 795.3,216.1 787.1,214.4 778.8,214.4 770.6,218.1 762.4,217.6 754.2,215.8 746.1,220.3 745.9,220.4 737.7,221.1 735.4,220.3 729.5,216.8 721.3,217.1 713.0,215.6 704.8,217.3 696.6,217.5 692.4,220.3 688.4,223.6 680.1,222.7 671.9,220.7 671.9,220.3 671.9,212.6 671.9,204.9 671.9,197.3 671.9,189.6 671.9,181.9 671.9,174.2 671.9,166.5 671.9,158.9 671.9,151.2 671.9,143.5 671.9,138.8 679.4,143.5 680.1,143.8 688.4,144.2 696.6,146.5 704.8,146.9 713.0,145.6 721.3,146.0 729.5,148.2 737.7,149.2 745.9,147.5 754.2,147.1 762.4,147.7 769.7,151.2 770.6,151.7 772.5,151.2 778.8,149.6 787.1,148.1 795.3,149.3 803.5,147.4 811.7,147.3 820.0,147.5 828.2,148.3 836.4,147.3 844.6,147.5 852.9,147.0 861.1,147.3 869.3,145.5 877.5,144.8 885.8,145.4 892.3,143.5 894.0,142.9 902.2,139.4 910.4,142.6 917.5,135.8 918.7,135.1 926.3,135.8 926.9,135.9 927.0,135.8 935.1,131.0 943.4,132.4 951.6,129.9 957.6,128.1 959.8,127.8 968.0,124.7 976.3,122.4 984.5,124.5 988.6,120.5 990.2,112.8 989.3,105.1 992.7,101.7 998.8,105.1 1000.9,108.5 1009.2,105.9 1014.5,112.8 1017.4,113.9 1019.1,112.8 1025.6,106.3 1033.8,107.8 1039.1,105.1 1042.1,102.5 1050.3,102.8 1052.8,97.4 1057.2,89.7 1058.5,88.7 1066.7,85.4 1075.0,83.6 1083.2,84.1 1091.4,84.7 1099.6,83.2 1107.9,83.7 1110.3,82.0Z"/>
<path fill="#7dc887" fill-rule="evenodd" d="M671.9,20.6 680.1,20.6 688.4,20.6 696.6,20.6 704.8,20.6 713.0,20.6 721.3,20.6 729.5,20.6 737.7,20.6 745.9,20.6 754.2,20.6 762.4,20.6 770.6,20.6 776.1,20.6 778.8,22.5 784.7,20.6 787.1,20.6 787.9,20.6 787.1,21.8 783.7,28.3 785.1,36.0 785.9,43.6 787.1,47.4 789.2,51.3 788.4,59.0 787.1,59.7 785.1,59.0 778.8,55.5 770.6,52.8 762.4,55.5 754.2,51.8 753.3,51.3 745.9,49.1 737.7,46.3 732.9,51.3 729.5,54.0 723.7,59.0 721.4,66.7 721.3,66.7 713.0,68.6 706.6,74.4 704.8,75.9 699.5,74.4 696.6,68.0 688.4,74.3 680.1,72.9 677.3,74.4 671.9,78.3 671.9,74.4 671.9,66.7 671.9,59.0 671.9,51.3 671.9,43.6 671.9,36.0 671.9,28.3ZM713.0,56.7 712.0,59.0 713.0,62.1 716.4,59.0ZM729.5,43.3 727.9,43.6 729.5,45.2 731.5,43.6ZM1134.3,97.4 1140.8,93.0 1149.0,93.6 1149.0,97.4 1149.0,105.1 1149.0,112.8 1149.0,120.5 1149.0,128.1 1149.0,135.8 1149.0,143.5 1149.0,151.2 1149.0,158.9 1149.0,166.5 1149.0,174.2 1149.0,181.9 1149.0,189.6 1149.0,197.3 1149.0,204.9 1149.0,212.6 1149.0,220.3 1149.0,228.0 1149.0,233.5 1140.8,232.0 1134.9,228.0 1132.5,225.6 1124.3,222.2 1116.1,224.5 1107.9,222.9 1099.6,224.1 1095.6,220.3 1091.4,218.3 1083.2,217.4 1075.0,218.4 1066.7,217.6 1058.5,215.9 1050.3,217.1 1042.1,215.5 1033.8,213.3 1033.0,212.6 1025.6,209.5 1019.5,204.9 1017.4,203.9 1015.2,204.9 1009.2,209.6 1000.9,208.9 992.7,207.1 984.5,206.5 981.1,204.9 976.3,203.5 968.3,197.3 968.0,197.0 966.4,197.3 959.8,198.7 956.5,197.3 951.6,195.8 946.6,197.3 943.4,200.0 935.1,198.7 926.9,204.7 926.3,204.9 918.7,205.7 916.7,204.9 910.4,198.6 902.2,204.4 894.0,198.1 887.8,197.3 885.8,197.1 885.5,197.3 877.5,201.4 869.3,202.6 861.1,197.6 852.9,200.1 844.6,201.1 836.4,203.8 828.2,197.4 820.0,198.9 811.7,199.6 803.5,200.2 798.6,204.9 795.3,206.3 787.1,206.0 784.1,204.9 778.8,202.7 770.6,200.2 762.4,201.6 756.0,204.9 754.2,205.8 745.9,207.2 737.7,206.9 729.5,208.1 721.3,208.7 713.0,208.4 704.8,209.0 696.6,209.1 691.5,212.6 688.4,214.1 680.1,214.3 675.0,212.6 671.9,212.1 671.9,204.9 671.9,197.3 671.9,189.6 671.9,181.9 671.9,174.2 671.9,166.5 671.9,158.9 671.9,151.2 671.9,148.1 679.7,151.2 680.1,155.8 680.6,151.2 688.4,149.2 694.7,151.2 696.6,153.0 704.8,153.5 713.0,154.3 721.3,154.5 729.5,156.8 737.7,154.5 745.9,153.6 754.2,153.5 761.3,151.2 762.4,151.0 762.7,151.2 770.6,156.0 778.8,154.9 787.1,152.6 795.3,154.3 803.5,155.3 808.8,151.2 811.7,150.4 820.0,150.9 820.9,151.2 824.0,158.9 828.2,163.0 835.1,158.9 835.5,151.2 836.4,150.9 841.4,151.2 844.6,151.9 852.9,153.3 861.1,155.8 869.3,153.5 877.5,154.2 885.8,154.4 890.3,151.2 894.0,149.8 902.2,149.9 910.4,147.8 918.7,149.2 922.6,151.2 926.9,152.2 929.8,151.2 935.1,147.8 940.5,143.5 943.4,140.7 951.6,141.2 959.8,140.4 964.1,135.8 968.0,132.8 976.3,132.7 984.5,135.6 992.7,132.6 1000.9,134.5 1003.7,128.1 1009.2,125.1 1015.9,120.5 1017.4,119.7 1020.0,120.5 1025.6,126.7 1033.8,121.5 1042.1,125.3 1050.3,122.7 1056.9,120.5 1058.5,117.6 1062.5,112.8 1066.7,111.2 1075.0,112.0 1083.2,108.7 1089.2,105.1 1091.4,103.5 1096.0,105.1 1099.6,107.9 1107.9,105.7 1108.7,105.1 1116.1,103.1 1124.3,102.8 1132.5,99.1ZM778.8,165.7 777.9,166.5 778.8,166.9 779.7,166.5ZM795.3,197.0 794.9,197.3 795.3,198.5 796.7,197.3ZM1116.1,110.6 1114.4,112.8 1116.1,113.3 1117.8,112.8ZM926.6,143.5 926.9,143.3 927.3,143.5 926.9,144.3Z"/>
<path fill="#a8c350" fill-rule="evenodd" d="M675.6,20.6 680.1,20.6 688.4,20.6 696.6,20.6 704.8,20.6 713.0,20.6 721.2,20.6 721.3,20.6 728.7,28.3 729.5,29.4 732.2,36.0 729.5,37.5 727.0,36.0 721.3,31.6 713.0,35.1 704.8,32.9 699.1,36.0 696.6,37.8 690.3,43.6 688.4,49.2 687.0,51.3 680.7,59.0 680.1,59.5 679.6,59.0 671.9,54.8 671.9,51.3 671.9,43.6 671.9,36.0 671.9,28.3 671.9,23.8ZM671.9,66.7 671.9,66.5 672.1,66.7 671.9,66.8ZM1131.9,112.8 1132.5,112.1 1140.8,110.8 1143.5,112.8 1149.0,113.8 1149.0,120.5 1149.0,128.1 1149.0,135.8 1149.0,143.5 1149.0,151.2 1149.0,158.9 1149.0,166.5 1149.0,174.2 1149.0,181.9 1149.0,189.6 1149.0,197.3 1149.0,204.9 1149.0,212.6 1149.0,220.3 1149.0,226.0 1140.8,226.0 1135.6,220.3 1132.5,218.4 1124.3,215.6 1116.1,215.4 1109.2,212.6 1107.9,212.0 1106.6,212.6 1099.6,216.2 1092.3,212.6 1091.4,212.0 1083.2,210.2 1076.6,212.6 1075.0,213.1 1074.0,212.6 1066.7,209.2 1058.5,209.0 1052.8,204.9 1050.3,203.9 1042.1,203.9 1033.8,201.4 1025.6,203.2 1017.4,200.2 1009.2,202.6 1000.9,200.2 992.7,199.9 984.5,199.5 976.3,199.0 974.1,197.3 968.0,191.0 964.9,189.6 959.8,187.2 951.6,189.6 951.5,189.6 943.4,191.3 935.1,190.5 926.9,193.0 918.7,191.9 910.4,190.3 902.2,190.6 901.2,189.6 894.0,187.2 885.8,187.1 877.5,186.2 871.4,189.6 869.3,191.8 862.7,189.6 861.1,188.5 852.9,186.0 844.6,188.6 836.4,186.9 828.2,182.7 821.0,189.6 820.0,190.7 818.5,189.6 811.7,185.8 803.5,186.5 795.3,188.1 787.1,187.4 783.8,189.6 778.8,192.3 770.6,189.9 764.4,189.6 762.4,189.4 761.8,189.6 754.2,191.4 745.9,193.3 737.7,193.9 729.5,194.0 721.3,195.3 717.3,197.3 713.0,201.1 704.8,200.8 696.6,198.2 690.8,204.9 688.4,207.0 680.1,205.7 671.9,206.6 671.9,204.9 671.9,197.3 671.9,189.6 671.9,181.9 671.9,174.2 671.9,168.3 680.1,169.1 688.4,168.4 696.6,167.0 697.5,166.5 704.8,165.4 713.0,166.3 713.5,166.5 721.3,169.4 729.5,168.4 734.9,166.5 737.7,162.2 739.4,166.5 740.6,174.2 745.9,176.6 750.3,174.2 754.2,170.3 761.7,174.2 762.4,174.8 770.6,174.5 771.0,174.2 778.8,171.8 786.6,174.2 787.1,174.7 787.7,174.2 795.3,171.3 803.5,173.7 804.8,174.2 811.7,176.0 817.2,174.2 820.0,172.5 822.5,174.2 828.2,179.5 831.5,174.2 836.4,169.4 844.6,168.8 852.9,168.6 861.1,167.1 869.3,168.2 877.5,172.5 885.8,171.6 894.0,174.2 902.2,170.5 910.5,169.8 911.2,166.5 918.7,160.6 921.2,158.9 926.9,156.5 935.1,156.8 943.4,155.3 951.6,153.0 959.8,153.2 968.0,152.9 970.4,151.2 976.3,146.5 984.5,146.5 992.7,146.6 1000.9,146.4 1009.2,146.3 1011.2,143.5 1017.4,140.3 1025.6,140.2 1033.8,141.1 1042.1,138.2 1045.0,135.8 1050.3,129.8 1058.5,131.4 1066.1,128.1 1066.7,127.8 1075.0,126.8 1083.2,126.3 1091.4,125.8 1099.6,125.8 1107.9,123.7 1111.6,120.5 1116.1,117.9 1124.3,118.6ZM793.0,158.9 795.3,158.5 796.4,158.9 795.3,159.9ZM896.2,158.9 902.2,157.6 910.2,158.9 902.2,161.2Z"/>
<path fill="#e8b63e" fill-rule="evenodd" d="M712.8,28.3 713.0,28.2 713.1,28.3 713.0,28.3ZM1148.7,120.5 1149.0,120.3 1149.0,120.5 1149.0,128.1 1149.0,135.8 1149.0,143.5 1149.0,151.2 1149.0,158.9 1149.0,166.5 1149.0,174.2 1149.0,181.9 1149.0,189.6 1149.0,197.3 1149.0,204.9 1149.0,212.6 1149.0,220.3 1149.0,220.9 1147.8,220.3 1140.8,212.8 1140.4,212.6 1132.5,208.3 1124.3,206.7 1116.1,207.2 1107.9,206.5 1105.0,204.9 1099.6,200.7 1091.4,204.1 1083.2,203.7 1075.0,198.7 1066.7,199.5 1060.2,197.3 1058.5,190.0 1056.7,197.3 1050.3,197.4 1049.9,197.3 1042.1,192.4 1033.8,195.1 1025.6,193.7 1020.0,189.6 1017.4,186.9 1013.5,189.6 1009.2,191.5 1004.1,189.6 1000.9,188.8 997.6,189.6 992.7,190.9 991.6,189.6 992.7,184.6 993.4,181.9 1000.9,175.7 1002.9,174.2 1000.9,172.5 995.6,166.5 992.7,159.2 991.6,158.9 992.7,158.6 994.5,158.9 1000.9,159.4 1001.9,158.9 1009.2,156.3 1015.7,151.2 1017.4,149.0 1018.9,151.2 1025.6,156.6 1033.8,152.4 1038.0,151.2 1042.1,149.0 1050.3,149.9 1058.5,146.0 1066.7,144.9 1067.8,143.5 1075.0,140.0 1080.1,143.5 1083.2,145.2 1086.4,143.5 1091.4,139.9 1099.6,139.3 1104.4,135.8 1107.9,131.8 1113.1,128.1 1116.1,125.8 1124.3,123.5 1132.5,124.9 1140.8,124.9ZM1009.2,165.7 1008.6,166.5 1009.2,167.1 1010.5,166.5ZM893.0,181.9 894.0,181.2 895.7,181.9 894.0,182.4ZM671.9,197.3 671.9,195.0 672.4,197.3 671.9,197.8Z"/>
<path fill="#f0d23c" fill-rule="evenodd" d="M1122.4,128.1 1124.3,127.2 1126.8,128.1 1124.3,131.4ZM1127.7,143.5 1132.5,141.3 1140.8,139.3 1149.0,142.7 1149.0,143.5 1149.0,151.2 1149.0,158.9 1149.0,166.5 1149.0,174.2 1149.0,181.9 1149.0,189.6 1149.0,197.3 1149.0,204.0 1148.0,204.9 1140.8,208.4 1136.5,204.9 1132.5,197.3 1131.9,197.3 1124.3,196.2 1122.6,197.3 1116.1,199.6 1107.9,199.9 1104.6,197.3 1099.6,192.0 1091.7,197.3 1091.4,197.4 1090.9,197.3 1089.9,189.6 1083.2,186.0 1075.0,186.4 1068.1,189.6 1066.7,190.2 1066.1,189.6 1066.7,186.9 1068.4,181.9 1066.7,179.4 1062.7,181.9 1058.5,183.0 1055.6,181.9 1054.5,174.2 1058.5,170.7 1060.1,166.5 1058.5,160.8 1058.0,158.9 1058.5,158.3 1066.7,158.1 1073.2,158.9 1073.3,166.5 1075.0,168.2 1077.0,166.5 1076.3,158.9 1080.0,151.2 1083.2,149.6 1089.1,151.2 1091.4,153.0 1098.1,151.2 1099.6,150.6 1102.0,151.2 1107.9,151.8 1110.7,151.2 1116.1,148.0 1124.3,144.9ZM1031.3,158.9 1033.8,157.4 1036.7,158.9 1033.8,161.5Z"/>
<path fill="#faf53c" fill-rule="evenodd" d="M1121.2,158.9 1124.3,156.7 1132.5,155.5 1140.8,157.1 1141.9,158.9 1140.8,163.9 1139.3,166.5 1140.8,168.1 1149.0,169.4 1149.0,174.2 1149.0,181.9 1149.0,189.6 1149.0,194.1 1140.8,193.6 1136.9,189.6 1132.5,183.6 1124.3,182.7 1123.5,181.9 1116.1,175.5 1114.8,174.2 1116.1,172.0 1117.6,166.5Z"/>
<path fill="none" stroke="#111" stroke-width="1.30" stroke-linejoin="round" d="M1025.6,20.6 1033.8,23.0 1042.1,26.0 1049.7,28.3 1050.3,28.5 1051.3,28.3 1058.5,26.8 1066.7,24.4 1074.4,28.3 1075.0,28.7 1075.7,28.3 1083.2,23.4 1091.4,28.2 1099.6,27.0 1107.9,25.3 1116.1,22.2 1117.7,20.6M762.4,112.7 762.2,112.8 757.7,120.5 762.4,121.2 763.1,120.5 762.7,112.8ZM916.4,258.7 918.7,257.3 920.9,258.7 918.7,259.8ZM968.0,257.8 965.7,258.7 968.0,259.7 976.3,260.7 977.3,258.7 976.3,257.4ZM817.2,281.8 820.0,280.8 821.0,281.8 820.0,283.9ZM992.7,287.0 990.9,289.4 992.7,290.8 994.5,289.4ZM671.9,291.7 680.1,294.7 688.3,297.1 688.0,304.8 688.4,305.1 696.6,307.8 704.8,305.3 713.0,307.6 719.4,304.8 721.3,302.8 729.5,302.8 737.7,299.6 745.9,299.9 751.3,297.1 754.2,296.5 756.0,297.1 754.2,303.9 753.8,304.8 754.2,304.9 762.4,310.1 769.6,304.8 770.6,304.4 778.8,301.9 787.1,300.0 791.4,297.1 795.3,292.9 800.1,289.4 799.8,281.8 803.5,278.7 809.1,281.8 806.4,289.4 811.7,292.5 820.0,291.0 828.2,289.6 829.1,289.4 836.4,287.8 844.6,286.8 852.5,281.8 852.9,281.5 853.2,281.8 861.1,284.1 869.3,281.8 869.4,281.8 877.5,276.4 884.8,274.1 885.8,273.9 887.0,274.1 894.0,276.8 900.0,281.8 902.2,283.3 910.4,285.9 918.7,284.4 926.9,282.1 927.5,281.8 933.7,274.1 935.1,272.5 943.4,270.5 951.6,270.8 955.3,266.4 957.5,258.7 951.6,257.2 943.8,251.0 943.4,249.3 935.1,249.2 926.9,246.8 918.7,244.7 910.4,243.7 908.3,243.3 902.2,243.0 898.2,243.3 894.0,244.1 892.8,243.3 885.8,239.2 877.5,242.3 876.4,243.3 869.3,246.5 862.1,243.3 861.1,242.0 852.9,241.0 849.7,243.3 844.6,245.1 838.7,251.0 836.4,255.0 833.2,251.0 833.1,243.3 828.2,241.4 825.4,243.3 823.1,251.0 820.0,253.7 812.0,258.7 811.7,259.0 809.8,258.7 803.5,256.1 801.5,258.7 795.3,261.1 791.0,258.7 787.1,257.9 784.4,258.7 778.8,264.0 775.2,266.4 770.6,268.6 762.4,270.2 754.2,268.1 745.9,272.2 741.7,274.1 737.7,275.5 730.7,274.1 729.5,273.5 728.9,274.1 721.3,276.9 714.6,281.8 713.0,285.4 711.8,281.8 704.8,274.8 696.6,278.1 688.4,279.3 681.1,281.8 680.1,282.6 679.1,281.8 671.9,279.9M803.5,301.5 800.4,304.8 803.5,308.5 808.7,304.8ZM852.9,320.1 852.8,320.2 852.9,320.2 853.2,320.2ZM910.4,325.5 908.4,327.8 902.2,334.1 898.1,335.5 894.0,339.4 885.8,335.7 878.6,343.2 885.8,346.7 894.0,344.4 902.2,350.9 902.2,350.9 902.5,350.9 910.4,348.7 918.7,350.3 920.1,350.9 926.9,354.1 935.1,354.2 941.7,350.9 943.4,349.6 945.3,350.9 951.6,357.0 959.8,353.6 968.0,352.4 975.0,350.9 976.3,349.7 984.5,350.8 992.6,343.2 992.7,343.1 999.9,335.5 992.7,331.5 984.5,331.0 976.3,329.9 968.0,328.4 959.8,332.6 951.6,331.6 943.4,329.7 935.1,328.5 932.9,327.8 926.9,325.5 922.2,327.8 918.7,329.0 915.6,327.8ZM704.2,335.5 704.8,335.3 705.2,335.5 704.8,335.9ZM711.3,343.2 713.0,341.6 714.3,343.2 713.0,344.6ZM671.9,350.8 672.0,350.9 671.9,351.0M861.1,350.8 860.9,350.9 861.1,351.0 861.2,350.9ZM795.3,357.9 793.8,358.6 795.3,359.1 797.5,358.6ZM671.9,363.6 680.1,364.4 688.4,363.1 696.6,364.0 704.8,360.9 713.0,363.2 721.3,364.8 729.5,359.7 730.9,358.6 729.5,355.0 726.5,350.9 729.5,349.1 737.7,345.1 745.9,349.9 754.2,346.2 762.4,345.5 770.6,345.9 778.8,346.7 783.3,343.2 780.0,335.5 778.8,335.0 770.6,331.6 763.7,335.5 762.4,338.3 760.9,335.5 762.4,330.7 763.3,327.8 762.4,325.5 754.2,326.5 749.7,327.8 745.9,328.6 744.4,327.8 737.7,325.2 729.5,324.0 721.3,323.2 713.0,323.7 706.3,320.2 704.8,319.5 699.2,320.2 696.6,320.7 695.8,320.2 688.4,317.4 680.1,319.2 678.5,320.2 671.9,323.4M1009.2,380.9 1008.1,381.6 1009.2,383.6 1011.9,389.3 1017.4,391.8 1025.1,389.3 1020.0,381.6 1017.4,380.9ZM1042.1,381.2 1040.9,381.6 1033.8,387.2 1026.8,389.3 1033.8,390.7 1042.1,392.0 1050.3,390.3 1058.5,389.4 1059.0,389.3 1058.5,389.2 1050.3,388.0 1042.9,381.6ZM729.5,400.4 726.8,404.6 729.5,407.6 731.0,404.6ZM795.3,404.0 793.9,404.6 788.1,412.3 795.3,414.2 803.5,415.8 811.7,415.4 817.2,412.3 820.0,410.2 828.2,412.2 828.4,412.3 836.4,414.0 844.6,414.1 846.8,412.3 844.6,410.5 839.1,404.6 836.4,403.5 828.2,402.4 820.0,401.9 811.7,401.3 803.5,401.7ZM787.1,416.8 786.2,420.0 787.1,420.5 787.3,420.0ZM671.9,430.6 680.1,429.3 688.4,430.6 696.6,429.4 699.6,427.7 704.8,425.1 713.0,427.0 721.3,423.3 726.8,420.0 721.3,414.7 719.6,412.3 713.0,409.3 704.8,410.2 696.6,408.1 690.5,404.6 688.4,401.4 687.3,404.6 680.1,410.3 671.9,408.6M943.4,433.2 940.7,435.4 943.4,441.0 950.6,435.4ZM1149.0,440.3 1140.8,440.9 1135.0,443.1 1132.5,444.2 1130.4,443.1 1124.3,441.1 1116.1,442.2 1107.9,440.7 1099.6,438.3 1091.4,440.6 1083.2,438.9 1077.0,435.4 1075.0,434.4 1066.7,433.9 1058.5,435.2 1050.3,433.9 1042.1,431.9 1033.8,434.8 1025.6,432.9 1017.4,433.7 1009.2,429.2 1000.9,429.6 992.7,432.3 984.5,430.1 976.3,427.9 968.0,428.7 959.8,434.6 954.1,435.4 959.8,438.1 962.3,443.1 968.0,445.7 976.3,444.8 984.5,444.9 988.8,443.1 992.7,441.1 1000.9,441.5 1004.7,443.1 1005.2,450.7 1000.9,454.2 997.0,458.4 1000.9,461.9 1009.2,465.0 1017.4,459.1 1025.6,463.0 1030.3,458.4 1025.6,454.8 1017.4,452.5 1017.0,450.7 1012.8,443.1 1017.4,438.2 1020.6,443.1 1025.6,447.3 1031.3,450.7 1033.8,453.9 1038.6,450.7 1042.1,448.8 1050.3,449.5 1058.5,448.3 1066.7,449.0 1075.0,448.7 1083.2,449.7 1091.4,446.7 1099.6,448.3 1107.9,446.3 1114.2,450.7 1113.6,458.4 1116.1,460.9 1122.2,466.1 1124.3,467.0 1132.5,468.7 1140.7,473.8 1140.8,475.3 1140.9,473.8 1149.0,467.9M671.9,454.7 680.1,455.7 688.4,453.5 696.6,456.4 698.8,458.4 696.6,461.3 688.4,460.8 680.1,460.4 671.9,462.2M671.9,474.5 680.1,474.6 687.5,473.8 688.4,473.7 688.6,473.8 696.6,476.8 704.8,477.7 710.0,473.8 713.0,471.3 721.3,470.2 727.2,473.8 729.5,475.5 737.7,474.2 738.0,473.8 745.9,467.8 754.2,468.0 758.1,466.1 762.4,462.5 769.1,458.4 770.6,457.7 771.6,458.4 778.8,461.7 782.2,458.4 787.1,455.9 795.3,455.6 803.5,454.0 809.4,458.4 811.7,460.0 820.0,460.1 827.8,458.4 828.2,458.0 828.5,458.4 836.4,460.9 844.6,458.9 852.9,461.2 861.1,460.1 869.3,461.2 877.5,460.4 882.7,458.4 885.8,454.3 889.9,458.4 894.0,459.9 902.2,461.2 910.4,458.4 918.7,461.0 926.9,458.6 935.1,459.1 937.5,458.4 935.1,457.4 926.9,457.7 918.7,451.5 917.0,450.7 910.4,448.6 902.2,444.8 895.1,443.1 894.0,442.3 885.8,440.3 885.2,443.1 877.5,447.9 869.7,443.1 869.3,442.9 861.1,442.7 858.0,443.1 852.9,445.5 851.6,443.1 844.6,437.7 840.1,443.1 836.4,445.8 828.2,446.2 825.0,443.1 820.0,438.2 811.7,439.4 803.5,438.2 795.3,439.2 787.1,437.9 778.8,437.3 770.6,438.3 762.4,436.0 754.2,437.6 745.9,438.6 737.7,436.0 729.5,441.6 721.3,442.2 713.0,438.0 704.8,442.9 704.7,443.1 696.6,446.9 691.1,443.1 688.4,439.7 686.3,443.1 680.1,448.0 671.9,446.6M1149.0,480.3 1142.9,481.5 1140.8,481.9 1132.5,487.0 1126.8,489.1 1124.3,495.5 1123.9,489.1 1116.1,484.0 1107.9,486.7 1099.6,485.1 1091.4,485.2 1083.2,483.9 1076.3,481.5 1075.0,481.2 1073.4,481.5 1066.7,484.0 1062.0,481.5 1058.5,480.8 1050.9,481.5 1050.3,481.7 1050.0,481.5 1042.1,479.1 1033.8,480.7 1032.0,481.5 1029.4,489.1 1025.6,489.8 1017.4,490.8 1009.2,493.7 1000.9,494.1 992.7,495.8 984.5,495.3 976.3,494.3 968.0,492.5 959.8,496.1 951.6,492.7 943.4,495.7 935.2,489.1 935.1,488.8 926.9,485.4 918.7,487.3 910.4,486.1 902.2,485.8 894.0,486.4 887.4,489.1 885.8,490.1 877.5,491.9 869.3,492.9 864.3,489.1 861.1,484.7 855.2,489.1 852.9,490.9 851.4,489.1 844.6,483.4 836.4,482.6 828.2,487.0 820.0,483.5 811.7,483.0 803.5,485.6 795.3,484.1 787.1,484.2 782.5,481.5 778.8,479.8 775.4,481.5 770.6,484.5 763.8,481.5 762.4,480.7 761.9,481.5 754.7,489.1 754.2,489.4 745.9,493.4 737.7,492.7 732.9,489.1 729.5,487.1 721.3,483.4 713.0,487.8 704.8,488.1 696.6,486.9 691.8,489.1 688.4,491.0 685.8,489.1 680.1,487.0 671.9,483.7M809.3,496.8 811.7,494.6 814.5,496.8 811.7,499.5ZM678.6,504.5 680.1,501.4 683.0,504.5M998.3,20.6 997.3,28.3 1000.9,29.0 1009.2,30.2 1017.4,32.0 1025.6,34.5 1033.8,28.6 1038.5,36.0 1042.1,40.4 1050.0,36.0 1050.3,35.9 1058.5,33.2 1062.8,36.0 1066.7,38.8 1075.0,41.5 1083.2,36.6 1091.4,40.1 1099.6,38.8 1103.8,36.0 1107.9,34.9 1114.1,36.0 1116.1,38.2 1120.9,36.0 1124.3,32.4 1126.5,36.0 1132.5,37.0 1134.4,36.0 1139.9,28.3 1140.8,26.9 1141.8,28.3 1149.0,33.4M1134.0,20.6 1132.5,21.4 1131.5,20.6M992.7,34.5 991.8,36.0 992.7,36.2 993.0,36.0ZM795.3,104.1 793.1,105.1 787.1,110.7 780.8,112.8 778.8,113.8 777.6,112.8 770.6,108.2 762.4,109.2 754.5,112.8 754.2,113.1 745.9,113.4 744.3,112.8 737.7,112.2 734.2,112.8 731.6,120.5 736.6,128.1 737.7,128.3 739.6,128.1 745.9,126.5 749.3,128.1 754.2,129.8 762.4,130.7 770.6,130.5 778.8,131.1 787.1,129.1 795.3,128.3 803.5,129.6 806.9,128.1 811.7,124.0 814.9,128.1 820.0,130.9 828.2,128.6 829.5,128.1 836.4,125.2 844.3,120.5 844.6,119.9 852.9,118.8 857.1,112.8 852.9,111.6 844.6,109.4 836.4,110.7 828.8,105.1 828.2,104.9 823.2,105.1 820.0,105.3 818.9,105.1 811.7,104.2 804.9,105.1 803.5,105.6 802.4,105.1ZM721.3,112.5 720.2,112.8 721.3,113.6 722.8,112.8ZM869.3,112.3 866.0,112.8 869.3,115.5 870.7,112.8ZM984.5,235.3 983.9,235.7 984.5,236.8 985.5,235.7ZM785.6,251.0 787.1,248.2 789.1,251.0 787.1,251.8ZM1083.2,274.0 1083.1,274.1 1083.2,274.5 1083.3,274.1ZM859.8,289.4 861.1,288.9 863.0,289.4 861.1,291.0ZM959.7,304.8 959.8,304.6 960.1,304.8 959.8,305.2ZM702.8,312.5 704.8,311.7 706.1,312.5 704.8,313.2ZM817.5,320.2 820.0,318.1 821.3,320.2 822.1,327.8 820.0,330.1 817.9,327.8ZM1075.0,325.2 1068.6,327.8 1075.0,329.5 1075.9,327.8ZM819.4,343.2 820.0,342.5 825.2,343.2 820.0,343.7ZM1091.4,349.7 1090.0,350.9 1091.4,352.7 1094.1,350.9ZM948.4,373.9 951.6,372.3 953.9,373.9 951.6,380.7ZM1099.6,373.9 1099.6,373.9 1099.6,373.9 1099.7,373.9ZM1149.0,373.5 1148.5,373.9 1149.0,374.1M918.7,380.9 917.4,381.6 916.4,389.3 918.7,390.4 920.5,389.3 920.5,381.6ZM935.1,378.9 930.8,381.6 935.1,388.4 941.9,381.6ZM671.9,384.4 680.1,384.2 688.4,385.7 696.6,384.8 704.8,387.1 713.0,384.2 718.8,381.6 721.3,379.6 727.2,373.9 729.5,371.8 732.3,373.9 732.7,381.6 733.1,389.3 729.5,390.9 722.3,397.0 721.3,398.2 719.8,397.0 713.0,393.2 704.8,393.1 696.6,392.8 688.4,392.2 680.1,393.8 671.9,392.5M877.5,388.9 877.1,389.3 877.5,390.0 885.8,390.0 886.5,389.3 885.8,388.2ZM678.2,404.6 680.1,402.5 681.2,404.6 680.1,405.5ZM935.1,403.5 934.1,404.6 935.1,407.4 935.9,404.6ZM753.4,412.3 754.2,411.9 755.6,412.3 754.2,412.6ZM809.8,427.7 811.7,425.7 817.8,427.7 811.7,429.2ZM677.1,435.4 680.1,434.5 682.0,435.4 680.1,440.2ZM1149.0,436.8 1140.8,435.5 1140.4,435.4 1132.5,433.1 1128.4,435.4 1124.3,436.9 1116.1,435.6 1114.9,435.4 1107.9,433.7 1099.6,431.4 1091.4,429.9 1083.2,432.4 1075.0,429.2 1066.7,428.6 1061.8,427.7 1058.5,427.0 1050.3,425.0 1042.1,424.8 1035.9,427.7 1033.8,428.8 1030.5,427.7 1025.6,423.9 1017.4,425.0 1009.2,423.0 1000.9,422.1 993.3,427.7 992.7,427.9 992.2,427.7 984.5,421.1 976.3,423.1 968.0,422.0 959.8,421.6 951.6,422.2 943.4,425.7 935.1,423.6 928.0,427.7 926.9,428.4 925.0,427.7 918.7,424.2 910.4,422.0 902.2,425.5 894.0,424.3 885.8,421.0 883.8,420.0 879.0,412.3 877.5,410.0 875.7,412.3 869.3,417.2 865.0,412.3 869.3,406.2 871.6,404.6 872.6,397.0 869.3,395.0 861.1,396.3 852.9,391.0 847.9,397.0 844.6,399.5 840.7,397.0 836.4,392.6 830.2,389.3 828.2,388.3 820.0,384.9 814.1,389.3 811.7,390.6 803.5,393.6 795.3,392.9 787.1,391.0 778.8,391.7 770.6,389.8 770.2,389.3 762.4,383.6 754.2,389.3 754.2,389.4 745.9,392.1 740.8,389.3 741.2,381.6 745.9,377.2 749.4,373.9 754.2,370.6 760.2,373.9 762.4,376.6 770.6,374.5 778.8,376.2 780.4,373.9 783.2,366.2 787.1,364.7 792.9,366.2 795.3,367.2 797.9,366.2 803.5,365.0 811.7,362.0 815.7,358.6 820.0,356.5 822.3,358.6 820.0,362.8 816.6,366.2 820.0,369.1 828.2,369.1 836.4,370.6 840.4,366.2 844.6,362.6 852.9,363.5 861.1,365.9 861.8,366.2 869.3,370.2 875.4,366.2 877.5,365.4 885.8,362.9 894.0,364.4 902.2,362.4 910.4,363.3 915.8,366.2 918.7,367.6 923.9,366.2 926.9,364.7 935.1,364.7 936.3,366.2 941.1,373.9 943.4,379.8 949.8,381.6 951.6,382.4 959.8,381.9 968.0,388.3 968.6,389.3 974.0,397.0 976.3,398.1 984.5,397.7 986.8,397.0 992.7,394.9 1000.9,395.8 1003.9,397.0 1009.2,398.6 1017.4,399.6 1025.6,398.7 1033.8,399.1 1042.1,397.3 1050.3,398.2 1058.5,397.1 1066.7,398.9 1075.0,397.3 1075.6,397.0 1079.7,389.3 1083.2,385.6 1087.0,381.6 1083.2,376.6 1077.0,373.9 1075.0,373.2 1066.7,369.1 1058.5,371.5 1050.3,370.2 1044.4,373.9 1042.1,375.2 1039.1,373.9 1033.8,371.1 1025.6,370.0 1017.4,370.7 1009.2,369.0 1000.9,370.0 992.7,373.7 984.5,369.5 976.3,369.6 968.0,369.5 964.4,366.2 968.0,364.7 976.3,364.3 984.5,363.7 992.7,361.8 1000.9,364.3 1009.2,361.4 1017.4,360.7 1025.6,359.3 1027.3,358.6 1033.8,354.8 1040.1,350.9 1042.1,349.8 1049.7,343.2 1050.3,342.8 1054.4,335.5 1054.6,327.8 1050.3,325.2 1042.1,326.7 1033.8,326.1 1025.6,326.9 1017.4,324.3 1009.2,323.1 1000.9,323.4 998.0,320.2 995.3,312.5 992.7,308.9 989.6,304.8 988.8,297.1 992.7,296.4 1000.9,291.3 1003.6,289.4 1009.2,286.4 1017.4,285.8 1025.6,285.2 1033.5,289.4 1033.8,289.5 1034.0,289.4 1038.4,281.8 1042.1,277.5 1050.3,281.7 1058.5,278.0 1066.7,275.2 1067.3,274.1 1066.7,272.2 1058.5,270.9 1050.3,270.9 1042.1,268.3 1033.8,269.3 1025.6,269.0 1023.4,266.4 1018.1,258.7 1017.4,252.8 1016.7,251.0 1009.2,250.1 1001.5,251.0 1000.9,251.2 1000.4,251.0 992.7,244.9 984.5,247.0 976.3,246.4 970.7,243.3 968.0,240.2 959.8,242.4 951.6,238.8 943.4,237.8 938.0,235.7 935.1,232.3 926.9,234.4 918.7,232.7 910.4,233.3 902.4,235.7 902.2,235.7 894.0,235.8 893.8,235.7 885.8,230.1 877.5,233.6 869.3,231.7 861.1,233.1 852.9,231.9 844.6,231.4 836.4,233.5 828.2,235.4 820.0,233.8 817.2,235.7 811.7,243.1 811.3,243.3 803.5,245.1 797.7,243.3 795.3,241.4 787.1,241.3 784.9,243.3 778.8,247.3 771.8,251.0 770.6,252.8 768.1,251.0 762.4,243.6 759.3,251.0 754.2,257.9 745.9,256.2 740.2,258.7 737.7,259.5 736.1,258.7 729.5,253.7 721.3,256.8 713.0,258.5 704.8,258.5 696.6,256.8 692.9,258.7 688.4,265.8 680.1,265.9 679.5,266.4 671.9,273.2M793.6,466.1 795.3,465.0 800.9,466.1 803.5,468.0 811.7,467.1 814.1,466.1 820.0,464.9 824.4,466.1 828.2,468.0 833.0,466.1 836.4,465.4 842.1,466.1 844.6,466.9 851.8,473.8 844.6,477.0 836.4,475.2 828.2,478.3 820.0,476.8 811.7,477.2 803.5,475.7 795.3,476.3 787.1,474.8 784.9,473.8 787.1,472.4ZM861.0,466.1 861.1,466.1 861.2,466.1 864.1,473.8 861.1,476.1 854.7,473.8ZM898.7,466.1 902.2,465.2 910.4,464.3 918.7,465.4 926.9,464.3 935.1,465.0 940.7,466.1 943.4,467.0 951.6,467.5 953.9,466.1 959.8,463.9 968.0,463.3 972.6,466.1 968.0,473.4 967.8,473.8 959.8,479.6 951.6,478.2 943.4,479.1 935.1,477.5 926.9,479.3 920.5,481.5 918.7,482.1 916.6,481.5 910.4,478.4 902.2,479.6 894.0,477.8 885.8,479.3 877.5,473.9 877.4,473.8 877.5,473.3 885.8,470.2 894.0,469.4ZM982.0,466.1 984.5,464.9 992.7,465.8 993.1,466.1 992.7,467.7 984.5,467.9ZM1035.0,466.1 1042.1,461.1 1045.4,466.1 1050.3,470.4 1055.6,466.1 1058.5,463.6 1066.7,463.1 1075.0,463.4 1083.2,465.9 1091.4,465.5 1092.1,466.1 1099.6,469.9 1107.9,470.4 1116.1,472.0 1124.3,472.3 1129.3,473.8 1124.3,476.2 1116.1,475.0 1107.9,475.4 1099.6,477.2 1091.4,476.9 1083.2,478.9 1075.0,477.8 1066.7,478.3 1058.5,477.5 1050.3,476.0 1043.4,473.8 1042.1,472.4 1040.2,473.8 1033.8,475.2 1028.8,473.8 1033.8,467.5ZM973.1,481.5 976.3,478.8 984.4,481.5 976.3,488.4ZM936.4,20.6 935.7,28.3 935.1,29.3 930.5,36.0 935.1,40.8 943.4,39.8 951.6,36.8 959.8,42.6 964.6,43.6 968.0,45.0 976.3,46.3 982.1,43.6 984.5,42.6 992.7,43.2 999.8,43.6 1000.9,43.8 1009.2,49.0 1017.4,50.8 1018.6,51.3 1025.6,52.2 1033.8,57.4 1042.1,52.8 1050.3,56.6 1058.5,53.6 1066.7,51.6 1067.1,51.3 1075.0,49.4 1083.2,47.4 1091.4,48.4 1095.7,51.3 1099.6,54.6 1102.8,51.3 1107.9,47.4 1116.1,47.5 1124.3,47.2 1132.5,49.6 1140.8,49.8 1149.0,45.6M1000.6,36.0 1000.9,35.7 1001.5,36.0 1000.9,42.0ZM1033.8,73.4 1032.4,74.4 1033.8,75.1 1035.1,74.4ZM745.9,104.3 743.9,105.1 737.7,107.2 729.5,108.1 721.3,105.5 713.0,107.3 704.8,110.5 696.6,109.6 693.0,112.8 696.6,118.2 701.6,120.5 704.8,123.4 710.5,128.1 713.0,128.7 721.3,129.6 729.5,134.8 737.7,135.8 737.7,135.8 745.9,137.6 754.2,138.1 762.4,137.4 770.6,137.1 778.8,138.4 787.1,137.3 795.3,137.3 803.4,135.8 803.5,135.8 803.6,135.8 811.7,138.6 819.9,135.8 820.0,135.8 828.2,133.5 836.4,131.6 844.6,135.0 852.9,134.2 860.0,128.1 861.1,127.0 867.6,128.1 869.3,128.4 877.5,132.5 883.8,128.1 885.8,126.6 889.2,128.1 894.0,129.2 899.9,128.1 902.2,127.1 908.1,120.5 902.2,115.3 894.0,118.5 885.8,116.0 881.7,112.8 877.5,110.4 869.3,108.0 861.1,108.8 852.9,105.5 851.5,105.1 844.6,102.2 836.4,101.9 828.2,100.8 820.0,99.1 811.7,99.3 803.5,101.2 795.3,99.8 787.1,103.1 778.8,103.3 770.6,102.1 764.1,105.1 762.4,105.7 760.2,105.1 754.2,102.7ZM926.9,102.9 924.0,105.1 926.9,107.3 927.9,105.1ZM935.1,111.6 932.2,112.8 935.1,113.8 936.4,112.8ZM680.1,119.4 679.1,120.5 680.1,121.0 682.0,120.5ZM696.6,242.9 695.8,243.3 696.6,247.9 698.0,243.3ZM1122.0,274.1 1124.3,273.9 1124.9,274.1 1125.6,281.8 1124.3,283.0 1122.8,281.8ZM1149.0,269.0 1143.5,274.1 1140.8,276.6 1137.4,274.1 1135.5,266.4 1132.5,264.7 1124.3,259.8 1116.1,261.9 1107.9,260.5 1099.6,261.5 1091.4,258.8 1090.2,258.7 1083.2,258.0 1075.0,254.8 1066.7,257.2 1060.9,251.0 1058.5,248.8 1050.3,247.8 1042.1,250.3 1033.8,248.7 1026.4,243.3 1025.6,238.9 1023.9,243.3 1017.4,244.5 1009.2,244.0 1007.6,243.3 1009.2,240.7 1011.6,235.7 1009.2,233.9 1004.5,235.7 1000.9,237.6 998.9,235.7 992.7,232.9 984.5,230.7 976.3,234.0 971.0,228.0 968.0,226.2 959.8,225.9 951.6,225.8 943.4,226.9 935.1,224.2 926.9,227.7 919.4,228.0 918.7,228.0 918.6,228.0 910.4,224.6 902.2,226.4 894.0,227.3 885.8,221.5 881.4,220.3 877.5,219.8 869.3,219.6 867.7,220.3 861.4,228.0 861.1,228.1 860.5,228.0 852.9,225.4 844.6,225.3 836.4,223.3 828.2,224.9 820.0,225.1 811.7,225.0 804.9,228.0 803.5,228.8 795.3,231.4 787.1,231.5 778.8,232.8 773.1,235.7 770.6,238.1 767.1,235.7 762.4,234.0 756.0,235.7 754.2,240.9 745.9,238.6 737.7,238.6 732.7,235.7 729.5,234.7 725.9,235.7 721.3,238.3 718.8,243.3 721.3,250.8 721.4,251.0 721.3,251.1 713.0,251.0 713.0,251.0 704.8,247.6 697.8,251.0 696.6,251.4 688.4,253.3 680.1,255.2 671.9,256.2M1106.1,289.4 1107.9,286.8 1109.6,289.4 1107.9,292.3ZM1033.5,297.1 1033.8,297.0 1034.2,297.1 1033.8,297.3ZM1024.4,304.8 1025.6,303.7 1026.2,304.8 1025.6,305.5ZM1057.8,320.2 1058.5,318.8 1059.3,320.2 1058.5,320.6ZM1083.1,327.8 1083.2,327.6 1084.2,327.8 1083.2,328.6ZM1149.0,343.0 1149.0,343.2 1149.0,343.2M1056.7,350.9 1058.5,350.2 1059.9,350.9 1058.5,351.7ZM1149.0,360.6 1140.8,366.2 1140.7,366.2 1132.5,370.1 1125.5,366.2 1124.3,365.0 1116.1,361.3 1107.9,360.5 1107.1,358.6 1107.0,350.9 1107.9,350.3 1114.5,343.2 1116.1,337.8 1117.6,335.5 1116.1,334.6 1107.9,330.2 1103.4,335.5 1099.6,338.8 1096.2,335.5 1093.9,327.8 1093.5,320.2 1097.4,312.5 1099.6,311.4 1100.6,312.5 1107.9,317.8 1116.1,313.7 1120.9,312.5 1124.3,310.6 1132.5,309.0 1137.2,312.5 1140.8,314.8 1146.3,312.5 1149.0,310.5M890.0,397.0 894.0,393.2 898.7,397.0 894.0,404.3ZM942.9,404.6 943.4,400.0 944.2,404.6 943.4,406.7ZM974.6,404.6 976.3,403.9 978.3,404.6 976.3,405.9ZM1149.0,430.6 1143.6,427.7 1140.8,426.0 1132.5,426.5 1125.6,427.7 1124.3,428.0 1116.1,428.1 1114.7,427.7 1107.9,425.2 1099.6,421.6 1091.4,423.1 1083.2,422.1 1075.0,420.1 1066.7,421.6 1058.5,420.7 1050.3,420.2 1048.2,420.0 1042.1,418.8 1033.8,416.6 1025.6,412.4 1017.4,416.3 1009.2,414.4 1006.1,412.3 1007.4,404.6 1009.2,404.0 1010.6,404.6 1017.4,408.8 1025.6,412.0 1033.8,406.8 1036.6,404.6 1042.1,402.3 1048.4,404.6 1050.3,408.3 1052.6,404.6 1058.5,402.6 1065.2,404.6 1066.7,405.9 1073.8,404.6 1075.0,404.5 1083.2,399.8 1091.4,400.4 1099.3,397.0 1099.6,396.4 1102.9,397.0 1107.9,397.3 1112.1,397.0 1116.1,395.4 1120.0,389.3 1124.3,385.7 1132.5,386.0 1140.8,384.0 1149.0,384.0M913.8,473.8 918.7,470.6 926.9,471.7 932.0,473.8 926.9,474.9 918.7,476.9ZM1057.2,473.8 1058.5,472.7 1066.7,473.2 1075.0,472.1 1083.2,471.7 1086.4,473.8 1083.2,475.1 1075.0,474.4 1066.7,474.0 1058.5,474.2ZM892.3,20.6 894.0,22.0 895.1,20.6M909.5,20.6 905.6,28.3 910.4,33.4 912.9,36.0 910.4,40.4 908.1,43.6 910.5,47.4 918.7,46.0 922.4,43.6 926.9,41.5 929.1,43.6 933.4,51.3 935.1,52.3 943.4,55.2 949.8,51.3 951.6,49.5 952.9,51.3 954.7,59.0 959.8,64.0 968.0,60.4 976.3,59.2 982.2,66.7 984.5,70.2 992.7,68.5 995.8,66.7 1000.9,64.7 1002.5,66.7 1009.2,70.9 1014.4,74.4 1017.4,77.0 1025.6,77.9 1033.8,81.6 1042.1,78.2 1050.3,82.0 1058.5,77.0 1060.7,74.4 1058.5,70.2 1056.2,66.7 1058.5,63.7 1066.7,64.3 1075.0,60.6 1083.2,61.7 1091.4,65.0 1092.9,66.7 1099.6,69.0 1103.5,66.7 1107.9,64.7 1114.5,59.0 1116.1,54.5 1120.3,59.0 1124.3,60.7 1127.2,59.0 1132.5,56.8 1140.8,57.8 1149.0,56.6M885.8,63.7 885.0,66.7 885.8,67.4 894.0,66.9 895.2,66.7 894.0,66.0ZM852.9,73.7 852.2,74.4 852.9,75.3 858.1,74.4ZM869.3,72.6 863.3,74.4 869.3,75.2 871.6,74.4ZM951.6,72.6 950.2,74.4 951.6,75.8 953.4,74.4ZM1083.2,73.9 1082.8,74.4 1083.2,74.7 1083.6,74.4ZM943.4,81.4 941.8,82.0 943.4,83.5 944.1,82.0ZM905.4,97.4 910.4,96.1 912.3,97.4 910.4,99.2ZM976.3,93.4 974.1,97.4 976.3,101.1 977.8,97.4ZM671.9,128.4 673.1,128.1 680.1,127.2 681.7,128.1 688.4,134.5 696.6,131.6 698.6,135.8 704.8,141.1 713.0,135.8 713.0,135.8 713.2,135.8 721.3,138.2 729.5,142.5 737.7,142.6 745.9,142.5 754.2,142.0 759.1,143.5 762.4,144.3 770.6,143.7 778.8,145.6 787.1,144.4 790.8,143.5 795.3,142.1 803.5,141.2 809.1,143.5 811.7,144.1 820.0,144.0 822.9,143.5 828.2,140.9 834.9,143.5 836.4,143.7 844.6,143.7 845.6,143.5 852.9,141.1 861.1,138.3 866.3,135.8 869.3,135.2 870.4,135.8 877.5,139.0 885.8,137.1 888.9,135.8 894.0,134.5 902.2,132.3 910.4,129.7 914.0,128.1 918.7,126.4 926.9,125.3 935.1,121.8 943.4,124.1 947.2,120.5 951.6,117.4 957.7,120.5 959.8,121.4 962.1,120.5 959.8,118.1 957.0,112.8 959.8,109.4 968.0,110.5 973.6,105.1 968.0,101.7 959.9,97.4 959.8,97.4 951.6,91.2 943.4,91.3 935.7,89.7 935.1,89.2 926.9,82.3 918.7,82.8 910.4,85.5 902.2,86.3 899.1,89.7 901.2,97.4 894.0,104.3 893.5,105.1 885.8,109.6 878.3,105.1 877.5,103.0 874.8,97.4 869.3,93.1 861.1,96.9 852.9,93.7 844.6,93.4 836.4,93.5 828.2,95.3 820.0,90.8 811.7,93.3 803.5,96.8 795.3,94.9 787.1,96.8 784.1,97.4 778.8,98.1 770.6,97.8 762.4,99.3 754.2,98.1 745.9,98.1 741.8,97.4 737.7,96.5 729.5,94.1 721.3,94.8 713.0,91.2 704.8,97.4 696.6,96.5 691.3,97.4 688.4,98.8 680.1,102.0 672.3,105.1 671.9,105.6M680.1,227.9 679.1,228.0 680.1,228.2 680.4,228.0ZM1149.0,253.9 1143.9,251.0 1140.8,247.3 1132.6,251.0 1132.5,251.0 1124.3,251.1 1123.7,251.0 1116.1,250.1 1107.9,248.0 1099.6,246.3 1091.4,247.9 1083.2,246.1 1075.0,247.1 1066.7,247.5 1062.2,243.3 1058.5,242.6 1054.0,235.7 1050.3,234.2 1043.4,228.0 1042.1,226.9 1033.8,227.7 1025.6,226.2 1021.4,228.0 1017.4,230.6 1013.6,228.0 1009.2,226.0 1000.9,223.2 992.7,226.4 984.5,223.0 976.3,222.5 970.7,220.3 968.0,219.6 960.6,220.3 959.8,220.4 959.5,220.3 951.6,218.1 943.4,217.3 935.1,219.0 931.5,220.3 926.9,221.9 918.7,222.0 915.7,220.3 910.4,218.5 902.2,218.0 894.0,217.9 885.8,216.4 877.5,216.1 869.3,216.0 861.1,218.2 852.9,217.7 844.6,218.4 836.4,217.1 829.5,220.3 828.2,220.7 826.6,220.3 820.0,218.5 811.7,218.0 808.3,220.3 803.5,223.1 795.3,225.0 787.1,221.3 778.8,225.2 770.6,225.7 764.1,228.0 762.4,228.5 755.4,228.0 754.2,227.8 745.9,225.4 737.7,227.5 734.7,228.0 729.5,228.8 721.3,232.2 714.8,235.7 713.0,241.4 709.4,235.7 704.8,233.1 701.7,235.7 696.6,237.9 690.8,235.7 688.4,233.3 685.6,235.7 680.1,241.8 677.6,243.3 671.9,246.1M1149.0,421.8 1145.9,420.0 1140.8,418.0 1132.5,417.6 1124.3,417.6 1116.1,415.2 1107.9,417.0 1100.7,412.3 1106.3,404.6 1107.9,403.7 1116.1,403.3 1122.0,404.6 1124.3,405.6 1126.4,404.6 1132.5,402.5 1140.8,401.2 1149.0,401.9M843.7,20.6 844.6,22.6 850.4,28.3 846.0,36.0 844.6,39.0 840.4,36.0 836.4,33.9 833.5,36.0 836.3,43.6 836.4,43.8 844.6,49.2 846.1,51.3 852.9,55.1 857.4,59.0 852.9,62.9 844.6,60.9 836.4,65.5 828.2,66.1 827.4,66.7 820.0,69.7 811.7,72.0 806.5,74.4 803.5,78.5 795.3,76.4 791.1,74.4 787.1,71.7 780.4,74.4 778.9,82.0 778.8,82.1 778.7,82.0 778.1,74.4 770.6,68.4 762.4,69.6 756.6,66.7 754.2,64.8 753.0,66.7 745.9,73.6 743.9,74.4 737.7,76.4 731.7,74.4 729.5,73.3 727.4,74.4 723.0,82.0 721.3,83.7 713.0,82.3 704.8,84.9 696.6,88.3 695.8,89.7 688.4,91.3 680.6,97.4 680.1,97.6 679.6,97.4 675.8,89.7 671.9,88.8M1138.4,66.7 1140.8,65.4 1142.2,66.7 1140.8,68.7ZM671.9,138.8 679.4,143.5 680.1,143.8 688.4,144.2 696.6,146.5 704.8,146.9 713.0,145.6 721.3,146.0 729.5,148.2 737.7,149.2 745.9,147.5 754.2,147.1 762.4,147.7 769.7,151.2 770.6,151.7 772.5,151.2 778.8,149.6 787.1,148.1 795.3,149.3 803.5,147.4 811.7,147.3 820.0,147.5 828.2,148.3 836.4,147.3 844.6,147.5 852.9,147.0 861.1,147.3 869.3,145.5 877.5,144.8 885.8,145.4 892.3,143.5 894.0,142.9 902.2,139.4 910.4,142.6 917.5,135.8 918.7,135.1 926.3,135.8 926.9,135.9 927.0,135.8 935.1,131.0 943.4,132.4 951.6,129.9 957.6,128.1 959.8,127.8 968.0,124.7 976.3,122.4 984.5,124.5 988.6,120.5 990.2,112.8 989.3,105.1 992.7,101.7 998.8,105.1 1000.9,108.5 1009.2,105.9 1014.5,112.8 1017.4,113.9 1019.1,112.8 1025.6,106.3 1033.8,107.8 1039.1,105.1 1042.1,102.5 1050.3,102.8 1052.8,97.4 1057.2,89.7 1058.5,88.7 1066.7,85.4 1075.0,83.6 1083.2,84.1 1091.4,84.7 1099.6,83.2 1107.9,83.7 1110.3,82.0 1115.7,74.4 1116.1,73.1 1116.7,74.4 1124.3,77.5 1132.5,77.1 1140.8,78.6 1149.0,77.7M1149.0,239.8 1140.8,237.1 1133.4,243.3 1132.5,244.0 1129.3,243.3 1124.3,242.1 1116.1,242.9 1107.9,240.3 1101.9,235.7 1099.6,234.0 1091.4,235.5 1091.3,235.7 1083.2,238.6 1078.3,235.7 1075.0,232.4 1066.7,231.7 1058.5,230.2 1050.3,228.6 1049.6,228.0 1042.1,221.8 1033.8,222.1 1027.6,220.3 1025.6,219.0 1017.4,218.7 1009.2,218.7 1000.9,216.0 992.7,215.5 984.5,213.5 976.3,215.1 968.0,212.9 967.0,212.6 959.8,209.0 951.6,209.9 943.4,210.3 936.5,212.6 935.1,213.0 926.9,213.2 925.5,212.6 918.7,211.2 916.2,212.6 910.4,214.8 904.7,212.6 902.2,211.1 894.0,208.4 885.8,210.3 877.5,211.5 869.3,211.9 861.1,208.9 852.9,211.7 844.6,212.0 836.4,210.4 830.2,212.6 828.2,213.5 820.0,213.2 816.2,212.6 811.7,210.8 810.5,212.6 803.5,217.2 795.3,216.1 787.1,214.4 778.8,214.4 770.6,218.1 762.4,217.6 754.2,215.8 746.1,220.3 745.9,220.4 737.7,221.1 735.4,220.3 729.5,216.8 721.3,217.1 713.0,215.6 704.8,217.3 696.6,217.5 692.4,220.3 688.4,223.6 680.1,222.7 671.9,220.7M776.1,20.6 778.8,22.5 784.7,20.6M787.9,20.6 787.1,21.8 783.7,28.3 785.1,36.0 785.9,43.6 787.1,47.4 789.2,51.3 788.4,59.0 787.1,59.7 785.1,59.0 778.8,55.5 770.6,52.8 762.4,55.5 754.2,51.8 753.3,51.3 745.9,49.1 737.7,46.3 732.9,51.3 729.5,54.0 723.7,59.0 721.4,66.7 721.3,66.7 713.0,68.6 706.6,74.4 704.8,75.9 699.5,74.4 696.6,68.0 688.4,74.3 680.1,72.9 677.3,74.4 671.9,78.3M729.5,43.3 727.9,43.6 729.5,45.2 731.5,43.6ZM713.0,56.7 712.0,59.0 713.0,62.1 716.4,59.0ZM1116.1,110.6 1114.4,112.8 1116.1,113.3 1117.8,112.8ZM926.6,143.5 926.9,143.3 927.3,143.5 926.9,144.3ZM671.9,148.1 679.7,151.2 680.1,155.8 680.6,151.2 688.4,149.2 694.7,151.2 696.6,153.0 704.8,153.5 713.0,154.3 721.3,154.5 729.5,156.8 737.7,154.5 745.9,153.6 754.2,153.5 761.3,151.2 762.4,151.0 762.7,151.2 770.6,156.0 778.8,154.9 787.1,152.6 795.3,154.3 803.5,155.3 808.8,151.2 811.7,150.4 820.0,150.9 820.9,151.2 824.0,158.9 828.2,163.0 835.1,158.9 835.5,151.2 836.4,150.9 841.4,151.2 844.6,151.9 852.9,153.3 861.1,155.8 869.3,153.5 877.5,154.2 885.8,154.4 890.3,151.2 894.0,149.8 902.2,149.9 910.4,147.8 918.7,149.2 922.6,151.2 926.9,152.2 929.8,151.2 935.1,147.8 940.5,143.5 943.4,140.7 951.6,141.2 959.8,140.4 964.1,135.8 968.0,132.8 976.3,132.7 984.5,135.6 992.7,132.6 1000.9,134.5 1003.7,128.1 1009.2,125.1 1015.9,120.5 1017.4,119.7 1020.0,120.5 1025.6,126.7 1033.8,121.5 1042.1,125.3 1050.3,122.7 1056.9,120.5 1058.5,117.6 1062.5,112.8 1066.7,111.2 1075.0,112.0 1083.2,108.7 1089.2,105.1 1091.4,103.5 1096.0,105.1 1099.6,107.9 1107.9,105.7 1108.7,105.1 1116.1,103.1 1124.3,102.8 1132.5,99.1 1134.3,97.4 1140.8,93.0 1149.0,93.6M778.8,165.7 777.9,166.5 778.8,166.9 779.7,166.5ZM795.3,197.0 794.9,197.3 795.3,198.5 796.7,197.3ZM1149.0,233.5 1140.8,232.0 1134.9,228.0 1132.5,225.6 1124.3,222.2 1116.1,224.5 1107.9,222.9 1099.6,224.1 1095.6,220.3 1091.4,218.3 1083.2,217.4 1075.0,218.4 1066.7,217.6 1058.5,215.9 1050.3,217.1 1042.1,215.5 1033.8,213.3 1033.0,212.6 1025.6,209.5 1019.5,204.9 1017.4,203.9 1015.2,204.9 1009.2,209.6 1000.9,208.9 992.7,207.1 984.5,206.5 981.1,204.9 976.3,203.5 968.3,197.3 968.0,197.0 966.4,197.3 959.8,198.7 956.5,197.3 951.6,195.8 946.6,197.3 943.4,200.0 935.1,198.7 926.9,204.7 926.3,204.9 918.7,205.7 916.7,204.9 910.4,198.6 902.2,204.4 894.0,198.1 887.8,197.3 885.8,197.1 885.5,197.3 877.5,201.4 869.3,202.6 861.1,197.6 852.9,200.1 844.6,201.1 836.4,203.8 828.2,197.4 820.0,198.9 811.7,199.6 803.5,200.2 798.6,204.9 795.3,206.3 787.1,206.0 784.1,204.9 778.8,202.7 770.6,200.2 762.4,201.6 756.0,204.9 754.2,205.8 745.9,207.2 737.7,206.9 729.5,208.1 721.3,208.7 713.0,208.4 704.8,209.0 696.6,209.1 691.5,212.6 688.4,214.1 680.1,214.3 675.0,212.6 671.9,212.1M671.9,23.8 675.6,20.6M721.2,20.6 721.3,20.6 728.7,28.3 729.5,29.4 732.2,36.0 729.5,37.5 727.0,36.0 721.3,31.6 713.0,35.1 704.8,32.9 699.1,36.0 696.6,37.8 690.3,43.6 688.4,49.2 687.0,51.3 680.7,59.0 680.1,59.5 679.6,59.0 671.9,54.8M671.9,66.5 672.1,66.7 671.9,66.8M793.0,158.9 795.3,158.5 796.4,158.9 795.3,159.9ZM896.2,158.9 902.2,157.6 910.2,158.9 902.2,161.2ZM671.9,168.3 680.1,169.1 688.4,168.4 696.6,167.0 697.5,166.5 704.8,165.4 713.0,166.3 713.5,166.5 721.3,169.4 729.5,168.4 734.9,166.5 737.7,162.2 739.4,166.5 740.6,174.2 745.9,176.6 750.3,174.2 754.2,170.3 761.7,174.2 762.4,174.8 770.6,174.5 771.0,174.2 778.8,171.8 786.6,174.2 787.1,174.7 787.7,174.2 795.3,171.3 803.5,173.7 804.8,174.2 811.7,176.0 817.2,174.2 820.0,172.5 822.5,174.2 828.2,179.5 831.5,174.2 836.4,169.4 844.6,168.8 852.9,168.6 861.1,167.1 869.3,168.2 877.5,172.5 885.8,171.6 894.0,174.2 902.2,170.5 910.5,169.8 911.2,166.5 918.7,160.6 921.2,158.9 926.9,156.5 935.1,156.8 943.4,155.3 951.6,153.0 959.8,153.2 968.0,152.9 970.4,151.2 976.3,146.5 984.5,146.5 992.7,146.6 1000.9,146.4 1009.2,146.3 1011.2,143.5 1017.4,140.3 1025.6,140.2 1033.8,141.1 1042.1,138.2 1045.0,135.8 1050.3,129.8 1058.5,131.4 1066.1,128.1 1066.7,127.8 1075.0,126.8 1083.2,126.3 1091.4,125.8 1099.6,125.8 1107.9,123.7 1111.6,120.5 1116.1,117.9 1124.3,118.6 1131.9,112.8 1132.5,112.1 1140.8,110.8 1143.5,112.8 1149.0,113.8M1149.0,226.0 1140.8,226.0 1135.6,220.3 1132.5,218.4 1124.3,215.6 1116.1,215.4 1109.2,212.6 1107.9,212.0 1106.6,212.6 1099.6,216.2 1092.3,212.6 1091.4,212.0 1083.2,210.2 1076.6,212.6 1075.0,213.1 1074.0,212.6 1066.7,209.2 1058.5,209.0 1052.8,204.9 1050.3,203.9 1042.1,203.9 1033.8,201.4 1025.6,203.2 1017.4,200.2 1009.2,202.6 1000.9,200.2 992.7,199.9 984.5,199.5 976.3,199.0 974.1,197.3 968.0,191.0 964.9,189.6 959.8,187.2 951.6,189.6 951.5,189.6 943.4,191.3 935.1,190.5 926.9,193.0 918.7,191.9 910.4,190.3 902.2,190.6 901.2,189.6 894.0,187.2 885.8,187.1 877.5,186.2 871.4,189.6 869.3,191.8 862.7,189.6 861.1,188.5 852.9,186.0 844.6,188.6 836.4,186.9 828.2,182.7 821.0,189.6 820.0,190.7 818.5,189.6 811.7,185.8 803.5,186.5 795.3,188.1 787.1,187.4 783.8,189.6 778.8,192.3 770.6,189.9 764.4,189.6 762.4,189.4 761.8,189.6 754.2,191.4 745.9,193.3 737.7,193.9 729.5,194.0 721.3,195.3 717.3,197.3 713.0,201.1 704.8,200.8 696.6,198.2 690.8,204.9 688.4,207.0 680.1,205.7 671.9,206.6M712.8,28.3 713.0,28.2 713.1,28.3 713.0,28.3ZM1009.2,165.7 1008.6,166.5 1009.2,167.1 1010.5,166.5ZM893.0,181.9 894.0,181.2 895.7,181.9 894.0,182.4ZM671.9,195.0 672.4,197.3 671.9,197.8M1149.0,220.9 1147.8,220.3 1140.8,212.8 1140.4,212.6 1132.5,208.3 1124.3,206.7 1116.1,207.2 1107.9,206.5 1105.0,204.9 1099.6,200.7 1091.4,204.1 1083.2,203.7 1075.0,198.7 1066.7,199.5 1060.2,197.3 1058.5,190.0 1056.7,197.3 1050.3,197.4 1049.9,197.3 1042.1,192.4 1033.8,195.1 1025.6,193.7 1020.0,189.6 1017.4,186.9 1013.5,189.6 1009.2,191.5 1004.1,189.6 1000.9,188.8 997.6,189.6 992.7,190.9 991.6,189.6 992.7,184.6 993.4,181.9 1000.9,175.7 1002.9,174.2 1000.9,172.5 995.6,166.5 992.7,159.2 991.6,158.9 992.7,158.6 994.5,158.9 1000.9,159.4 1001.9,158.9 1009.2,156.3 1015.7,151.2 1017.4,149.0 1018.9,151.2 1025.6,156.6 1033.8,152.4 1038.0,151.2 1042.1,149.0 1050.3,149.9 1058.5,146.0 1066.7,144.9 1067.8,143.5 1075.0,140.0 1080.1,143.5 1083.2,145.2 1086.4,143.5 1091.4,139.9 1099.6,139.3 1104.4,135.8 1107.9,131.8 1113.1,128.1 1116.1,125.8 1124.3,123.5 1132.5,124.9 1140.8,124.9 1148.7,120.5 1149.0,120.3M1122.4,128.1 1124.3,127.2 1126.8,128.1 1124.3,131.4ZM1031.3,158.9 1033.8,157.4 1036.7,158.9 1033.8,161.5ZM1149.0,204.0 1148.0,204.9 1140.8,208.4 1136.5,204.9 1132.5,197.3 1131.9,197.3 1124.3,196.2 1122.6,197.3 1116.1,199.6 1107.9,199.9 1104.6,197.3 1099.6,192.0 1091.7,197.3 1091.4,197.4 1090.9,197.3 1089.9,189.6 1083.2,186.0 1075.0,186.4 1068.1,189.6 1066.7,190.2 1066.1,189.6 1066.7,186.9 1068.4,181.9 1066.7,179.4 1062.7,181.9 1058.5,183.0 1055.6,181.9 1054.5,174.2 1058.5,170.7 1060.1,166.5 1058.5,160.8 1058.0,158.9 1058.5,158.3 1066.7,158.1 1073.2,158.9 1073.3,166.5 1075.0,168.2 1077.0,166.5 1076.3,158.9 1080.0,151.2 1083.2,149.6 1089.1,151.2 1091.4,153.0 1098.1,151.2 1099.6,150.6 1102.0,151.2 1107.9,151.8 1110.7,151.2 1116.1,148.0 1124.3,144.9 1127.7,143.5 1132.5,141.3 1140.8,139.3 1149.0,142.7M1149.0,194.1 1140.8,193.6 1136.9,189.6 1132.5,183.6 1124.3,182.7 1123.5,181.9 1116.1,175.5 1114.8,174.2 1116.1,172.0 1117.6,166.5 1121.2,158.9 1124.3,156.7 1132.5,155.5 1140.8,157.1 1141.9,158.9 1140.8,163.9 1139.3,166.5 1140.8,168.1 1149.0,169.4"/></g>
<path d="M127.7,504.5V499.0M127.7,20.6V26.1M209.9,504.5V499.0M209.9,20.6V26.1M292.1,504.5V499.0M292.1,20.6V26.1M374.3,504.5V499.0M374.3,20.6V26.1M456.5,504.5V499.0M456.5,20.6V26.1M538.7,504.5V499.0M538.7,20.6V26.1M61.9,435.4H67.4M538.7,435.4H533.2M61.9,358.6H67.4M538.7,358.6H533.2M61.9,281.8H67.4M538.7,281.8H533.2M61.9,204.9H67.4M538.7,204.9H533.2M61.9,128.1H67.4M538.7,128.1H533.2M61.9,51.3H67.4M538.7,51.3H533.2" stroke="#262626" stroke-width="1.6" fill="none"/><rect x="61.9" y="20.6" width="476.8" height="483.9" fill="none" stroke="#262626" stroke-width="1.8"/>
<g font-family="'Liberation Sans', Arial, Helvetica, sans-serif" font-size="21.2" fill="#262626"><text x="127.7" y="534.3" text-anchor="middle">1970</text><text x="209.9" y="534.3" text-anchor="middle">1980</text><text x="292.1" y="534.3" text-anchor="middle">1990</text><text x="374.3" y="534.3" text-anchor="middle">2000</text><text x="456.5" y="534.3" text-anchor="middle">2010</text><text x="538.7" y="534.3" text-anchor="middle">2020</text><text x="53.6" y="444.2" text-anchor="end">10</text><text x="53.6" y="367.4" text-anchor="end">20</text><text x="53.6" y="290.6" text-anchor="end">30</text><text x="53.6" y="213.7" text-anchor="end">40</text><text x="53.6" y="136.9" text-anchor="end">50</text><text x="53.6" y="60.1" text-anchor="end">60</text></g>
<text x="300.3" y="562.3" text-anchor="middle" font-family="'Liberation Sans', Arial, Helvetica, sans-serif" font-size="21.8" font-weight="bold" fill="#262626">Year</text>
<path d="M737.7,504.5V499.0M737.7,20.6V26.1M820.0,504.5V499.0M820.0,20.6V26.1M902.2,504.5V499.0M902.2,20.6V26.1M984.5,504.5V499.0M984.5,20.6V26.1M1066.7,504.5V499.0M1066.7,20.6V26.1M1149.0,504.5V499.0M1149.0,20.6V26.1M671.9,435.4H677.4M1149.0,435.4H1143.5M671.9,358.6H677.4M1149.0,358.6H1143.5M671.9,281.8H677.4M1149.0,281.8H1143.5M671.9,204.9H677.4M1149.0,204.9H1143.5M671.9,128.1H677.4M1149.0,128.1H1143.5M671.9,51.3H677.4M1149.0,51.3H1143.5" stroke="#262626" stroke-width="1.6" fill="none"/><rect x="671.9" y="20.6" width="477.1" height="483.9" fill="none" stroke="#262626" stroke-width="1.8"/>
<g font-family="'Liberation Sans', Arial, Helvetica, sans-serif" font-size="21.2" fill="#262626"><text x="737.7" y="534.3" text-anchor="middle">1970</text><text x="820.0" y="534.3" text-anchor="middle">1980</text><text x="902.2" y="534.3" text-anchor="middle">1990</text><text x="984.5" y="534.3" text-anchor="middle">2000</text><text x="1066.7" y="534.3" text-anchor="middle">2010</text><text x="1149.0" y="534.3" text-anchor="middle">2020</text><text x="663.6" y="444.2" text-anchor="end">10</text><text x="663.6" y="367.4" text-anchor="end">20</text><text x="663.6" y="290.6" text-anchor="end">30</text><text x="663.6" y="213.7" text-anchor="end">40</text><text x="663.6" y="136.9" text-anchor="end">50</text><text x="663.6" y="60.1" text-anchor="end">60</text></g>
<text x="910.5" y="562.3" text-anchor="middle" font-family="'Liberation Sans', Arial, Helvetica, sans-serif" font-size="21.8" font-weight="bold" fill="#262626">Year</text>
<text transform="translate(19.6,262.6) rotate(-90)" text-anchor="middle" font-family="'Liberation Sans', Arial, Helvetica, sans-serif" font-size="20.9" font-weight="bold" fill="#262626">Time scale/year</text>
<text transform="translate(629.6,262.6) rotate(-90)" text-anchor="middle" font-family="'Liberation Sans', Arial, Helvetica, sans-serif" font-size="20.9" font-weight="bold" fill="#262626">Time scale/year</text>
<rect x="551.7" y="20.0" width="19.6" height="484.0" fill="url(#par)" stroke="#333" stroke-width="1"/><path d="M570.8,51.8H566.3M570.8,94.4H566.3M570.8,137.0H566.3M570.8,179.7H566.3M570.8,222.3H566.3M570.8,264.9H566.3M570.8,307.5H566.3M570.8,350.1H566.3M570.8,392.8H566.3M570.8,435.4H566.3M570.8,478.0H566.3" stroke="#262626" stroke-width="1.6" fill="none"/><g font-family="'Liberation Sans', Arial, Helvetica, sans-serif" font-size="19" fill="#262626"><text x="578.5" y="59.1">250</text><text x="578.5" y="101.7">200</text><text x="578.5" y="144.3">150</text><text x="578.5" y="187.0">100</text><text x="578.5" y="229.6">50</text><text x="578.5" y="272.2">0</text><text x="578.5" y="314.8">-50</text><text x="578.5" y="357.4">-100</text><text x="578.5" y="400.1">-150</text><text x="578.5" y="442.7">-200</text><text x="578.5" y="485.3">-250</text></g>
<rect x="1163.5" y="20.0" width="19.0" height="484.0" fill="url(#par)" stroke="#333" stroke-width="1"/><path d="M1182.0,40.5H1177.5M1182.0,117.8H1177.5M1182.0,195.1H1177.5M1182.0,272.3H1177.5M1182.0,349.6H1177.5M1182.0,426.9H1177.5" stroke="#262626" stroke-width="1.6" fill="none"/><g font-family="'Liberation Sans', Arial, Helvetica, sans-serif" font-size="19" fill="#262626"><text x="1189.7" y="47.8">300</text><text x="1189.7" y="125.1">250</text><text x="1189.7" y="202.4">200</text><text x="1189.7" y="279.6">150</text><text x="1189.7" y="356.9">100</text><text x="1189.7" y="434.2">50</text></g>
<text x="2" y="17.6" font-family="'Liberation Sans', Arial, Helvetica, sans-serif" font-size="20" font-weight="bold" fill="#000">(a)</text>
<text x="612" y="17.6" font-family="'Liberation Sans', Arial, Helvetica, sans-serif" font-size="20" font-weight="bold" fill="#000">(b)</text>
<text x="1223" y="17.6" font-family="'Liberation Sans', Arial, Helvetica, sans-serif" font-size="20" font-weight="bold" fill="#000">(c)</text>
<path d="M1289.3,502.9 1295.6,500.3 1303.0,496.6 1309.7,487.3 1316.3,465.1 1322.7,483.6 1330.1,495.5 1337.5,498.1 1343.8,497.7 1350.5,492.1 1357.2,479.9 1363.8,463.2 1371.2,453.9 1377.6,458.8 1384.6,469.5 1392.0,473.6 1398.7,471.7 1405.4,470.6 1411.7,473.2 1419.1,478.0 1425.8,484.0 1432.8,486.6 1439.5,485.1 1446.2,482.1 1453.2,479.5 1459.9,477.7 1466.2,478.4 1472.9,483.6 1480.3,487.3 1487.0,489.2 1494.0,488.4 1501.1,484.3 1507.4,476.9 1514.4,463.9 1521.1,446.5 1527.8,415.5 1534.7,374.1 1541.6,323.6 1548.8,254.8 1556.0,191.2 1562.4,127.5 1568.8,74.5 1575.6,49.5 1582.3,47.0 1589.1,74.5 1596.3,121.2 1602.7,174.2 1609.9,233.6 1616.6,300.6 1623.4,344.3 1630.3,374.1 1636.5,386.3 1643.3,386.9 1650.7,378.0 1657.1,363.2 1664.1,350.2 1671.3,341.3 1678.3,338.2 1684.7,338.8 1692.1,344.1 1698.4,352.4 1704.8,360.8 1711.8,363.6 1718.2,367.2" fill="none" stroke="#000" stroke-width="2.3" stroke-linejoin="round"/>
<path d="M1282.6,20.9V504.5H1759.3M1282.6,504.5V499.5M1350.7,504.5V499.5M1418.8,504.5V499.5M1486.9,504.5V499.5M1555.0,504.5V499.5M1623.1,504.5V499.5M1691.2,504.5V499.5M1759.3,504.5V499.5M1282.6,504.5H1287.6M1282.6,383.6H1287.6M1282.6,262.7H1287.6M1282.6,141.8H1287.6M1282.6,20.9H1287.6" stroke="#262626" stroke-width="1.6" fill="none"/>
<g font-family="'Liberation Serif', 'Times New Roman', Times, serif" font-size="22" fill="#262626"><text x="1282.6" y="532.3" text-anchor="middle">0</text><text x="1350.7" y="532.3" text-anchor="middle">10</text><text x="1418.8" y="532.3" text-anchor="middle">20</text><text x="1486.9" y="532.3" text-anchor="middle">30</text><text x="1555.0" y="532.3" text-anchor="middle">40</text><text x="1623.1" y="532.3" text-anchor="middle">50</text><text x="1691.2" y="532.3" text-anchor="middle">60</text><text x="1759.3" y="532.3" text-anchor="middle">70</text><text x="1274.0" y="512.7" text-anchor="end">0</text><text x="1274.0" y="391.8" text-anchor="end">1</text><text x="1274.0" y="270.9" text-anchor="end">2</text><text x="1274.0" y="150.0" text-anchor="end">3</text><text x="1274.0" y="29.1" text-anchor="end">4</text></g>
<text x="1521" y="559" text-anchor="middle" font-family="'Liberation Sans', Arial, Helvetica, sans-serif" font-size="21" font-weight="bold" fill="#262626">Time scale/year</text>
<text transform="translate(1253.4,366.8) rotate(-90)" font-family="'Liberation Sans', Arial, Helvetica, sans-serif" font-size="21" font-weight="bold" fill="#262626">Wavelet variance/10<tspan dy="-10" font-size="15.5">6</tspan></text>
</svg>
</body></html>
